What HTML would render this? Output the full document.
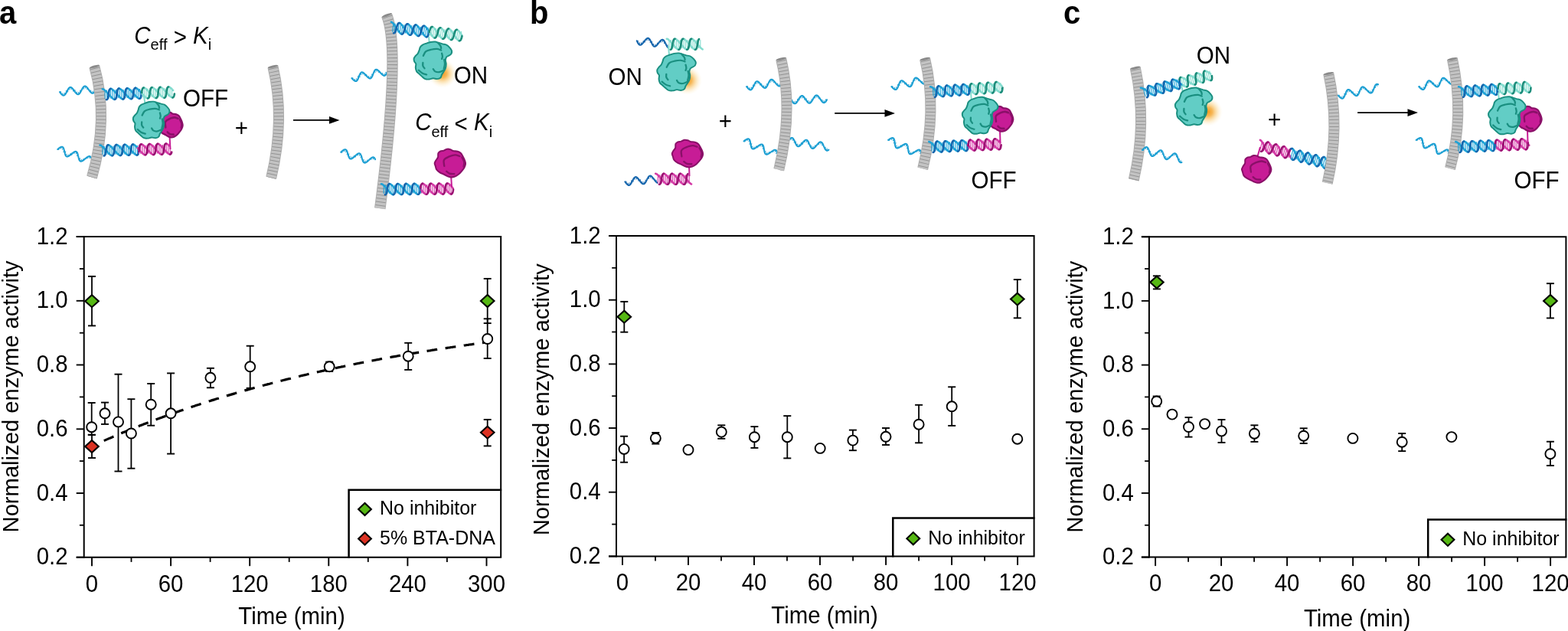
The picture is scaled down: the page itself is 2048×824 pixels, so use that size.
<!DOCTYPE html><html><head><meta charset="utf-8"><title>Figure</title><style>html,body{margin:0;padding:0;background:#fff;width:2048px;height:824px;overflow:hidden}svg{display:block}</style></head><body>
<svg width="2048" height="824" viewBox="0 0 2048 824" font-family="'Liberation Sans', sans-serif">
<defs><radialGradient id="glow"><stop offset="0" stop-color="#f29a20" stop-opacity="1"/><stop offset="0.3" stop-color="#f5ac3c" stop-opacity="0.85"/><stop offset="0.65" stop-color="#fad48a" stop-opacity="0.45"/><stop offset="1" stop-color="#fff4d8" stop-opacity="0"/></radialGradient></defs>
<rect width="2048" height="824" fill="#fff"/>
<text transform="translate(-1 30.6) scale(1 1.04)" font-size="40" text-anchor="start" font-weight="bold">a</text>
<text transform="translate(692 30.6) scale(1 1.04)" font-size="40" text-anchor="start" font-weight="bold">b</text>
<text transform="translate(1389 30.6) scale(1 1.04)" font-size="40" text-anchor="start" font-weight="bold">c</text>
<text transform="translate(175.3 56.6) scale(1 1.04)" font-size="29.5" fill="#000"><tspan font-style="italic">C</tspan><tspan font-size="20" dy="8">eff</tspan><tspan dy="-8"> </tspan><tspan dy="2">&gt;</tspan><tspan dy="-2"> </tspan><tspan font-style="italic">K</tspan><tspan font-size="20" dy="8">i</tspan></text>
<text transform="translate(542.2 170.4) scale(1 1.04)" font-size="29.5" fill="#000"><tspan font-style="italic">C</tspan><tspan font-size="20" dy="8">eff</tspan><tspan dy="-8"> </tspan><tspan dy="2">&lt;</tspan><tspan dy="-2"> </tspan><tspan font-style="italic">K</tspan><tspan font-size="20" dy="8">i</tspan></text>
<text transform="translate(238.9 139.2) scale(1 1.04)" font-size="29.6" text-anchor="start">OFF</text>
<text transform="translate(592.8 108.6) scale(1 1.04)" font-size="29.6" text-anchor="start">ON</text>
<text transform="translate(315.4 178) scale(1 1.04)" font-size="29.5" text-anchor="middle">+</text>
<line x1="383" y1="156.9" x2="435.5" y2="156.9" stroke="#000" stroke-width="1.8"/>
<path d="M443.5 156.9L430 152L430 161.8Z" fill="#000"/>
<path d="M78 120L78.3 120.4L78.6 120.8L78.8 121.2L79.1 121.5L79.4 121.9L79.7 122.2L79.9 122.6L80.2 122.9L80.5 123.2L80.7 123.5L81 123.7L81.3 123.9L81.5 124.1L81.8 124.3L82.1 124.4L82.3 124.5L82.6 124.6L82.8 124.6L83.1 124.6L83.3 124.6L83.6 124.5L83.8 124.4L84 124.3L84.3 124.1L84.5 124L84.7 123.7L85 123.5L85.2 123.2L85.4 122.9L85.7 122.6L85.9 122.2L86.1 121.9L86.3 121.5L86.5 121.1L86.8 120.7L87 120.3L87.2 119.8L87.4 119.4L87.6 119L87.8 118.6L88.1 118.1L88.3 117.7L88.5 117.3L88.7 116.9L88.9 116.6L89.2 116.2L89.4 115.9L89.6 115.5L89.8 115.3L90.1 115L90.3 114.7L90.5 114.5L90.8 114.4L91 114.2L91.2 114.1L91.5 114L91.7 114L92 113.9L92.2 114L92.5 114L92.7 114.1L93 114.2L93.2 114.3L93.5 114.5L93.8 114.7L94 115L94.3 115.2L94.6 115.5L94.8 115.8L95.1 116.1L95.4 116.5L95.7 116.8L95.9 117.2L96.2 117.6L96.5 118L96.8 118.3L97.1 118.7L97.3 119.1L97.6 119.5L97.9 119.9L98.2 120.3L98.4 120.6L98.7 121L99 121.3L99.3 121.6L99.5 121.9L99.8 122.1L100.1 122.4L100.3 122.6L100.6 122.8L100.9 122.9L101.1 123L101.4 123.1L101.6 123.2L101.9 123.2L102.1 123.2L102.4 123.2L102.6 123.1L102.8 123L103.1 122.8L103.3 122.7L103.6 122.4L103.8 122.2L104 122L104.2 121.7L104.5 121.4L104.7 121L104.9 120.7L105.1 120.3L105.4 119.9L105.6 119.5L105.8 119.1L106 118.7L106.2 118.2L106.4 117.8L106.7 117.4L106.9 117L107.1 116.5L107.3 116.1L107.5 115.7L107.7 115.4L108 115L108.2 114.6L108.4 114.3L108.6 114L108.9 113.7L109.1 113.5L109.3 113.2L109.6 113L109.8 112.9L110 112.7L110.3 112.6L110.5 112.6L110.8 112.5L111 112.5L111.3 112.5L111.5 112.6L111.8 112.7L112 112.8L112.3 113L112.6 113.2L112.8 113.4L113.1 113.6L113.4 113.9L113.6 114.2L113.9 114.5L114.2 114.8L114.5 115.2L114.7 115.5L115 115.9L115.3 116.3L115.6 116.7L115.8 117.1L116.1 117.5L116.4 117.8L116.7 118.2L116.9 118.6L117.2 119L117.5 119.3L117.8 119.7L118 120L118.3 120.3L118.6 120.6L118.9 120.8L119.1 121L119.4 121.2L119.6 121.4L119.9 121.5L120.2 121.7L120.4 121.7L120.7 121.8L120.9 121.8L121.2 121.8L121.4 121.7L121.7 121.6L121.9 121.5L122.1 121.3L122.4 121.1L122.6 120.9L122.8 120.7L123.1 120.4L123.3 120.1L123.5 119.8L123.7 119.5L123.9 119.1L124.2 118.7L124.4 118.3L124.6 117.9" fill="none" stroke="#1c9fd3" stroke-width="2.1" stroke-linecap="round" stroke-linejoin="round"/>
<path d="M79.7 122.3l-0.2 -3M82.1 124.5l-0.2 -3M84.4 124l-0.2 -3M86.5 121.1l-0.2 -3M88.5 117.3l0.2 3M90.6 114.5l0.2 3M92.9 114.2l0.2 3M95.4 116.5l0.2 3M98 120l-0.2 -3M100.5 122.7l-0.2 -3M102.8 123l-0.2 -3M104.9 120.6l-0.2 -3M109 113.6l0.2 3M111.2 112.5l0.2 3M113.7 114.2l0.2 3M118.8 120.7l-0.2 -3M121.2 121.8l-0.2 -3M123.3 120l-0.2 -3" fill="none" stroke="#1c9fd3" stroke-width="1.0"/>
<path d="M75.3 195L75.7 194.7L76 194.4L76.4 194.1L76.8 193.8L77.1 193.5L77.5 193.2L77.8 193L78.2 192.8L78.5 192.5L78.8 192.3L79.2 192.2L79.5 192L79.8 191.9L80.1 191.8L80.4 191.8L80.6 191.7L80.9 191.7L81.1 191.7L81.4 191.8L81.6 191.9L81.8 192L82 192.2L82.2 192.4L82.4 192.6L82.6 192.8L82.8 193.1L82.9 193.4L83.1 193.7L83.2 194.1L83.4 194.5L83.5 194.8L83.6 195.3L83.7 195.7L83.8 196.1L83.9 196.6L84 197L84.2 197.5L84.3 198L84.4 198.4L84.5 198.9L84.6 199.4L84.7 199.8L84.8 200.3L84.9 200.7L85 201.1L85.1 201.5L85.3 201.9L85.4 202.3L85.5 202.6L85.7 202.9L85.9 203.2L86 203.5L86.2 203.7L86.4 203.9L86.6 204.1L86.8 204.2L87 204.3L87.3 204.4L87.5 204.5L87.8 204.5L88.1 204.5L88.3 204.4L88.6 204.3L88.9 204.2L89.2 204.1L89.5 203.9L89.9 203.8L90.2 203.6L90.5 203.3L90.9 203.1L91.2 202.8L91.6 202.5L92 202.3L92.3 202L92.7 201.7L93.1 201.4L93.4 201.1L93.8 200.7L94.2 200.4L94.5 200.1L94.9 199.9L95.2 199.6L95.6 199.3L95.9 199.1L96.3 198.9L96.6 198.6L96.9 198.5L97.3 198.3L97.6 198.2L97.9 198.1L98.2 198L98.4 197.9L98.7 197.9L99 197.9L99.2 198L99.5 198L99.7 198.1L99.9 198.3L100.1 198.4L100.3 198.6L100.5 198.9L100.6 199.1L100.8 199.4L101 199.7L101.1 200.1L101.3 200.4L101.4 200.8L101.5 201.2L101.6 201.6L101.7 202L101.8 202.5L102 202.9L102.1 203.4L102.2 203.9L102.3 204.3L102.4 204.8L102.5 205.3L102.6 205.7L102.7 206.2L102.8 206.6L102.9 207.1L103 207.5L103.1 207.9L103.3 208.2L103.4 208.6L103.6 208.9L103.7 209.2L103.9 209.5L104.1 209.8L104.3 210L104.5 210.2L104.7 210.3L104.9 210.5L105.1 210.6L105.4 210.6L105.6 210.6L105.9 210.7L106.1 210.6L106.4 210.6L106.7 210.5L107 210.4L107.3 210.2L107.6 210L108 209.9L108.3 209.6L108.7 209.4L109 209.2L109.4 208.9L109.7 208.6L110.1 208.3L110.4 208L110.8 207.7L111.2 207.4L111.5 207.1L111.9 206.8L112.3 206.5L112.6 206.2L113 205.9L113.4 205.7L113.7 205.4L114.1 205.2L114.4 204.9L114.7 204.7L115 204.6L115.4 204.4L115.7 204.3L116 204.2L116.2 204.1L116.5 204.1L116.8 204.1L117 204.1L117.3 204.2L117.5 204.3L117.7 204.4L117.9 204.5L118.1 204.7L118.3 204.9L118.5 205.2L118.7 205.4L118.8 205.7L119 206L119.1 206.4" fill="none" stroke="#1c9fd3" stroke-width="2.1" stroke-linecap="round" stroke-linejoin="round"/>
<path d="M77.5 193.2l-1 2.8M80.4 191.7l-1 2.8M82.5 192.7l-1 2.8M83.8 196.1l-1 2.8M84.8 200.3l1 -2.8M86.1 203.6l1 -2.8M88.2 204.4l1 -2.8M91.2 202.8l1 -2.8M94.6 200.1l-1 2.8M97.7 198.1l-1 2.8M100 198.4l-1 2.8M101.5 201.2l-1 2.8M103.7 209.1l1 -2.8M105.6 210.6l1 -2.8M108.3 209.6l1 -2.8M114.9 204.6l-1 2.8M117.5 204.2l-1 2.8" fill="none" stroke="#1c9fd3" stroke-width="1.0"/>
<path d="M123.3 87Q142.3 154.8 120 231.5" fill="none" stroke="#acacac" stroke-width="14.1"/>
<path d="M123.3 87Q142.3 154.8 120 231.5" fill="none" stroke="#c3c3c3" stroke-width="12.3"/>
<path d="M123.3 87Q142.3 154.8 120 231.5" fill="none" stroke="#939393" stroke-width="12.5" stroke-dasharray="1.0 3.5" stroke-dashoffset="-2"/>
<path d="M123.3 87Q142.3 154.8 120 231.5" fill="none" stroke="#a9a9a9" stroke-width="13.5" stroke-opacity="0.0"/>
<ellipse cx="123.3" cy="87" rx="1.6" ry="6.8" fill="#8a8a8a" transform="rotate(74.6 123.3 87)"/>
<path d="M137.4 128.8L137 117.6M139.8 128.7L139.4 117.5M142.2 128.6L141.8 117.4M144.6 128.5L144.2 117.3M147 128.5L146.6 117.3M149.4 128.4L149 117.2M151.8 128.3L151.4 117.1M154.2 128.2L153.8 117M156.6 128.2L156.2 117M159 128.1L158.6 116.9M161.4 128L161 116.8M163.8 127.9L163.4 116.7M166.2 127.9L165.8 116.7M168.6 127.8L168.2 116.6M171 127.7L170.6 116.5M173.4 127.6L173 116.4M175.8 127.5L175.4 116.3M178.2 127.5L177.8 116.3M180.6 127.4L180.2 116.2M183 127.3L182.6 116.1" stroke="#1ea2d6" stroke-width="1.1" fill="none"/>
<path d="M144.6 115.9L144.9 116L145.3 116L145.7 116.2L146.1 116.4L146.6 116.7L147 117L147.5 117.4L148 117.9L148.6 118.4L149.1 118.9L149.7 119.5L150.2 120.1L150.8 120.7L151.4 121.4L152 122L152.6 122.7L153.2 123.3L153.8 124L154.4 124.7L154.9 125.3L155.5 125.9L156.1 126.5L156.6 127L157.1 127.5L157.7 127.9L158.1 128.3L158.6 128.7L159.1 128.9L159.5 129.2L159.9 129.3L160.3 129.4L160.6 129.4M166.2 115.2L166.5 115.3L166.9 115.4L167.3 115.5L167.7 115.7L168.2 116L168.6 116.3L169.1 116.7L169.6 117.2L170.2 117.7L170.7 118.2L171.3 118.8L171.8 119.4L172.4 120L173 120.7L173.6 121.3L174.2 122L174.8 122.7L175.4 123.3L176 124L176.5 124.6L177.1 125.2L177.7 125.8L178.2 126.3L178.7 126.8L179.2 127.2L179.7 127.6L180.2 128L180.7 128.3L181.1 128.5L181.5 128.6L181.9 128.7L182.2 128.7M133.8 116.3L134.1 116.3L134.5 116.4L134.9 116.5L135.3 116.8L135.8 117L136.2 117.4L136.7 117.8L137.2 118.2L137.8 118.7L138.3 119.2L138.9 119.8L139.4 120.4L140 121.1L140.6 121.7L141.2 122.4L141.8 123L142.4 123.7L143 124.4L143.6 125L144.2 125.6L144.7 126.2L145.3 126.8L145.8 127.3L146.4 127.8L146.9 128.3L147.4 128.7L147.8 129L148.3 129.3L148.7 129.5L149.1 129.7L149.5 129.8L149.8 129.8M155.4 115.6L155.7 115.6L156.1 115.7L156.5 115.9L156.9 116.1L157.4 116.4L157.8 116.7L158.3 117.1L158.8 117.5L159.4 118L159.9 118.6L160.5 119.1L161 119.7L161.6 120.4L162.2 121L162.8 121.7L163.4 122.3L164 123L164.6 123.7L165.2 124.3L165.7 124.9L166.3 125.5L166.9 126.1L167.4 126.7L167.9 127.1L168.4 127.6L168.9 128L169.4 128.3L169.9 128.6L170.3 128.8L170.7 129L171.1 129.1L171.4 129.1M177 114.9L177.3 114.9L177.7 115L178.1 115.2L178.5 115.4L179 115.7L179.4 116L179.9 116.4L180.4 116.8L181 117.3L181.5 117.9L182.1 118.5L182.6 119.1L183.2 119.7L183.8 120.3L184.4 121L185 121.7L185.6 122.3" fill="none" stroke="#1ea2d6" stroke-width="2.6" stroke-linecap="round" stroke-linejoin="round"/>
<path d="M139 130.1L139.3 130.1L139.6 130L139.9 129.8L140.2 129.5L140.4 129.2L140.6 128.9L140.8 128.5L141 128L141.1 127.5L141.2 126.9L141.3 126.3L141.5 125.7L141.5 125.1L141.6 124.4L141.7 123.7L141.8 123L141.9 122.3L142 121.7L142 121L142.1 120.3L142.2 119.7L142.4 119.1L142.5 118.6L142.6 118L142.8 117.6L143 117.2L143.2 116.8L143.4 116.5L143.7 116.3L143.9 116.1L144.2 116L144.6 115.9M160.6 129.4L160.9 129.4L161.2 129.3L161.5 129.1L161.8 128.9L162 128.6L162.2 128.2L162.4 127.8L162.5 127.3L162.7 126.8L162.8 126.2L162.9 125.7L163 125L163.1 124.4L163.2 123.7L163.3 123L163.4 122.3L163.5 121.6L163.5 121L163.6 120.3L163.7 119.6L163.8 119L164 118.4L164.1 117.9L164.2 117.4L164.4 116.9L164.6 116.5L164.8 116.1L165 115.8L165.3 115.6L165.5 115.4L165.8 115.3L166.2 115.2M182.2 128.7L182.5 128.7L182.8 128.6L183.1 128.4L183.4 128.2L183.6 127.9L183.8 127.5L184 127.1L184.1 126.6L184.3 126.1L184.4 125.5L184.5 124.9L184.6 124.3L184.7 123.7L184.8 123L184.9 122.3L185 121.6L185.1 120.9M149.8 129.8L150.1 129.7L150.4 129.6L150.7 129.4L151 129.2L151.2 128.9L151.4 128.5L151.6 128.1L151.7 127.7L151.9 127.1L152 126.6L152.1 126L152.2 125.4L152.3 124.7L152.4 124.1L152.5 123.4L152.6 122.7L152.7 122L152.8 121.3L152.8 120.6L152.9 120L153 119.4L153.2 118.8L153.3 118.2L153.4 117.7L153.6 117.2L153.8 116.8L154 116.5L154.2 116.2L154.5 115.9L154.7 115.7L155 115.6L155.4 115.6M171.4 129.1L171.7 129L172 128.9L172.3 128.8L172.6 128.5L172.8 128.2L173 127.9L173.2 127.4L173.3 127L173.5 126.5L173.6 125.9L173.7 125.3L173.8 124.7L173.9 124L174 123.4L174.1 122.7L174.2 122L174.3 121.3L174.3 120.6L174.4 119.9L174.5 119.3L174.6 118.7L174.7 118.1L174.9 117.5L175 117L175.2 116.5L175.4 116.1L175.6 115.8L175.8 115.5L176.1 115.2L176.3 115.1L176.6 114.9L177 114.9" fill="none" stroke="#1666ad" stroke-width="2.6" stroke-linecap="round" stroke-linejoin="round"/>
<path d="M186.3 127.2L185.9 116M188.7 127.1L188.3 115.9M191.1 127.1L190.7 115.9M193.5 127L193.1 115.8M195.9 126.9L195.5 115.7M198.3 126.8L197.9 115.6M200.7 126.7L200.3 115.6M203.1 126.7L202.7 115.5M205.5 126.6L205.1 115.4M207.9 126.5L207.5 115.3M210.3 126.4L209.9 115.2M212.7 126.4L212.3 115.2M215.1 126.3L214.7 115.1M217.5 126.2L217.1 115M219.9 126.1L219.5 114.9M222.3 126.1L221.9 114.9M224.7 126L224.3 114.8" stroke="#84dccf" stroke-width="1.1" fill="none"/>
<path d="M187.7 114.6L188.1 114.6L188.5 114.7L188.9 114.8L189.3 115L189.7 115.3L190.2 115.7L190.7 116L191.2 116.5L191.7 117L192.3 117.5L192.8 118.1L193.4 118.7L194 119.3L194.6 120L195.2 120.6L195.8 121.3L196.4 122L197 122.6L197.5 123.3L198.1 123.9L198.7 124.5L199.3 125.1L199.8 125.6L200.3 126.1L200.8 126.6L201.3 126.9L201.8 127.3L202.2 127.6L202.7 127.8L203.1 127.9L203.4 128L203.8 128M209.3 113.9L209.7 113.9L210.1 114L210.5 114.1L210.9 114.3L211.3 114.6L211.8 115L212.3 115.4L212.8 115.8L213.3 116.3L213.9 116.8L214.4 117.4L215 118L215.6 118.6L216.2 119.3L216.8 119.9L217.4 120.6L218 121.3L218.5 121.9L219.1 122.6L219.7 123.2L220.3 123.8L220.8 124.4L221.4 124.9L221.9 125.4L222.4 125.9L222.9 126.3L223.4 126.6L223.8 126.9L224.3 127.1L224.7 127.2L225 127.3L225.4 127.4M185.6 122.3L186.2 123L186.8 123.6L187.3 124.3L187.9 124.9L188.5 125.4L189 126L189.5 126.5L190 126.9L190.5 127.3L191 127.6L191.5 127.9L191.9 128.1L192.3 128.3L192.6 128.4L193 128.4M198.5 114.2L198.9 114.2L199.3 114.3L199.7 114.5L200.1 114.7L200.5 115L201 115.3L201.5 115.7L202 116.1L202.5 116.6L203.1 117.2L203.6 117.7L204.2 118.3L204.8 119L205.4 119.6L206 120.3L206.6 121L207.2 121.6L207.8 122.3L208.3 122.9L208.9 123.6L209.5 124.2L210 124.7L210.6 125.3L211.1 125.8L211.6 126.2L212.1 126.6L212.6 126.9L213 127.2L213.5 127.4L213.9 127.6L214.2 127.7L214.6 127.7M220.1 113.5L220.5 113.5L220.9 113.6L221.3 113.8L221.8 114L222.2 114.4L222.7 114.7L223.3 115.2L223.8 115.6L224.4 116.2L224.9 116.8L225.5 117.4L226.1 118" fill="none" stroke="#84dccf" stroke-width="2.6" stroke-linecap="round" stroke-linejoin="round"/>
<path d="M185.1 120.9L185.1 120.3L185.2 119.6L185.3 118.9L185.4 118.3L185.5 117.7L185.7 117.2L185.8 116.7L186 116.2L186.2 115.8L186.4 115.4L186.6 115.1L186.9 114.9L187.1 114.7L187.4 114.6L187.7 114.6M203.8 128L204.1 128L204.4 127.9L204.7 127.7L204.9 127.5L205.2 127.2L205.4 126.8L205.6 126.4L205.7 125.9L205.9 125.4L206 124.9L206.1 124.3L206.2 123.6L206.3 123L206.4 122.3L206.5 121.6L206.6 121L206.6 120.3L206.7 119.6L206.8 118.9L206.9 118.3L207 117.6L207.1 117L207.3 116.5L207.4 116L207.6 115.5L207.8 115.1L208 114.7L208.2 114.4L208.4 114.2L208.7 114L209 113.9L209.3 113.9M225.4 127.4L225.7 127.3L226 127.2L226.3 127L226.6 126.7L226.8 126.4L227 126L227.2 125.6L227.4 125L227.5 124.5L227.6 123.9L227.8 123.2L227.9 122.6M193 128.4L193.3 128.3L193.6 128.2L193.9 128.1L194.1 127.8L194.4 127.5L194.6 127.2L194.8 126.7L194.9 126.3L195.1 125.8L195.2 125.2L195.3 124.6L195.4 124L195.5 123.3L195.6 122.7L195.7 122L195.8 121.3L195.8 120.6L195.9 119.9L196 119.3L196.1 118.6L196.2 118L196.3 117.4L196.5 116.8L196.6 116.3L196.8 115.9L197 115.4L197.2 115.1L197.4 114.8L197.6 114.5L197.9 114.4L198.2 114.3L198.5 114.2M214.6 127.7L214.9 127.7L215.2 127.5L215.5 127.4L215.7 127.1L216 126.8L216.2 126.5L216.3 126.1L216.5 125.6L216.7 125.1L216.8 124.5L216.9 123.9L217 123.3L217.1 122.6L217.2 122L217.3 121.3L217.4 120.6L217.4 119.9L217.5 119.2L217.6 118.6L217.7 117.9L217.8 117.3L217.9 116.7L218.1 116.1L218.2 115.6L218.4 115.2L218.6 114.7L218.8 114.4L219 114.1L219.2 113.8L219.5 113.7L219.8 113.6L220.1 113.5" fill="none" stroke="#1b8c7a" stroke-width="2.6" stroke-linecap="round" stroke-linejoin="round"/>
<path d="M134 202.1L133.8 190.9M136.4 202L136.2 190.8M138.8 202L138.6 190.8M141.2 201.9L141 190.7M143.6 201.9L143.4 190.7M146 201.8L145.8 190.6M148.4 201.8L148.2 190.6M150.8 201.7L150.6 190.5M153.2 201.7L153 190.5M155.6 201.6L155.4 190.4M158 201.5L157.8 190.3M160.4 201.5L160.2 190.3M162.8 201.4L162.6 190.2M165.2 201.4L165 190.2M167.6 201.3L167.4 190.1M170 201.3L169.8 190.1M172.4 201.2L172.2 190M174.8 201.2L174.6 190M177.2 201.1L177 189.9M179.6 201.1L179.4 189.9" stroke="#1ea2d6" stroke-width="1.1" fill="none"/>
<path d="M141.3 189.3L141.7 189.3L142.1 189.4L142.5 189.6L142.9 189.8L143.3 190.1L143.8 190.4L144.3 190.8L144.8 191.3L145.3 191.8L145.9 192.3L146.4 192.9L147 193.5L147.5 194.1L148.1 194.8L148.7 195.5L149.3 196.1L149.9 196.8L150.5 197.5L151.1 198.1L151.6 198.8L152.2 199.4L152.7 200L153.3 200.5L153.8 201L154.3 201.4L154.8 201.8L155.3 202.2L155.7 202.5L156.1 202.7L156.5 202.8L156.9 202.9L157.3 203M162.9 188.8L163.3 188.9L163.7 189L164.1 189.1L164.5 189.3L164.9 189.6L165.4 190L165.9 190.4L166.4 190.8L166.9 191.3L167.4 191.8L168 192.4L168.6 193L169.1 193.7L169.7 194.3L170.3 195L170.9 195.7L171.5 196.3L172.1 197L172.6 197.6L173.2 198.3L173.8 198.9L174.3 199.5L174.9 200L175.4 200.5L175.9 201L176.4 201.4L176.9 201.7L177.3 202L177.7 202.2L178.1 202.4L178.5 202.5L178.8 202.5M130.5 189.6L130.9 189.6L131.3 189.7L131.7 189.8L132.1 190.1L132.5 190.3L133 190.7L133.5 191.1L134 191.5L134.5 192L135.1 192.6L135.6 193.1L136.2 193.8L136.7 194.4L137.3 195L137.9 195.7L138.5 196.4L139.1 197.1L139.7 197.7L140.3 198.4L140.8 199L141.4 199.6L141.9 200.2L142.5 200.7L143 201.2L143.5 201.7L144 202.1L144.5 202.4L144.9 202.7L145.3 202.9L145.7 203.1L146.1 203.2L146.5 203.2M152.1 189.1L152.5 189.1L152.9 189.2L153.3 189.3L153.7 189.6L154.1 189.9L154.6 190.2L155.1 190.6L155.6 191L156.1 191.5L156.6 192.1L157.2 192.7L157.8 193.3L158.3 193.9L158.9 194.6L159.5 195.2L160.1 195.9L160.7 196.6L161.3 197.2L161.8 197.9L162.4 198.5L163 199.1L163.5 199.7L164.1 200.3L164.6 200.7L165.1 201.2L165.6 201.6L166.1 201.9L166.5 202.2L166.9 202.4L167.3 202.6L167.7 202.7L168 202.7M173.7 188.6L174.1 188.6L174.5 188.7L174.9 188.9L175.4 189.2L175.9 189.5L176.4 189.9L176.9 190.3L177.4 190.8L178 191.4L178.6 192L179.2 192.6L179.8 193.3" fill="none" stroke="#1ea2d6" stroke-width="2.6" stroke-linecap="round" stroke-linejoin="round"/>
<path d="M135.7 203.4L136 203.4L136.3 203.3L136.6 203.1L136.8 202.9L137 202.6L137.2 202.2L137.4 201.8L137.6 201.4L137.8 200.8L137.9 200.3L138 199.7L138.1 199.1L138.2 198.4L138.3 197.7L138.4 197.1L138.5 196.4L138.6 195.7L138.7 195L138.8 194.3L138.9 193.7L139 193.1L139.1 192.5L139.2 191.9L139.4 191.4L139.6 190.9L139.7 190.5L140 190.2L140.2 189.9L140.4 189.6L140.7 189.5L141 189.4L141.3 189.3M157.3 203L157.6 202.9L157.9 202.8L158.2 202.6L158.4 202.4L158.6 202.1L158.8 201.7L159 201.3L159.2 200.9L159.4 200.4L159.5 199.8L159.6 199.2L159.7 198.6L159.8 197.9L159.9 197.3L160 196.6L160.1 195.9L160.2 195.2L160.3 194.5L160.4 193.9L160.5 193.2L160.6 192.6L160.7 192L160.8 191.4L161 190.9L161.2 190.5L161.3 190L161.6 189.7L161.8 189.4L162 189.2L162.3 189L162.6 188.9L162.9 188.8M178.8 202.5L179.2 202.4L179.5 202.3L179.8 202.1L180.1 201.9L180.3 201.5L180.5 201.1L180.7 200.7L180.9 200.1L181 199.6L181.2 199L181.3 198.3L181.4 197.6M146.5 203.2L146.8 203.2L147.1 203.1L147.4 202.9L147.6 202.6L147.8 202.3L148 202L148.2 201.6L148.4 201.1L148.6 200.6L148.7 200L148.8 199.4L148.9 198.8L149 198.2L149.1 197.5L149.2 196.8L149.3 196.1L149.4 195.5L149.5 194.8L149.6 194.1L149.7 193.5L149.8 192.8L149.9 192.2L150 191.7L150.2 191.2L150.4 190.7L150.5 190.3L150.8 189.9L151 189.6L151.2 189.4L151.5 189.2L151.8 189.1L152.1 189.1M168 202.7L168.4 202.7L168.7 202.6L168.9 202.4L169.2 202.2L169.4 201.9L169.6 201.5L169.8 201.1L170 200.6L170.1 200.1L170.3 199.6L170.4 199L170.5 198.3L170.6 197.7L170.7 197L170.8 196.3L170.9 195.7L171 195L171.1 194.3L171.2 193.6L171.3 193L171.4 192.3L171.5 191.8L171.6 191.2L171.8 190.7L172 190.2L172.1 189.8L172.3 189.4L172.6 189.2L172.8 188.9L173.1 188.7L173.4 188.6L173.7 188.6" fill="none" stroke="#1666ad" stroke-width="2.6" stroke-linecap="round" stroke-linejoin="round"/>
<path d="M181.5 201L181.3 189.8M183.9 201L183.7 189.8M186.3 200.9L186.1 189.7M188.7 200.9L188.5 189.7M191.1 200.8L190.9 189.6M193.5 200.8L193.3 189.6M195.9 200.7L195.7 189.5M198.3 200.6L198.1 189.4M200.7 200.6L200.5 189.4M203.1 200.5L202.9 189.3M205.5 200.5L205.3 189.3M207.9 200.4L207.7 189.2M210.3 200.4L210.1 189.2M212.7 200.3L212.5 189.1M215.1 200.3L214.9 189.1M217.5 200.2L217.3 189M219.9 200.2L219.7 189M222.3 200.1L222.1 188.9" stroke="#d43aa6" stroke-width="1.1" fill="none"/>
<path d="M184.5 188.4L184.9 188.4L185.3 188.5L185.7 188.6L186.1 188.8L186.5 189.1L187 189.5L187.5 189.9L188 190.3L188.5 190.8L189 191.4L189.6 191.9L190.2 192.5L190.7 193.2L191.3 193.8L191.9 194.5L192.5 195.2L193.1 195.8L193.7 196.5L194.2 197.2L194.8 197.8L195.4 198.4L195.9 199L196.5 199.5L197 200L197.5 200.5L198 200.9L198.5 201.2L198.9 201.5L199.3 201.7L199.7 201.9L200.1 202L200.4 202M206.1 187.9L206.5 187.9L206.8 188L207.2 188.1L207.7 188.4L208.1 188.7L208.6 189L209.1 189.4L209.6 189.8L210.1 190.3L210.6 190.9L211.2 191.5L211.8 192.1L212.3 192.7L212.9 193.4L213.5 194L214.1 194.7L214.7 195.4L215.3 196L215.8 196.7L216.4 197.3L217 197.9L217.5 198.5L218.1 199L218.6 199.5L219.1 200L219.6 200.4L220 200.7L220.5 201L220.9 201.2L221.3 201.4L221.7 201.5L222 201.5M179.8 193.3L180.4 193.9L181 194.6L181.6 195.3L182.2 196L182.7 196.6L183.3 197.3L183.9 197.9L184.5 198.6L185.1 199.2L185.6 199.7L186.1 200.2L186.7 200.7L187.1 201.1L187.6 201.4L188.1 201.7L188.5 202L188.9 202.1L189.3 202.2L189.6 202.2M195.3 188.1L195.7 188.1L196.1 188.2L196.5 188.4L196.9 188.6L197.3 188.9L197.8 189.2L198.3 189.6L198.8 190.1L199.3 190.6L199.8 191.1L200.4 191.7L201 192.3L201.5 192.9L202.1 193.6L202.7 194.3L203.3 194.9L203.9 195.6L204.5 196.3L205 196.9L205.6 197.6L206.2 198.2L206.7 198.7L207.3 199.3L207.8 199.8L208.3 200.2L208.8 200.6L209.2 201L209.7 201.3L210.1 201.5L210.5 201.6L210.9 201.7L211.2 201.8M216.9 187.6L217.3 187.7L217.7 187.8L218.1 187.9L218.6 188.2L219.1 188.5L219.6 188.9L220.1 189.3L220.6 189.8L221.2 190.4" fill="none" stroke="#d43aa6" stroke-width="2.6" stroke-linecap="round" stroke-linejoin="round"/>
<path d="M181.4 197.6L181.5 197L181.6 196.3L181.7 195.6L181.8 194.9L181.8 194.2L181.9 193.5L182 192.8L182.2 192.2L182.3 191.6L182.4 191L182.6 190.5L182.7 190L182.9 189.6L183.1 189.2L183.4 188.9L183.6 188.7L183.9 188.5L184.2 188.4L184.5 188.4M200.4 202L200.8 202L201.1 201.9L201.3 201.7L201.6 201.4L201.8 201.1L202 200.8L202.2 200.4L202.4 199.9L202.5 199.4L202.7 198.8L202.8 198.2L202.9 197.6L203 197L203.1 196.3L203.2 195.6L203.3 194.9L203.4 194.2L203.5 193.6L203.6 192.9L203.7 192.2L203.8 191.6L203.9 191L204 190.5L204.2 190L204.3 189.5L204.5 189.1L204.7 188.7L205 188.4L205.2 188.2L205.5 188L205.8 187.9L206.1 187.9M222 201.5L222.4 201.5L222.7 201.4L223 201.2L223.2 200.9L223.5 200.6L223.7 200.2L223.9 199.7L224.1 199.2L224.2 198.6M189.6 202.2L190 202.2L190.3 202.1L190.5 201.9L190.8 201.7L191 201.4L191.2 201L191.4 200.6L191.6 200.1L191.7 199.6L191.9 199.1L192 198.5L192.1 197.9L192.2 197.2L192.3 196.5L192.4 195.9L192.5 195.2L192.6 194.5L192.7 193.8L192.8 193.1L192.9 192.5L193 191.9L193.1 191.3L193.2 190.7L193.4 190.2L193.5 189.7L193.7 189.3L193.9 189L194.2 188.7L194.4 188.4L194.7 188.3L195 188.2L195.3 188.1M211.2 201.8L211.6 201.7L211.9 201.6L212.1 201.4L212.4 201.2L212.6 200.9L212.8 200.5L213 200.1L213.2 199.7L213.3 199.2L213.5 198.6L213.6 198L213.7 197.4L213.8 196.7L213.9 196.1L214 195.4L214.1 194.7L214.2 194L214.3 193.3L214.4 192.7L214.5 192L214.6 191.4L214.7 190.8L214.8 190.2L215 189.7L215.1 189.3L215.3 188.8L215.5 188.5L215.8 188.2L216 187.9L216.3 187.8L216.6 187.7L216.9 187.6" fill="none" stroke="#9a1272" stroke-width="2.6" stroke-linecap="round" stroke-linejoin="round"/>
<line x1="188" y1="125" x2="189.5" y2="136" stroke="#84dccf" stroke-width="2"/>
<line x1="221.5" y1="178" x2="222.5" y2="195" stroke="#c71c96" stroke-width="2"/>
<g transform="translate(222.4 162.8) rotate(0) scale(0.05806 0.06831) translate(-384 -398)"><path d="M170 230C177.5 212.5 193.3 202.5 210 195C226.7 187.5 250 190.8 270 185C290 179.2 310 163.3 330 160C350 156.7 371.7 160 390 165C408.3 170 418.3 184.2 440 190C461.7 195.8 496.7 193.3 520 200C543.3 206.7 563.3 215 580 230C596.7 245 608.3 270 620 290C631.7 310 642.5 330 650 350C657.5 370 665.8 390 665 410C664.2 430 655.8 450 645 470C634.2 490 617.5 510 600 530C582.5 550 561.7 573.3 540 590C518.3 606.7 493.3 621.7 470 630C446.7 638.3 423.3 641.7 400 640C376.7 638.3 351.7 628.3 330 620C308.3 611.7 291.7 600 270 590C248.3 580 221.7 573.3 200 560C178.3 546.7 153.3 528.3 140 510C126.7 491.7 125.8 468.3 120 450C114.2 431.7 103.3 416.7 105 400C106.7 383.3 120 366.7 130 350C140 333.3 158.3 320 165 300C171.7 280 162.5 247.5 170 230Z" fill="#c71c96" stroke="#8a1068" stroke-width="34.4" stroke-linejoin="round"/><path d="M280 450C278.3 435 266.7 381.7 270 360C273.3 338.3 285 331.7 300 320C315 308.3 340 298.3 360 290C380 281.7 400 275 420 270C440 265 456.7 258.3 480 260C503.3 261.7 546.7 276.7 560 280M320 540C330 546.7 356.7 572.5 380 580C403.3 587.5 446.7 584.2 460 585M600 300C606.7 313.3 635 353.3 640 380C645 406.7 631.7 446.7 630 460" fill="none" stroke="#8a1068" stroke-width="39.6" stroke-linecap="round"/></g>
<g transform="translate(197.5 156.8) rotate(0) scale(0.08323 0.07996) translate(-353 -467)"><path d="M165 250C173.3 235.8 184.2 225 200 215C215.8 205 240 197.5 260 190C280 182.5 298.3 174.2 320 170C341.7 165.8 370 163.3 390 165C410 166.7 421.7 174.2 440 180C458.3 185.8 480 194.2 500 200C520 205.8 541.7 205 560 215C578.3 225 596.7 244.2 610 260C623.3 275.8 636.7 293.3 640 310C643.3 326.7 638.3 346.7 630 360C621.7 373.3 601.7 381.7 590 390C578.3 398.3 567.5 398.3 560 410C552.5 421.7 545.8 441.7 545 460C544.2 478.3 555 498.3 555 520C555 541.7 550.8 570 545 590C539.2 610 529.2 623.3 520 640C510.8 656.7 498.3 673.3 490 690C481.7 706.7 481.7 728.3 470 740C458.3 751.7 438.3 758.3 420 760C401.7 761.7 380 749.2 360 750C340 750.8 320 763.3 300 765C280 766.7 258.3 767.5 240 760C221.7 752.5 205 733.3 190 720C175 706.7 163.3 693.3 150 680C136.7 666.7 119.2 656.7 110 640C100.8 623.3 96.7 600 95 580C93.3 560 103.3 536.7 100 520C96.7 503.3 80 495 75 480C70 465 66.7 445 70 430C73.3 415 85 403.3 95 390C105 376.7 120.8 365 130 350C139.2 335 144.2 316.7 150 300C155.8 283.3 156.7 264.2 165 250Z" fill="#62cdc5" stroke="#1a8f80" stroke-width="24.0" stroke-linejoin="round"/><path d="M210 390C216.7 378.3 230 336.7 250 320C270 303.3 301.7 296.7 330 290C358.3 283.3 395 278.3 420 280C445 281.7 470 296.7 480 300M205 500C205 508.3 200.8 535 205 550C209.2 565 225.8 583.3 230 590M360 600C365 606.7 375 631.7 390 640C405 648.3 428.3 653.3 450 650C471.7 646.7 508.3 625 520 620M490 350C491.7 358.3 500 385 500 400C500 415 491.7 433.3 490 440M430 180C436.7 188.3 461.7 215 470 230C478.3 245 478.3 263.3 480 270M140 620C150 628.3 180 658.3 200 670C220 681.7 250 686.7 260 690M525 450C526.7 461.7 535.8 495 535 520C534.2 545 522.5 586.7 520 600" fill="none" stroke="#1a8f80" stroke-width="27.6" stroke-linecap="round"/></g>
<path d="M356.4 87Q372.7 155 354.2 232.2" fill="none" stroke="#acacac" stroke-width="14.1"/>
<path d="M356.4 87Q372.7 155 354.2 232.2" fill="none" stroke="#c3c3c3" stroke-width="12.3"/>
<path d="M356.4 87Q372.7 155 354.2 232.2" fill="none" stroke="#939393" stroke-width="12.5" stroke-dasharray="1.0 3.5" stroke-dashoffset="-2"/>
<path d="M356.4 87Q372.7 155 354.2 232.2" fill="none" stroke="#a9a9a9" stroke-width="13.5" stroke-opacity="0.0"/>
<ellipse cx="356.4" cy="87" rx="1.6" ry="6.8" fill="#8a8a8a" transform="rotate(76.8 356.4 87)"/>
<circle cx="578" cy="96" r="19" fill="url(#glow)"/>
<path d="M459.4 102L459.7 102.4L460 102.7L460.4 103.1L460.7 103.4L461 103.7L461.3 104L461.6 104.3L461.9 104.6L462.2 104.9L462.5 105.1L462.8 105.3L463.1 105.5L463.4 105.7L463.7 105.8L463.9 105.9L464.2 106L464.5 106L464.7 106L465 106L465.2 106L465.4 105.9L465.7 105.8L465.9 105.6L466.1 105.4L466.3 105.2L466.5 104.9L466.7 104.7L466.9 104.4L467.1 104.1L467.3 103.7L467.5 103.3L467.7 103L467.8 102.5L468 102.1L468.2 101.7L468.3 101.3L468.5 100.8L468.7 100.4L468.8 99.9L469 99.5L469.2 99L469.3 98.6L469.5 98.2L469.7 97.8L469.9 97.4L470 97L470.2 96.6L470.4 96.3L470.6 96L470.8 95.7L471 95.4L471.2 95.2L471.4 94.9L471.6 94.8L471.8 94.6L472.1 94.5L472.3 94.4L472.6 94.4L472.8 94.4L473.1 94.4L473.3 94.4L473.6 94.5L473.9 94.6L474.1 94.8L474.4 94.9L474.7 95.1L475 95.3L475.3 95.6L475.6 95.9L475.9 96.1L476.2 96.4L476.5 96.8L476.9 97.1L477.2 97.4L477.5 97.8L477.8 98.1L478.1 98.5L478.5 98.8L478.8 99.2L479.1 99.5L479.4 99.9L479.7 100.2L480 100.5L480.3 100.8L480.7 101.1L481 101.3L481.3 101.6L481.5 101.8L481.8 102L482.1 102.1L482.4 102.3L482.7 102.4L482.9 102.4L483.2 102.4L483.4 102.4L483.7 102.4L483.9 102.4L484.2 102.3L484.4 102.1L484.6 102L484.8 101.8L485 101.5L485.2 101.3L485.4 101L485.6 100.7L485.8 100.4L486 100L486.2 99.6L486.4 99.3L486.5 98.9L486.7 98.4L486.9 98L487 97.6L487.2 97.1L487.4 96.7L487.5 96.2L487.7 95.8L487.9 95.3L488 94.9L488.2 94.5L488.4 94.1L488.6 93.7L488.7 93.3L488.9 92.9L489.1 92.6L489.3 92.3L489.5 92L489.7 91.7L489.9 91.5L490.1 91.3L490.3 91.1L490.6 91L490.8 90.9L491 90.8L491.3 90.8L491.5 90.8L491.8 90.8L492 90.9L492.3 90.9L492.6 91.1L492.9 91.2L493.2 91.4L493.4 91.6L493.7 91.8L494 92.1L494.3 92.3L494.7 92.6L495 92.9L495.3 93.3L495.6 93.6L495.9 93.9L496.2 94.3L496.6 94.6L496.9 95L497.2 95.3L497.5 95.7L497.8 96L498.1 96.4L498.5 96.7L498.8 97L499.1 97.3L499.4 97.6L499.7 97.8L500 98L500.3 98.2L500.6 98.4L500.8 98.6L501.1 98.7L501.4 98.8L501.6 98.8L501.9 98.9L502.2 98.9L502.4 98.8L502.6 98.7L502.9 98.6L503.1 98.5L503.3 98.3L503.5 98.1L503.7 97.9L503.9 97.6L504.1 97.3L504.3 97L504.5 96.7L504.7 96.3L504.9 96L505.1 95.6L505.2 95.2L505.4 94.7" fill="none" stroke="#1c9fd3" stroke-width="2.1" stroke-linecap="round" stroke-linejoin="round"/>
<path d="M461.3 104.1l-0.6 -2.9M464 106l-0.6 -2.9M466.2 105.3l-0.6 -2.9M468 102.2l-0.6 -2.9M469.5 98.1l0.6 2.9M471.3 95l0.6 2.9M473.5 94.5l0.6 2.9M476.3 96.5l0.6 2.9M479.2 99.7l-0.6 -2.9M482 102.1l-0.6 -2.9M484.4 102.1l-0.6 -2.9M486.2 99.5l-0.6 -2.9M489.5 92l0.6 2.9M491.6 90.8l0.6 2.9M494.2 92.2l0.6 2.9M500 98l-0.6 -2.9M502.5 98.8l-0.6 -2.9M504.4 96.8l-0.6 -2.9" fill="none" stroke="#1c9fd3" stroke-width="1.0"/>
<path d="M445.3 198.8L445.6 198.5L446 198.1L446.3 197.8L446.7 197.5L447 197.2L447.4 196.9L447.7 196.6L448 196.4L448.4 196.2L448.7 195.9L449 195.7L449.3 195.6L449.6 195.4L449.9 195.3L450.1 195.3L450.4 195.2L450.7 195.2L450.9 195.2L451.2 195.2L451.4 195.3L451.6 195.4L451.9 195.6L452.1 195.7L452.3 196L452.5 196.2L452.6 196.4L452.8 196.7L453 197.1L453.2 197.4L453.3 197.8L453.5 198.1L453.6 198.5L453.8 199L453.9 199.4L454 199.8L454.2 200.3L454.3 200.7L454.4 201.2L454.5 201.7L454.7 202.1L454.8 202.6L454.9 203L455.1 203.5L455.2 203.9L455.4 204.3L455.5 204.7L455.7 205.1L455.8 205.4L456 205.8L456.2 206.1L456.3 206.3L456.5 206.6L456.7 206.8L456.9 207L457.1 207.2L457.4 207.3L457.6 207.4L457.8 207.5L458.1 207.5L458.3 207.5L458.6 207.5L458.9 207.4L459.2 207.3L459.5 207.2L459.8 207L460.1 206.8L460.4 206.6L460.7 206.4L461 206.2L461.4 205.9L461.7 205.6L462 205.3L462.4 205L462.7 204.7L463.1 204.4L463.4 204.1L463.8 203.7L464.1 203.4L464.5 203.1L464.8 202.8L465.1 202.5L465.5 202.2L465.8 201.9L466.2 201.6L466.5 201.4L466.8 201.1L467.1 200.9L467.4 200.7L467.7 200.6L468 200.5L468.3 200.4L468.6 200.3L468.8 200.3L469.1 200.3L469.4 200.3L469.6 200.3L469.8 200.4L470 200.6L470.3 200.7L470.5 200.9L470.7 201.1L470.9 201.4L471 201.6L471.2 202L471.4 202.3L471.5 202.6L471.7 203L471.8 203.4L472 203.8L472.1 204.2L472.3 204.7L472.4 205.1L472.5 205.6L472.7 206L472.8 206.5L472.9 206.9L473 207.4L473.2 207.9L473.3 208.3L473.4 208.7L473.6 209.2L473.7 209.6L473.9 209.9L474 210.3L474.2 210.7L474.4 211L474.5 211.3L474.7 211.5L474.9 211.8L475.1 212L475.3 212.2L475.5 212.3L475.8 212.4L476 212.5L476.3 212.6L476.5 212.6L476.8 212.6L477 212.5L477.3 212.4L477.6 212.3L477.9 212.2L478.2 212L478.5 211.8L478.8 211.6L479.1 211.4L479.5 211.1L479.8 210.9L480.1 210.6L480.5 210.3L480.8 210L481.2 209.7L481.5 209.3L481.9 209L482.2 208.7L482.6 208.3L482.9 208L483.3 207.7L483.6 207.4L483.9 207.1L484.3 206.8L484.6 206.6L484.9 206.3L485.2 206.1L485.6 205.9L485.9 205.8L486.2 205.6L486.4 205.5L486.7 205.4L487 205.4L487.3 205.3L487.5 205.3L487.8 205.4L488 205.5L488.2 205.6L488.5 205.7L488.7 205.9L488.9 206.1L489.1 206.3L489.2 206.6L489.4 206.9L489.6 207.2L489.8 207.5L489.9 207.9L490.1 208.2" fill="none" stroke="#1c9fd3" stroke-width="2.1" stroke-linecap="round" stroke-linejoin="round"/>
<path d="M447.4 196.9l-0.8 2.9M450.2 195.2l-0.8 2.9M452.4 196.1l-0.8 2.9M453.9 199.3l-0.8 2.9M455.1 203.5l0.8 -2.9M456.6 206.7l0.8 -2.9M458.8 207.4l0.8 -2.9M461.7 205.7l0.8 -2.9M464.9 202.7l-0.8 2.9M467.9 200.5l-0.8 2.9M470.2 200.7l-0.8 2.9M471.8 203.4l-0.8 2.9M474.5 211.1l0.8 -2.9M476.5 212.6l0.8 -2.9M479.2 211.4l0.8 -2.9M485.4 206l-0.8 2.9M488 205.5l-0.8 2.9" fill="none" stroke="#1c9fd3" stroke-width="1.0"/>
<path d="M505.1 20Q523.5 65.1 496.3 272.2" fill="none" stroke="#acacac" stroke-width="14.6"/>
<path d="M505.1 20Q523.5 65.1 496.3 272.2" fill="none" stroke="#c3c3c3" stroke-width="12.8"/>
<path d="M505.1 20Q523.5 65.1 496.3 272.2" fill="none" stroke="#939393" stroke-width="13" stroke-dasharray="1.0 3.5" stroke-dashoffset="-2"/>
<path d="M505.1 20Q523.5 65.1 496.3 272.2" fill="none" stroke="#a9a9a9" stroke-width="14" stroke-opacity="0.0"/>
<ellipse cx="505.1" cy="20" rx="1.6" ry="7" fill="#8a8a8a" transform="rotate(69 505.1 20)"/>
<path d="M512.6 41.7L513.9 30.5M515 41.9L516.3 30.8M517.4 42.2L518.7 31.1M519.8 42.5L521.1 31.4M522.2 42.8L523.5 31.6M524.6 43L525.9 31.9M526.9 43.3L528.2 32.2M529.3 43.6L530.6 32.5M531.7 43.9L533 32.8M534.1 44.2L535.4 33M536.5 44.4L537.8 33.3M538.9 44.7L540.2 33.6M541.3 45L542.5 33.9M543.6 45.3L544.9 34.1M546 45.5L547.3 34.4M548.4 45.8L549.7 34.7M550.8 46.1L552.1 35M553.2 46.4L554.5 35.3M555.6 46.7L556.9 35.5M557.9 46.9L559.2 35.8" stroke="#1ea2d6" stroke-width="1.1" fill="none"/>
<path d="M521.7 30L522 30.1L522.4 30.2L522.7 30.4L523.1 30.7L523.5 31.1L523.9 31.5L524.4 31.9L524.8 32.5L525.2 33L525.7 33.6L526.2 34.3L526.6 35L527.1 35.7L527.6 36.4L528.1 37.1L528.6 37.9L529.1 38.6L529.6 39.4L530.1 40.1L530.5 40.8L531 41.5L531.5 42.1L531.9 42.7L532.4 43.3L532.8 43.8L533.3 44.3L533.7 44.7L534.1 45L534.5 45.3L534.8 45.5L535.2 45.7L535.5 45.7M543.1 32.5L543.5 32.6L543.8 32.7L544.2 33L544.6 33.2L545 33.6L545.4 34L545.8 34.4L546.3 35L546.7 35.5L547.2 36.1L547.6 36.8L548.1 37.5L548.6 38.2L549.1 38.9L549.6 39.6L550 40.4L550.5 41.1L551 41.9L551.5 42.6L552 43.3L552.5 44L552.9 44.6L553.4 45.2L553.8 45.8L554.3 46.3L554.7 46.8L555.1 47.2L555.5 47.5L555.9 47.8L556.3 48L556.6 48.2L557 48.2M510.9 28.8L511.3 28.8L511.6 29L512 29.2L512.4 29.5L512.8 29.8L513.2 30.2L513.6 30.7L514.1 31.2L514.5 31.8L515 32.4L515.4 33L515.9 33.7L516.4 34.4L516.9 35.1L517.4 35.9L517.9 36.6L518.4 37.4L518.8 38.1L519.3 38.8L519.8 39.5L520.3 40.2L520.7 40.9L521.2 41.5L521.7 42.1L522.1 42.6L522.5 43L522.9 43.4L523.3 43.8L523.7 44.1L524.1 44.3L524.5 44.4L524.8 44.5M532.4 31.3L532.7 31.3L533.1 31.5L533.5 31.7L533.8 32L534.2 32.3L534.7 32.7L535.1 33.2L535.5 33.7L536 34.3L536.4 34.9L536.9 35.5L537.4 36.2L537.9 36.9L538.3 37.6L538.8 38.4L539.3 39.1L539.8 39.9L540.3 40.6L540.8 41.3L541.3 42.1L541.7 42.7L542.2 43.4L542.7 44L543.1 44.6L543.6 45.1L544 45.5L544.4 45.9L544.8 46.3L545.2 46.6L545.6 46.8L545.9 46.9L546.3 47M553.8 33.8L554.2 33.9L554.6 34L555 34.2L555.4 34.5L555.8 34.9L556.2 35.4L556.7 35.9L557.1 36.4L557.6 37L558.1 37.7L558.6 38.4L559.1 39.1L559.6 39.9L560.1 40.6L560.6 41.4" fill="none" stroke="#1ea2d6" stroke-width="2.6" stroke-linecap="round" stroke-linejoin="round"/>
<path d="M514.1 43.2L514.4 43.2L514.7 43.2L515 43L515.3 42.8L515.6 42.6L515.8 42.2L516.1 41.9L516.3 41.4L516.5 40.9L516.7 40.4L516.9 39.8L517.1 39.2L517.3 38.6L517.5 38L517.7 37.3L517.9 36.6L518 36L518.2 35.3L518.4 34.6L518.6 34L518.8 33.4L519 32.8L519.2 32.3L519.4 31.8L519.7 31.4L519.9 31L520.2 30.7L520.4 30.4L520.7 30.2L521 30.1L521.3 30L521.7 30M535.5 45.7L535.9 45.7L536.2 45.7L536.5 45.5L536.7 45.3L537 45.1L537.3 44.7L537.5 44.4L537.7 43.9L538 43.4L538.2 42.9L538.4 42.3L538.6 41.7L538.8 41.1L539 40.5L539.1 39.8L539.3 39.1L539.5 38.5L539.7 37.8L539.9 37.1L540.1 36.5L540.3 35.9L540.5 35.3L540.7 34.8L540.9 34.3L541.1 33.9L541.4 33.5L541.6 33.2L541.9 32.9L542.2 32.7L542.5 32.6L542.8 32.5L543.1 32.5M557 48.2L557.3 48.2L557.7 48.2L558 48L558.3 47.8L558.5 47.5L558.8 47.1L559.1 46.7L559.3 46.2L559.5 45.7L559.7 45.1L559.9 44.5L560.1 43.9L560.3 43.2L560.5 42.5L560.7 41.8M524.8 44.5L525.1 44.5L525.4 44.4L525.7 44.3L526 44.1L526.3 43.8L526.5 43.5L526.8 43.1L527 42.7L527.2 42.2L527.5 41.7L527.7 41.1L527.9 40.5L528 39.9L528.2 39.2L528.4 38.5L528.6 37.9L528.8 37.2L529 36.5L529.1 35.9L529.3 35.3L529.5 34.7L529.7 34.1L529.9 33.6L530.2 33.1L530.4 32.6L530.6 32.3L530.9 31.9L531.2 31.7L531.4 31.5L531.7 31.3L532.1 31.3L532.4 31.3M546.3 47L546.6 47L546.9 46.9L547.2 46.8L547.5 46.6L547.7 46.3L548 46L548.2 45.6L548.5 45.2L548.7 44.7L548.9 44.2L549.1 43.6L549.3 43L549.5 42.4L549.7 41.7L549.9 41L550 40.4L550.2 39.7L550.4 39L550.6 38.4L550.8 37.8L551 37.2L551.2 36.6L551.4 36.1L551.6 35.6L551.8 35.1L552.1 34.8L552.3 34.4L552.6 34.2L552.9 34L553.2 33.8L553.5 33.8L553.8 33.8" fill="none" stroke="#1666ad" stroke-width="2.6" stroke-linecap="round" stroke-linejoin="round"/>
<path d="M560.8 47.3L562.1 36.1M563.2 47.6L564.5 36.4M565.6 47.8L566.9 36.7M568 48.1L569.3 37M570.4 48.4L571.7 37.3M572.7 48.7L574 37.5M575.1 48.9L576.4 37.8M577.5 49.2L578.8 38.1M579.9 49.5L581.2 38.4M582.3 49.8L583.6 38.7M584.7 50.1L586 38.9M587 50.3L588.3 39.2M589.4 50.6L590.7 39.5M591.8 50.9L593.1 39.8M594.2 51.2L595.5 40M596.6 51.4L597.9 40.3M599 51.7L600.3 40.6M601.3 52L602.6 40.9" stroke="#84dccf" stroke-width="1.1" fill="none"/>
<path d="M564.6 35L564.9 35.1L565.3 35.2L565.6 35.5L566 35.7L566.4 36.1L566.8 36.5L567.3 36.9L567.7 37.5L568.2 38L568.6 38.6L569.1 39.3L569.6 40L570 40.7L570.5 41.4L571 42.1L571.5 42.9L572 43.6L572.5 44.4L573 45.1L573.4 45.8L573.9 46.5L574.4 47.1L574.8 47.7L575.3 48.3L575.7 48.8L576.2 49.3L576.6 49.7L577 50L577.4 50.3L577.7 50.5L578.1 50.7L578.4 50.7M586 37.5L586.4 37.6L586.7 37.7L587.1 38L587.5 38.2L587.9 38.6L588.3 39L588.7 39.4L589.2 40L589.6 40.5L590.1 41.1L590.5 41.8L591 42.5L591.5 43.2L592 43.9L592.5 44.6L593 45.4L593.4 46.1L593.9 46.9L594.4 47.6L594.9 48.3L595.4 49L595.8 49.6L596.3 50.2L596.7 50.8L597.2 51.3L597.6 51.8L598 52.2L598.4 52.5L598.8 52.8L599.2 53L599.5 53.2L599.9 53.2M560.6 41.4L561.1 42.2L561.6 42.9L562.1 43.7L562.6 44.4L563.1 45.1L563.6 45.8L564 46.4L564.5 47L565 47.5L565.4 48L565.8 48.4L566.2 48.8L566.6 49L567 49.3L567.4 49.4L567.7 49.5M575.3 36.3L575.6 36.3L576 36.5L576.4 36.7L576.8 37L577.2 37.3L577.6 37.7L578 38.2L578.4 38.7L578.9 39.3L579.3 39.9L579.8 40.5L580.3 41.2L580.8 41.9L581.3 42.6L581.7 43.4L582.2 44.1L582.7 44.9L583.2 45.6L583.7 46.3L584.2 47.1L584.6 47.7L585.1 48.4L585.6 49L586 49.6L586.5 50.1L586.9 50.5L587.3 50.9L587.7 51.3L588.1 51.6L588.5 51.8L588.8 51.9L589.2 52M596.7 38.8L597.1 38.9L597.5 39L597.8 39.2L598.2 39.5L598.6 39.8L599 40.3L599.5 40.7L599.9 41.3L600.4 41.8L600.8 42.4L601.3 43.1L601.8 43.8L602.3 44.5L602.8 45.3L603.3 46" fill="none" stroke="#84dccf" stroke-width="2.6" stroke-linecap="round" stroke-linejoin="round"/>
<path d="M560.7 41.8L560.9 41.1L561.1 40.5L561.3 39.8L561.5 39.2L561.7 38.5L561.9 37.9L562.1 37.4L562.3 36.9L562.5 36.4L562.8 36L563 35.7L563.3 35.4L563.6 35.2L563.9 35.1L564.2 35L564.6 35M578.4 50.7L578.8 50.7L579.1 50.7L579.4 50.5L579.7 50.3L579.9 50.1L580.2 49.8L580.4 49.4L580.7 48.9L580.9 48.4L581.1 47.9L581.3 47.3L581.5 46.7L581.7 46.1L581.9 45.5L582 44.8L582.2 44.1L582.4 43.5L582.6 42.8L582.8 42.1L583 41.5L583.2 40.9L583.4 40.3L583.6 39.8L583.8 39.3L584 38.9L584.3 38.5L584.5 38.2L584.8 37.9L585.1 37.7L585.4 37.6L585.7 37.5L586 37.5M599.9 53.2L600.2 53.2L600.5 53.2L600.8 53L601.1 52.8L601.4 52.6L601.7 52.2L601.9 51.8L602.1 51.4L602.4 50.9L602.6 50.4L602.8 49.8L603 49.2L603.2 48.5L603.3 47.9L603.5 47.2M567.7 49.5L568 49.5L568.3 49.4L568.6 49.3L568.9 49.1L569.2 48.8L569.5 48.5L569.7 48.1L569.9 47.7L570.2 47.2L570.4 46.7L570.6 46.1L570.8 45.5L571 44.9L571.1 44.2L571.3 43.5L571.5 42.9L571.7 42.2L571.9 41.5L572 40.9L572.2 40.3L572.4 39.7L572.6 39.1L572.8 38.6L573.1 38.1L573.3 37.6L573.5 37.3L573.8 36.9L574.1 36.7L574.4 36.5L574.7 36.3L575 36.3L575.3 36.3M589.2 52L589.5 52L589.8 51.9L590.1 51.8L590.4 51.6L590.7 51.3L590.9 51L591.2 50.6L591.4 50.2L591.6 49.7L591.8 49.2L592 48.6L592.2 48L592.4 47.4L592.6 46.7L592.8 46.1L593 45.4L593.1 44.7L593.3 44L593.5 43.4L593.7 42.8L593.9 42.2L594.1 41.6L594.3 41.1L594.5 40.6L594.8 40.1L595 39.8L595.3 39.4L595.5 39.2L595.8 39L596.1 38.8L596.4 38.8L596.7 38.8" fill="none" stroke="#1b8c7a" stroke-width="2.6" stroke-linecap="round" stroke-linejoin="round"/>
<path d="M501.2 252.8L501.2 241.6M503.6 252.8L503.6 241.6M506 252.8L506 241.6M508.4 252.7L508.4 241.5M510.8 252.7L510.8 241.5M513.2 252.7L513.2 241.5M515.6 252.7L515.6 241.5M518 252.6L518 241.4M520.4 252.6L520.4 241.4M522.8 252.6L522.8 241.4M525.2 252.6L525.2 241.4M527.6 252.6L527.5 241.4M530 252.5L529.9 241.3M532.4 252.5L532.3 241.3M534.8 252.5L534.7 241.3M537.2 252.5L537.1 241.3M539.6 252.5L539.5 241.3M542 252.4L541.9 241.2M544.4 252.4L544.3 241.2M546.8 252.4L546.7 241.2M549.2 252.4L549.1 241.2" stroke="#1ea2d6" stroke-width="1.1" fill="none"/>
<path d="M508.7 240.1L509.1 240.2L509.5 240.3L509.9 240.4L510.3 240.6L510.7 240.9L511.2 241.3L511.7 241.7L512.2 242.1L512.7 242.7L513.2 243.2L513.8 243.8L514.3 244.4L514.9 245L515.4 245.7L516 246.4L516.6 247.1L517.2 247.7L517.8 248.4L518.3 249.1L518.9 249.7L519.4 250.3L520 250.9L520.5 251.5L521 252L521.5 252.4L522 252.8L522.5 253.2L522.9 253.5L523.3 253.7L523.7 253.9L524.1 254L524.5 254M530.3 239.9L530.7 240L531.1 240.1L531.5 240.2L531.9 240.5L532.3 240.7L532.8 241.1L533.3 241.5L533.8 242L534.3 242.5L534.8 243L535.4 243.6L535.9 244.2L536.5 244.9L537 245.5L537.6 246.2L538.2 246.9L538.8 247.6L539.4 248.2L539.9 248.9L540.5 249.5L541 250.1L541.6 250.7L542.1 251.3L542.6 251.8L543.1 252.2L543.6 252.6L544.1 253L544.5 253.3L544.9 253.5L545.3 253.7L545.7 253.8L546.1 253.8M497.9 240.2L498.3 240.3L498.7 240.3L499.1 240.5L499.5 240.7L499.9 241L500.4 241.4L500.9 241.8L501.4 242.2L501.9 242.7L502.4 243.3L503 243.9L503.5 244.5L504.1 245.1L504.6 245.8L505.2 246.5L505.8 247.2L506.4 247.8L507 248.5L507.5 249.2L508.1 249.8L508.6 250.4L509.2 251L509.7 251.6L510.2 252.1L510.7 252.5L511.2 252.9L511.7 253.3L512.1 253.6L512.5 253.8L512.9 254L513.3 254.1L513.7 254.1M519.5 240L519.9 240.1L520.3 240.2L520.7 240.3L521.1 240.6L521.5 240.8L522 241.2L522.5 241.6L523 242.1L523.5 242.6L524 243.1L524.6 243.7L525.1 244.3L525.7 244.9L526.2 245.6L526.8 246.3L527.4 247L528 247.6L528.6 248.3L529.1 249L529.7 249.6L530.2 250.2L530.8 250.8L531.3 251.4L531.8 251.9L532.3 252.3L532.8 252.7L533.3 253.1L533.7 253.4L534.1 253.6L534.5 253.8L534.9 253.9L535.3 253.9M541.1 239.8L541.5 239.9L541.9 240L542.3 240.1L542.7 240.4L543.1 240.7L543.6 241L544.1 241.4L544.6 241.9L545.1 242.4L545.7 243L546.2 243.6L546.8 244.2L547.4 244.9L548 245.5L548.5 246.2L549.1 246.9L549.7 247.6L550.3 248.3" fill="none" stroke="#1ea2d6" stroke-width="2.6" stroke-linecap="round" stroke-linejoin="round"/>
<path d="M502.9 254.2L503.2 254.1L503.5 254L503.8 253.9L504 253.6L504.3 253.3L504.5 253L504.7 252.6L504.8 252.1L505 251.6L505.1 251L505.3 250.5L505.4 249.8L505.5 249.2L505.6 248.5L505.7 247.8L505.8 247.2L505.9 246.5L506 245.8L506.1 245.1L506.2 244.5L506.3 243.8L506.5 243.3L506.6 242.7L506.8 242.2L506.9 241.7L507.1 241.3L507.3 241L507.6 240.7L507.8 240.4L508.1 240.3L508.4 240.2L508.7 240.1M524.5 254L524.8 254L525.1 253.8L525.4 253.7L525.6 253.4L525.9 253.2L526.1 252.8L526.3 252.4L526.4 251.9L526.6 251.4L526.7 250.9L526.9 250.3L527 249.6L527.1 249L527.2 248.3L527.3 247.7L527.4 247L527.5 246.3L527.6 245.6L527.7 244.9L527.8 244.3L527.9 243.7L528.1 243.1L528.2 242.5L528.4 242L528.5 241.5L528.7 241.1L528.9 240.8L529.2 240.5L529.4 240.2L529.7 240.1L530 240L530.3 239.9M546.1 253.8L546.4 253.8L546.7 253.7L547 253.5L547.2 253.2L547.5 252.9L547.7 252.6L547.9 252.2L548.1 251.7L548.2 251.2L548.4 250.6L548.5 250L548.6 249.4L548.7 248.7L548.8 248L548.9 247.3L549 246.6L549.1 245.9L549.2 245.2M513.7 254.1L514 254L514.3 253.9L514.6 253.8L514.8 253.5L515.1 253.2L515.3 252.9L515.5 252.5L515.6 252L515.8 251.5L515.9 251L516.1 250.4L516.2 249.7L516.3 249.1L516.4 248.4L516.5 247.7L516.6 247.1L516.7 246.4L516.8 245.7L516.9 245L517 244.4L517.1 243.8L517.3 243.2L517.4 242.6L517.6 242.1L517.7 241.6L517.9 241.2L518.1 240.9L518.4 240.6L518.6 240.3L518.9 240.2L519.2 240.1L519.5 240M535.3 253.9L535.6 253.9L535.9 253.8L536.2 253.6L536.4 253.4L536.7 253.1L536.9 252.7L537.1 252.3L537.2 251.8L537.4 251.3L537.5 250.8L537.7 250.2L537.8 249.6L537.9 248.9L538 248.2L538.1 247.6L538.2 246.9L538.3 246.2L538.4 245.5L538.5 244.8L538.6 244.2L538.7 243.6L538.9 243L539 242.4L539.2 241.9L539.3 241.4L539.5 241L539.7 240.7L540 240.4L540.2 240.2L540.5 240L540.8 239.9L541.1 239.8" fill="none" stroke="#1666ad" stroke-width="2.6" stroke-linecap="round" stroke-linejoin="round"/>
<path d="M550.6 252.4L550.5 241.2M553 252.3L552.9 241.1M555.4 252.3L555.3 241.1M557.8 252.3L557.7 241.1M560.2 252.3L560.1 241.1M562.6 252.3L562.5 241.1M565 252.2L564.9 241M567.4 252.2L567.3 241M569.8 252.2L569.7 241M572.2 252.2L572.1 241M574.6 252.2L574.5 241M577 252.1L576.9 240.9M579.4 252.1L579.3 240.9M581.8 252.1L581.7 240.9M584.2 252.1L584.1 240.9M586.6 252L586.5 240.8M589 252L588.9 240.8" stroke="#d43aa6" stroke-width="1.1" fill="none"/>
<path d="M551.9 239.7L552.3 239.8L552.7 239.9L553.1 240L553.5 240.3L553.9 240.6L554.4 240.9L554.9 241.3L555.4 241.8L555.9 242.3L556.4 242.8L557 243.4L557.5 244L558.1 244.7L558.6 245.3L559.2 246L559.8 246.7L560.4 247.4L561 248L561.5 248.7L562.1 249.3L562.6 250L563.2 250.5L563.7 251.1L564.2 251.6L564.7 252L565.2 252.5L565.7 252.8L566.1 253.1L566.5 253.3L566.9 253.5L567.3 253.6L567.7 253.6M573.5 239.6L573.9 239.6L574.3 239.7L574.7 239.9L575.1 240.1L575.5 240.4L576 240.7L576.5 241.1L577 241.6L577.5 242.1L578 242.6L578.5 243.2L579.1 243.8L579.7 244.5L580.2 245.1L580.8 245.8L581.4 246.5L582 247.2L582.6 247.8L583.1 248.5L583.7 249.1L584.2 249.8L584.8 250.4L585.3 250.9L585.8 251.4L586.3 251.9L586.8 252.3L587.3 252.6L587.7 252.9L588.1 253.1L588.5 253.3L588.9 253.4L589.3 253.4M550.3 248.3L550.9 249L551.5 249.7L552.1 250.3L552.6 250.9L553.2 251.5L553.7 252L554.3 252.4L554.7 252.8L555.2 253.1L555.7 253.4L556.1 253.6L556.5 253.7L556.9 253.7M562.7 239.7L563.1 239.7L563.5 239.8L563.9 239.9L564.3 240.2L564.7 240.5L565.2 240.8L565.7 241.2L566.2 241.7L566.7 242.2L567.2 242.7L567.7 243.3L568.3 243.9L568.9 244.6L569.4 245.2L570 245.9L570.6 246.6L571.2 247.3L571.8 247.9L572.3 248.6L572.9 249.2L573.4 249.9L574 250.4L574.5 251L575 251.5L575.5 252L576 252.4L576.5 252.7L576.9 253L577.3 253.2L577.7 253.4L578.1 253.5L578.5 253.5M584.3 239.5L584.7 239.5L585 239.6L585.4 239.7L585.9 240L586.3 240.3L586.7 240.6L587.2 241L587.7 241.4L588.2 241.9L588.7 242.5L589.3 243L589.8 243.6L590.4 244.3L590.9 244.9L591.5 245.6" fill="none" stroke="#d43aa6" stroke-width="2.6" stroke-linecap="round" stroke-linejoin="round"/>
<path d="M549.2 245.2L549.3 244.5L549.4 243.9L549.6 243.2L549.7 242.6L549.9 242L550.1 241.5L550.3 241.1L550.5 240.7L550.7 240.4L551 240.1L551.3 239.9L551.6 239.8L551.9 239.7M567.7 253.6L568 253.6L568.3 253.5L568.6 253.3L568.8 253.1L569.1 252.8L569.3 252.4L569.5 252L569.6 251.5L569.8 251L569.9 250.5L570.1 249.9L570.2 249.3L570.3 248.6L570.4 248L570.5 247.3L570.6 246.6L570.7 245.9L570.8 245.2L570.9 244.6L571 243.9L571.1 243.3L571.3 242.7L571.4 242.1L571.6 241.6L571.7 241.2L571.9 240.8L572.1 240.4L572.4 240.1L572.6 239.9L572.9 239.7L573.2 239.6L573.5 239.6M589.3 253.4L589.6 253.4L589.9 253.3L590.2 253.1L590.4 252.9L590.6 252.6L590.9 252.3L591 251.9L591.2 251.4L591.4 250.9L591.5 250.4L591.7 249.8L591.8 249.2L591.9 248.5L592 247.9L592.1 247.2M556.9 253.7L557.2 253.7L557.5 253.6L557.8 253.4L558 253.2L558.3 252.9L558.5 252.5L558.7 252.1L558.8 251.6L559 251.1L559.1 250.6L559.3 250L559.4 249.4L559.5 248.7L559.6 248L559.7 247.4L559.8 246.7L559.9 246L560 245.3L560.1 244.6L560.2 244L560.3 243.4L560.5 242.8L560.6 242.2L560.8 241.7L560.9 241.3L561.1 240.8L561.3 240.5L561.6 240.2L561.8 240L562.1 239.8L562.4 239.7L562.7 239.7M578.5 253.5L578.8 253.5L579.1 253.4L579.4 253.2L579.6 253L579.9 252.7L580.1 252.3L580.3 251.9L580.4 251.4L580.6 250.9L580.7 250.4L580.9 249.8L581 249.2L581.1 248.5L581.2 247.9L581.3 247.2L581.4 246.5L581.5 245.8L581.6 245.1L581.7 244.5L581.8 243.8L581.9 243.2L582.1 242.6L582.2 242L582.4 241.5L582.5 241.1L582.7 240.7L582.9 240.3L583.2 240L583.4 239.8L583.7 239.6L584 239.5L584.3 239.5" fill="none" stroke="#9a1272" stroke-width="2.6" stroke-linecap="round" stroke-linejoin="round"/>
<line x1="560" y1="48" x2="561" y2="58" stroke="#84dccf" stroke-width="2"/>
<line x1="589" y1="228" x2="590" y2="244" stroke="#c71c96" stroke-width="2"/>
<g transform="translate(565.2 79.2) rotate(0) scale(0.08670 0.08163) translate(-353 -467)"><path d="M165 250C173.3 235.8 184.2 225 200 215C215.8 205 240 197.5 260 190C280 182.5 298.3 174.2 320 170C341.7 165.8 370 163.3 390 165C410 166.7 421.7 174.2 440 180C458.3 185.8 480 194.2 500 200C520 205.8 541.7 205 560 215C578.3 225 596.7 244.2 610 260C623.3 275.8 636.7 293.3 640 310C643.3 326.7 638.3 346.7 630 360C621.7 373.3 601.7 381.7 590 390C578.3 398.3 567.5 398.3 560 410C552.5 421.7 545.8 441.7 545 460C544.2 478.3 555 498.3 555 520C555 541.7 550.8 570 545 590C539.2 610 529.2 623.3 520 640C510.8 656.7 498.3 673.3 490 690C481.7 706.7 481.7 728.3 470 740C458.3 751.7 438.3 758.3 420 760C401.7 761.7 380 749.2 360 750C340 750.8 320 763.3 300 765C280 766.7 258.3 767.5 240 760C221.7 752.5 205 733.3 190 720C175 706.7 163.3 693.3 150 680C136.7 666.7 119.2 656.7 110 640C100.8 623.3 96.7 600 95 580C93.3 560 103.3 536.7 100 520C96.7 503.3 80 495 75 480C70 465 66.7 445 70 430C73.3 415 85 403.3 95 390C105 376.7 120.8 365 130 350C139.2 335 144.2 316.7 150 300C155.8 283.3 156.7 264.2 165 250Z" fill="#62cdc5" stroke="#1a8f80" stroke-width="23.1" stroke-linejoin="round"/><path d="M210 390C216.7 378.3 230 336.7 250 320C270 303.3 301.7 296.7 330 290C358.3 283.3 395 278.3 420 280C445 281.7 470 296.7 480 300M205 500C205 508.3 200.8 535 205 550C209.2 565 225.8 583.3 230 590M360 600C365 606.7 375 631.7 390 640C405 648.3 428.3 653.3 450 650C471.7 646.7 508.3 625 520 620M490 350C491.7 358.3 500 385 500 400C500 415 491.7 433.3 490 440M430 180C436.7 188.3 461.7 215 470 230C478.3 245 478.3 263.3 480 270M140 620C150 628.3 180 658.3 200 670C220 681.7 250 686.7 260 690M525 450C526.7 461.7 535.8 495 535 520C534.2 545 522.5 586.7 520 600" fill="none" stroke="#1a8f80" stroke-width="26.5" stroke-linecap="round"/></g>
<g transform="translate(587.8 212.9) rotate(0) scale(0.07213 0.07613) translate(-384 -398)"><path d="M170 230C177.5 212.5 193.3 202.5 210 195C226.7 187.5 250 190.8 270 185C290 179.2 310 163.3 330 160C350 156.7 371.7 160 390 165C408.3 170 418.3 184.2 440 190C461.7 195.8 496.7 193.3 520 200C543.3 206.7 563.3 215 580 230C596.7 245 608.3 270 620 290C631.7 310 642.5 330 650 350C657.5 370 665.8 390 665 410C664.2 430 655.8 450 645 470C634.2 490 617.5 510 600 530C582.5 550 561.7 573.3 540 590C518.3 606.7 493.3 621.7 470 630C446.7 638.3 423.3 641.7 400 640C376.7 638.3 351.7 628.3 330 620C308.3 611.7 291.7 600 270 590C248.3 580 221.7 573.3 200 560C178.3 546.7 153.3 528.3 140 510C126.7 491.7 125.8 468.3 120 450C114.2 431.7 103.3 416.7 105 400C106.7 383.3 120 366.7 130 350C140 333.3 158.3 320 165 300C171.7 280 162.5 247.5 170 230Z" fill="#c71c96" stroke="#8a1068" stroke-width="27.7" stroke-linejoin="round"/><path d="M280 450C278.3 435 266.7 381.7 270 360C273.3 338.3 285 331.7 300 320C315 308.3 340 298.3 360 290C380 281.7 400 275 420 270C440 265 456.7 258.3 480 260C503.3 261.7 546.7 276.7 560 280M320 540C330 546.7 356.7 572.5 380 580C403.3 587.5 446.7 584.2 460 585M600 300C606.7 313.3 635 353.3 640 380C645 406.7 631.7 446.7 630 460" fill="none" stroke="#8a1068" stroke-width="31.9" stroke-linecap="round"/></g>
<text transform="translate(794.6 111.2) scale(1 1.04)" font-size="29.6" text-anchor="start">ON</text>
<text transform="translate(947.4 168.5) scale(1 1.04)" font-size="29.5" text-anchor="middle">+</text>
<text transform="translate(1268.4 246.3) scale(1 1.04)" font-size="29.6" text-anchor="start">OFF</text>
<line x1="1090.2" y1="147.9" x2="1161" y2="147.9" stroke="#000" stroke-width="1.8"/>
<path d="M1169 147.9L1155.5 143L1155.5 152.8Z" fill="#000"/>
<circle cx="898" cy="105" r="19" fill="url(#glow)"/>
<path d="M831.8 53.3L832 53.7L832.2 54.2L832.4 54.6L832.6 55L832.8 55.4L833 55.8L833.2 56.2L833.4 56.5L833.7 56.9L833.9 57.2L834.1 57.5L834.3 57.8L834.5 58L834.8 58.2L835 58.4L835.2 58.5L835.5 58.6L835.7 58.7L836 58.8L836.2 58.8L836.5 58.8L836.7 58.7L837 58.6L837.2 58.5L837.5 58.4L837.8 58.2L838 58L838.3 57.8L838.6 57.5L838.9 57.2L839.1 56.9L839.4 56.6L839.7 56.3L840 55.9L840.3 55.6L840.6 55.2L840.9 54.8L841.1 54.4L841.4 54.1L841.7 53.7L842 53.3L842.3 52.9L842.6 52.6L842.9 52.2L843.2 51.9L843.4 51.6L843.7 51.3L844 51L844.3 50.8L844.6 50.5L844.8 50.4L845.1 50.2L845.4 50.1L845.6 49.9L845.9 49.9L846.1 49.8L846.4 49.8L846.6 49.9L846.9 49.9L847.1 50L847.3 50.1L847.6 50.3L847.8 50.5L848 50.7L848.2 50.9L848.5 51.2L848.7 51.5L848.9 51.8L849.1 52.2L849.3 52.5L849.5 52.9L849.7 53.3L849.9 53.7L850.2 54.2L850.4 54.6L850.6 55L850.8 55.5L851 55.9L851.2 56.3L851.4 56.7L851.6 57.1L851.8 57.6L852 57.9L852.2 58.3L852.4 58.7L852.6 59L852.8 59.3L853.1 59.6L853.3 59.8L853.5 60.1L853.7 60.3L854 60.4L854.2 60.6L854.4 60.7L854.7 60.7L854.9 60.8L855.2 60.8L855.4 60.8L855.7 60.7L855.9 60.6L856.2 60.5L856.5 60.3L856.7 60.1L857 59.9L857.3 59.7L857.6 59.4L857.8 59.1L858.1 58.8L858.4 58.5L858.7 58.2L859 57.8L859.3 57.4L859.6 57.1L859.8 56.7L860.1 56.3L860.4 55.9L860.7 55.6L861 55.2L861.3 54.8L861.6 54.5L861.9 54.1L862.2 53.8L862.4 53.5L862.7 53.2L863 52.9L863.3 52.7L863.5 52.5L863.8 52.3L864.1 52.1L864.3 52L864.6 51.9L864.8 51.9L865.1 51.8L865.3 51.8L865.6 51.9L865.8 51.9L866.1 52L866.3 52.2L866.5 52.4L866.8 52.6L867 52.8L867.2 53L867.4 53.3L867.7 53.6L867.9 54L868.1 54.3L868.3 54.7L868.5 55.1L868.7 55.5L868.9 55.9L869.1 56.3L869.3 56.7L869.5 57.2L869.7 57.6L869.9 58L870.1 58.5L870.3 58.9L870.5 59.3L870.7 59.7L871 60.1L871.2 60.4L871.4 60.8L871.6 61.1L871.8 61.4L872 61.7L872.3 61.9L872.5 62.1L872.7 62.3" fill="none" stroke="#1666ad" stroke-width="2.1" stroke-linecap="round" stroke-linejoin="round"/>
<path d="M833 55.8l0.3 -3M835.1 58.4l0.3 -3M837.4 58.4l0.3 -3M840 56l0.3 -3M842.6 52.5l-0.3 3M845.2 50.1l-0.3 3M847.5 50.2l-0.3 3M849.5 52.9l-0.3 3M851.4 56.9l0.3 -3M853.4 60l0.3 -3M855.7 60.7l0.3 -3M858.2 58.8l0.3 -3M863.5 52.5l-0.3 3M865.8 51.9l-0.3 3M867.9 54.1l-0.3 3M871.8 61.4l0.3 -3" fill="none" stroke="#1666ad" stroke-width="1.0"/>
<path d="M874 63.3L874 52.1M876.4 63.3L876.4 52.1M878.8 63.3L878.8 52.1M881.2 63.3L881.2 52.1M883.6 63.3L883.6 52.1M886 63.3L886 52.1M888.4 63.3L888.4 52.1M890.8 63.3L890.8 52.1M893.2 63.3L893.2 52.1M895.6 63.3L895.6 52.1M898 63.3L898 52.1M900.4 63.3L900.4 52.1M902.8 63.3L902.8 52.1M905.2 63.3L905.2 52.1M907.6 63.3L907.6 52.1M910 63.3L910 52.1M912.4 63.3L912.4 52.1M914.8 63.3L914.8 52.1" stroke="#84dccf" stroke-width="1.1" fill="none"/>
<path d="M881.6 50.7L881.9 50.7L882.3 50.8L882.7 51L883.1 51.2L883.6 51.5L884 51.9L884.5 52.3L885 52.8L885.5 53.3L886 53.8L886.6 54.4L887.1 55L887.7 55.7L888.3 56.3L888.8 57L889.4 57.7L890 58.4L890.5 59.1L891.1 59.7L891.7 60.4L892.2 61L892.8 61.6L893.3 62.1L893.8 62.6L894.3 63.1L894.8 63.5L895.2 63.9L895.7 64.2L896.1 64.4L896.5 64.6L896.9 64.7L897.2 64.7M903.2 50.7L903.5 50.7L903.9 50.8L904.3 51L904.7 51.2L905.2 51.5L905.6 51.9L906.1 52.3L906.6 52.8L907.1 53.3L907.6 53.8L908.2 54.4L908.7 55L909.3 55.7L909.9 56.3L910.4 57L911 57.7L911.6 58.4L912.2 59.1L912.7 59.7L913.3 60.4L913.8 61L914.4 61.6L914.9 62.2L915.4 62.7L915.9 63.1L916.4 63.5L916.8 63.9L917.3 64.2L917.7 64.4M870.8 50.7L871.1 50.7L871.5 50.8L871.9 51L872.3 51.2L872.8 51.5L873.2 51.9L873.7 52.3L874.2 52.8L874.7 53.3L875.2 53.8L875.8 54.4L876.3 55L876.9 55.7L877.5 56.3L878 57L878.6 57.7L879.2 58.4L879.7 59.1L880.3 59.7L880.9 60.4L881.4 61L882 61.6L882.5 62.1L883 62.6L883.5 63.1L884 63.5L884.4 63.9L884.9 64.2L885.3 64.4L885.7 64.6L886.1 64.7L886.4 64.7M892.4 50.7L892.7 50.7L893.1 50.8L893.5 51L893.9 51.2L894.4 51.5L894.8 51.9L895.3 52.3L895.8 52.8L896.3 53.3L896.8 53.8L897.4 54.4L897.9 55L898.5 55.7L899.1 56.3L899.6 57L900.2 57.7L900.8 58.4L901.3 59.1L901.9 59.7L902.5 60.4L903 61L903.6 61.6L904.1 62.1L904.6 62.6L905.1 63.1L905.6 63.5L906 63.9L906.5 64.2L906.9 64.4L907.3 64.6L907.7 64.7L908 64.7" fill="none" stroke="#84dccf" stroke-width="2.6" stroke-linecap="round" stroke-linejoin="round"/>
<path d="M875.6 64.7L875.9 64.7L876.2 64.6L876.5 64.4L876.8 64.2L877 63.9L877.2 63.5L877.4 63.1L877.6 62.6L877.8 62.1L877.9 61.6L878 61L878.2 60.4L878.3 59.7L878.4 59.1L878.5 58.4L878.6 57.7L878.7 57L878.8 56.3L878.9 55.7L879 55L879.2 54.4L879.3 53.8L879.4 53.3L879.6 52.8L879.8 52.3L880 51.9L880.2 51.5L880.4 51.2L880.7 51L881 50.8L881.3 50.7L881.6 50.7M897.2 64.7L897.5 64.7L897.8 64.6L898.1 64.4L898.4 64.2L898.6 63.9L898.8 63.5L899 63.1L899.2 62.6L899.4 62.1L899.5 61.6L899.6 61L899.8 60.4L899.9 59.7L900 59.1L900.1 58.4L900.2 57.7L900.3 57L900.4 56.3L900.5 55.7L900.6 55L900.8 54.4L900.9 53.8L901 53.3L901.2 52.8L901.4 52.3L901.6 51.9L901.8 51.5L902 51.2L902.3 51L902.6 50.8L902.9 50.7L903.2 50.7M886.4 64.7L886.7 64.7L887 64.6L887.3 64.4L887.6 64.2L887.8 63.9L888 63.5L888.2 63.1L888.4 62.6L888.6 62.1L888.7 61.6L888.8 61L889 60.4L889.1 59.7L889.2 59.1L889.3 58.4L889.4 57.7L889.5 57L889.6 56.3L889.7 55.7L889.8 55L890 54.4L890.1 53.8L890.2 53.3L890.4 52.8L890.6 52.3L890.8 51.9L891 51.5L891.2 51.2L891.5 51L891.8 50.8L892.1 50.7L892.4 50.7M908 64.7L908.3 64.7L908.6 64.6L908.9 64.4L909.2 64.2L909.4 63.9L909.6 63.5L909.8 63.1L910 62.6L910.2 62.1L910.3 61.6L910.4 61L910.6 60.4L910.7 59.7L910.8 59.1L910.9 58.4L911 57.7L911.1 57L911.2 56.3L911.3 55.7L911.4 55L911.6 54.4L911.7 53.8L911.8 53.2L912 52.7L912.2 52.3L912.4 51.9L912.6 51.5L912.8 51.2L913.1 51" fill="none" stroke="#1b8c7a" stroke-width="2.6" stroke-linecap="round" stroke-linejoin="round"/>
<line x1="873" y1="60" x2="874" y2="72" stroke="#84dccf" stroke-width="2"/>
<g transform="translate(883.4 94.1) rotate(0) scale(0.08843 0.08163) translate(-353 -467)"><path d="M165 250C173.3 235.8 184.2 225 200 215C215.8 205 240 197.5 260 190C280 182.5 298.3 174.2 320 170C341.7 165.8 370 163.3 390 165C410 166.7 421.7 174.2 440 180C458.3 185.8 480 194.2 500 200C520 205.8 541.7 205 560 215C578.3 225 596.7 244.2 610 260C623.3 275.8 636.7 293.3 640 310C643.3 326.7 638.3 346.7 630 360C621.7 373.3 601.7 381.7 590 390C578.3 398.3 567.5 398.3 560 410C552.5 421.7 545.8 441.7 545 460C544.2 478.3 555 498.3 555 520C555 541.7 550.8 570 545 590C539.2 610 529.2 623.3 520 640C510.8 656.7 498.3 673.3 490 690C481.7 706.7 481.7 728.3 470 740C458.3 751.7 438.3 758.3 420 760C401.7 761.7 380 749.2 360 750C340 750.8 320 763.3 300 765C280 766.7 258.3 767.5 240 760C221.7 752.5 205 733.3 190 720C175 706.7 163.3 693.3 150 680C136.7 666.7 119.2 656.7 110 640C100.8 623.3 96.7 600 95 580C93.3 560 103.3 536.7 100 520C96.7 503.3 80 495 75 480C70 465 66.7 445 70 430C73.3 415 85 403.3 95 390C105 376.7 120.8 365 130 350C139.2 335 144.2 316.7 150 300C155.8 283.3 156.7 264.2 165 250Z" fill="#62cdc5" stroke="#1a8f80" stroke-width="22.6" stroke-linejoin="round"/><path d="M210 390C216.7 378.3 230 336.7 250 320C270 303.3 301.7 296.7 330 290C358.3 283.3 395 278.3 420 280C445 281.7 470 296.7 480 300M205 500C205 508.3 200.8 535 205 550C209.2 565 225.8 583.3 230 590M360 600C365 606.7 375 631.7 390 640C405 648.3 428.3 653.3 450 650C471.7 646.7 508.3 625 520 620M490 350C491.7 358.3 500 385 500 400C500 415 491.7 433.3 490 440M430 180C436.7 188.3 461.7 215 470 230C478.3 245 478.3 263.3 480 270M140 620C150 628.3 180 658.3 200 670C220 681.7 250 686.7 260 690M525 450C526.7 461.7 535.8 495 535 520C534.2 545 522.5 586.7 520 600" fill="none" stroke="#1a8f80" stroke-width="26.0" stroke-linecap="round"/></g>
<path d="M816.4 237.3L816.7 237.7L817 238.1L817.2 238.5L817.5 238.8L817.8 239.2L818.1 239.5L818.4 239.9L818.6 240.2L818.9 240.5L819.2 240.7L819.4 241L819.7 241.2L820 241.4L820.2 241.6L820.5 241.7L820.7 241.8L821 241.9L821.3 241.9L821.5 241.9L821.7 241.9L822 241.8L822.2 241.7L822.5 241.6L822.7 241.4L822.9 241.2L823.2 241L823.4 240.7L823.6 240.5L823.8 240.2L824.1 239.8L824.3 239.5L824.5 239.1L824.7 238.7L824.9 238.3L825.1 237.9L825.4 237.5L825.6 237.1L825.8 236.7L826 236.2L826.2 235.8L826.4 235.4L826.6 235L826.9 234.6L827.1 234.2L827.3 233.8L827.5 233.4L827.7 233.1L828 232.8L828.2 232.5L828.4 232.2L828.6 232L828.9 231.8L829.1 231.6L829.3 231.4L829.6 231.3L829.8 231.2L830.1 231.2L830.3 231.1L830.5 231.1L830.8 231.2L831.1 231.3L831.3 231.4L831.6 231.5L831.8 231.7L832.1 231.9L832.4 232.1L832.6 232.4L832.9 232.6L833.2 232.9L833.5 233.3L833.7 233.6L834 233.9L834.3 234.3L834.6 234.7L834.9 235.1L835.1 235.4L835.4 235.8L835.7 236.2L836 236.6L836.3 237L836.5 237.4L836.8 237.7L837.1 238L837.4 238.4L837.6 238.7L837.9 239L838.2 239.2L838.4 239.5L838.7 239.7L839 239.9L839.2 240L839.5 240.1L839.8 240.2L840 240.3L840.3 240.3L840.5 240.3L840.7 240.3L841 240.2L841.2 240.1L841.5 240L841.7 239.8L841.9 239.6L842.2 239.4L842.4 239.1L842.6 238.8L842.8 238.5L843.1 238.2L843.3 237.8L843.5 237.5L843.7 237.1L843.9 236.7L844.1 236.3L844.4 235.8L844.6 235.4L844.8 235L845 234.6L845.2 234.1L845.4 233.7L845.6 233.3L845.9 232.9L846.1 232.5L846.3 232.1L846.5 231.8L846.7 231.4L846.9 231.1L847.2 230.8L847.4 230.6L847.6 230.3L847.9 230.1L848.1 230L848.3 229.8L848.6 229.7L848.8 229.6L849.1 229.6L849.3 229.6L849.6 229.6L849.8 229.6L850.1 229.7L850.3 229.8L850.6 230L850.8 230.2L851.1 230.4L851.4 230.6L851.6 230.9L851.9 231.2L852.2 231.5L852.5 231.8L852.7 232.1L853 232.5L853.3 232.8L853.6 233.2L853.9 233.6L854.1 234L854.4 234.4L854.7 234.8L855 235.1L855.3 235.5L855.5 235.9L855.8 236.2L856.1 236.6L856.4 236.9L856.6 237.2L856.9 237.5L857.2 237.7L857.5 238L857.7 238.2L858 238.3L858.2 238.5L858.5 238.6L858.8 238.7L859 238.7" fill="none" stroke="#1666ad" stroke-width="2.1" stroke-linecap="round" stroke-linejoin="round"/>
<path d="M818.1 239.5l-0.2 -3M820.6 241.7l-0.2 -3M822.9 241.3l-0.2 -3M824.9 238.4l-0.2 -3M826.9 234.5l0.2 3M829 231.7l0.2 3M831.3 231.3l0.2 3M833.8 233.6l0.2 3M836.4 237.1l-0.2 -3M838.9 239.8l-0.2 -3M841.2 240.1l-0.2 -3M843.3 237.7l-0.2 -3M847.4 230.6l0.2 3M849.6 229.6l0.2 3M852 231.3l0.2 3M857.2 237.7l-0.2 -3" fill="none" stroke="#1666ad" stroke-width="1.0"/>
<path d="M859.4 239.4L859.4 228.2M861.8 239.4L861.8 228.2M864.2 239.4L864.2 228.2M866.6 239.4L866.6 228.2M869 239.4L869 228.2M871.4 239.4L871.4 228.2M873.8 239.4L873.8 228.2M876.2 239.4L876.2 228.2M878.6 239.4L878.6 228.2M881 239.4L881 228.2M883.4 239.4L883.4 228.2M885.8 239.4L885.8 228.2M888.2 239.4L888.2 228.2M890.6 239.4L890.6 228.2M893 239.4L893 228.2M895.4 239.4L895.4 228.2M897.8 239.4L897.8 228.2M900.2 239.4L900.2 228.2" stroke="#d43aa6" stroke-width="1.1" fill="none"/>
<path d="M867 226.8L867.3 226.8L867.7 226.9L868.1 227.1L868.5 227.3L869 227.6L869.4 228L869.9 228.4L870.4 228.9L870.9 229.4L871.4 229.9L872 230.5L872.5 231.1L873.1 231.8L873.7 232.4L874.2 233.1L874.8 233.8L875.4 234.5L875.9 235.2L876.5 235.8L877.1 236.5L877.6 237.1L878.2 237.7L878.7 238.2L879.2 238.7L879.7 239.2L880.2 239.6L880.6 240L881.1 240.3L881.5 240.5L881.9 240.7L882.3 240.8L882.6 240.8M888.6 226.8L888.9 226.8L889.3 226.9L889.7 227.1L890.1 227.3L890.6 227.6L891 228L891.5 228.4L892 228.9L892.5 229.4L893 229.9L893.6 230.5L894.1 231.1L894.7 231.8L895.3 232.4L895.8 233.1L896.4 233.8L897 234.5L897.6 235.2L898.1 235.8L898.7 236.5L899.2 237.1L899.8 237.7L900.3 238.3L900.8 238.8L901.3 239.2L901.8 239.6L902.2 240L902.7 240.3L903.1 240.5M856.2 226.8L856.5 226.8L856.9 226.9L857.3 227.1L857.7 227.3L858.2 227.6L858.6 228L859.1 228.4L859.6 228.9L860.1 229.4L860.6 229.9L861.2 230.5L861.7 231.1L862.3 231.8L862.9 232.4L863.4 233.1L864 233.8L864.6 234.5L865.1 235.2L865.7 235.8L866.3 236.5L866.8 237.1L867.4 237.7L867.9 238.2L868.4 238.7L868.9 239.2L869.4 239.6L869.8 240L870.3 240.3L870.7 240.5L871.1 240.7L871.5 240.8L871.8 240.8M877.8 226.8L878.1 226.8L878.5 226.9L878.9 227.1L879.3 227.3L879.8 227.6L880.2 228L880.7 228.4L881.2 228.9L881.7 229.4L882.2 229.9L882.8 230.5L883.3 231.1L883.9 231.8L884.5 232.4L885 233.1L885.6 233.8L886.2 234.5L886.7 235.2L887.3 235.8L887.9 236.5L888.4 237.1L889 237.7L889.5 238.2L890 238.7L890.5 239.2L891 239.6L891.4 240L891.9 240.3L892.3 240.5L892.7 240.7L893.1 240.8L893.4 240.8" fill="none" stroke="#d43aa6" stroke-width="2.6" stroke-linecap="round" stroke-linejoin="round"/>
<path d="M861 240.8L861.3 240.8L861.6 240.7L861.9 240.5L862.2 240.3L862.4 240L862.6 239.6L862.8 239.2L863 238.7L863.2 238.2L863.3 237.7L863.4 237.1L863.6 236.5L863.7 235.8L863.8 235.2L863.9 234.5L864 233.8L864.1 233.1L864.2 232.4L864.3 231.8L864.4 231.1L864.6 230.5L864.7 229.9L864.8 229.4L865 228.9L865.2 228.4L865.4 228L865.6 227.6L865.8 227.3L866.1 227.1L866.4 226.9L866.7 226.8L867 226.8M882.6 240.8L882.9 240.8L883.2 240.7L883.5 240.5L883.8 240.3L884 240L884.2 239.6L884.4 239.2L884.6 238.7L884.8 238.2L884.9 237.7L885 237.1L885.2 236.5L885.3 235.8L885.4 235.2L885.5 234.5L885.6 233.8L885.7 233.1L885.8 232.4L885.9 231.8L886 231.1L886.2 230.5L886.3 229.9L886.4 229.4L886.6 228.9L886.8 228.4L887 228L887.2 227.6L887.4 227.3L887.7 227.1L888 226.9L888.3 226.8L888.6 226.8M871.8 240.8L872.1 240.8L872.4 240.7L872.7 240.5L873 240.3L873.2 240L873.4 239.6L873.6 239.2L873.8 238.7L874 238.2L874.1 237.7L874.2 237.1L874.4 236.5L874.5 235.8L874.6 235.2L874.7 234.5L874.8 233.8L874.9 233.1L875 232.4L875.1 231.8L875.2 231.1L875.4 230.5L875.5 229.9L875.6 229.4L875.8 228.9L876 228.4L876.2 228L876.4 227.6L876.6 227.3L876.9 227.1L877.2 226.9L877.5 226.8L877.8 226.8M893.4 240.8L893.7 240.8L894 240.7L894.3 240.5L894.6 240.3L894.8 240L895 239.6L895.2 239.2L895.4 238.7L895.6 238.2L895.7 237.7L895.8 237.1L896 236.5L896.1 235.8L896.2 235.2L896.3 234.5L896.4 233.8L896.5 233.1L896.6 232.4L896.7 231.8L896.8 231.1L897 230.5L897.1 229.9L897.2 229.3L897.4 228.8L897.6 228.4L897.8 228L898 227.6L898.2 227.3L898.5 227.1" fill="none" stroke="#9a1272" stroke-width="2.6" stroke-linecap="round" stroke-linejoin="round"/>
<line x1="900" y1="215" x2="900.5" y2="230" stroke="#c71c96" stroke-width="2"/>
<g transform="translate(897.9 200.4) rotate(0) scale(0.07213 0.07407) translate(-384 -398)"><path d="M170 230C177.5 212.5 193.3 202.5 210 195C226.7 187.5 250 190.8 270 185C290 179.2 310 163.3 330 160C350 156.7 371.7 160 390 165C408.3 170 418.3 184.2 440 190C461.7 195.8 496.7 193.3 520 200C543.3 206.7 563.3 215 580 230C596.7 245 608.3 270 620 290C631.7 310 642.5 330 650 350C657.5 370 665.8 390 665 410C664.2 430 655.8 450 645 470C634.2 490 617.5 510 600 530C582.5 550 561.7 573.3 540 590C518.3 606.7 493.3 621.7 470 630C446.7 638.3 423.3 641.7 400 640C376.7 638.3 351.7 628.3 330 620C308.3 611.7 291.7 600 270 590C248.3 580 221.7 573.3 200 560C178.3 546.7 153.3 528.3 140 510C126.7 491.7 125.8 468.3 120 450C114.2 431.7 103.3 416.7 105 400C106.7 383.3 120 366.7 130 350C140 333.3 158.3 320 165 300C171.7 280 162.5 247.5 170 230Z" fill="#c71c96" stroke="#8a1068" stroke-width="27.7" stroke-linejoin="round"/><path d="M280 450C278.3 435 266.7 381.7 270 360C273.3 338.3 285 331.7 300 320C315 308.3 340 298.3 360 290C380 281.7 400 275 420 270C440 265 456.7 258.3 480 260C503.3 261.7 546.7 276.7 560 280M320 540C330 546.7 356.7 572.5 380 580C403.3 587.5 446.7 584.2 460 585M600 300C606.7 313.3 635 353.3 640 380C645 406.7 631.7 446.7 630 460" fill="none" stroke="#8a1068" stroke-width="31.9" stroke-linecap="round"/></g>
<path d="M975.1 113L975.4 113.4L975.7 113.7L976 114.1L976.3 114.5L976.6 114.8L976.9 115.2L977.2 115.5L977.5 115.8L977.7 116.1L978 116.3L978.3 116.5L978.6 116.8L978.9 116.9L979.1 117.1L979.4 117.2L979.7 117.3L979.9 117.3L980.2 117.4L980.4 117.4L980.7 117.3L980.9 117.2L981.1 117.1L981.4 117L981.6 116.8L981.8 116.6L982 116.4L982.3 116.1L982.5 115.8L982.7 115.5L982.9 115.2L983.1 114.8L983.3 114.4L983.5 114L983.7 113.6L983.9 113.2L984.1 112.8L984.3 112.3L984.5 111.9L984.7 111.5L984.9 111L985.1 110.6L985.3 110.2L985.5 109.7L985.7 109.3L985.9 109L986.1 108.6L986.3 108.2L986.5 107.9L986.7 107.6L986.9 107.3L987.1 107.1L987.3 106.9L987.6 106.7L987.8 106.5L988 106.4L988.3 106.3L988.5 106.2L988.8 106.2L989 106.2L989.3 106.3L989.5 106.3L989.8 106.4L990.1 106.6L990.3 106.7L990.6 106.9L990.9 107.2L991.2 107.4L991.4 107.7L991.7 108L992 108.3L992.3 108.6L992.6 108.9L992.9 109.3L993.2 109.7L993.5 110L993.8 110.4L994.1 110.8L994.4 111.2L994.7 111.5L995 111.9L995.3 112.2L995.6 112.6L995.9 112.9L996.2 113.2L996.5 113.5L996.7 113.8L997 114L997.3 114.2L997.6 114.4L997.9 114.6L998.1 114.7L998.4 114.8L998.6 114.9L998.9 114.9L999.1 114.9L999.4 114.9L999.6 114.9L999.9 114.8L1000.1 114.6L1000.3 114.5L1000.6 114.3L1000.8 114.1L1001 113.8L1001.2 113.5L1001.4 113.2L1001.6 112.9L1001.8 112.5L1002 112.2L1002.3 111.8L1002.4 111.4L1002.6 111L1002.8 110.5L1003 110.1L1003.2 109.7L1003.4 109.2L1003.6 108.8L1003.8 108.4L1004 107.9L1004.2 107.5L1004.4 107.1L1004.6 106.7L1004.8 106.3L1005 106L1005.2 105.6L1005.4 105.3L1005.6 105L1005.9 104.8L1006.1 104.5L1006.3 104.3L1006.5 104.2L1006.8 104L1007 103.9L1007.2 103.8L1007.5 103.8L1007.7 103.8L1008 103.8L1008.2 103.9L1008.5 104L1008.8 104.1L1009 104.2L1009.3 104.4L1009.6 104.6L1009.9 104.9L1010.2 105.1L1010.4 105.4L1010.7 105.7L1011 106L1011.3 106.4L1011.6 106.7L1011.9 107.1L1012.2 107.4L1012.5 107.8L1012.8 108.2L1013.1 108.6L1013.4 108.9L1013.7 109.3L1014 109.7L1014.3 110L1014.6 110.3L1014.9 110.7L1015.2 110.9L1015.5 111.2L1015.7 111.5L1016 111.7L1016.3 111.9L1016.6 112.1L1016.8 112.2L1017.1 112.4L1017.4 112.4L1017.6 112.5L1017.9 112.5L1018.1 112.5L1018.4 112.5L1018.6 112.4L1018.8 112.3L1019.1 112.1L1019.3 111.9L1019.5 111.7L1019.8 111.5L1020 111.2L1020.2 110.9L1020.4 110.6L1020.6 110.3" fill="none" stroke="#1c9fd3" stroke-width="2.1" stroke-linecap="round" stroke-linejoin="round"/>
<path d="M976.9 115.2l-0.4 -3M979.5 117.2l-0.4 -3M981.7 116.7l-0.4 -3M983.7 113.7l-0.4 -3M985.5 109.7l0.4 3M987.4 106.8l0.4 3M989.7 106.4l0.4 3M992.3 108.5l0.4 3M995 111.9l-0.4 -3M997.7 114.5l-0.4 -3M1000 114.7l-0.4 -3M1002 112.2l-0.4 -3M1005.7 104.9l0.4 3M1007.9 103.8l0.4 3M1010.4 105.4l0.4 3M1015.9 111.6l-0.4 -3M1018.3 112.5l-0.4 -3" fill="none" stroke="#1c9fd3" stroke-width="1.0"/>
<path d="M1033.3 130.5L1033.6 130.9L1033.8 131.3L1034.1 131.7L1034.3 132.1L1034.6 132.5L1034.9 132.8L1035.1 133.2L1035.4 133.5L1035.6 133.8L1035.9 134.1L1036.2 134.3L1036.4 134.6L1036.7 134.8L1036.9 135L1037.2 135.1L1037.4 135.2L1037.7 135.3L1037.9 135.3L1038.2 135.3L1038.4 135.3L1038.7 135.3L1038.9 135.2L1039.2 135.1L1039.4 134.9L1039.7 134.7L1039.9 134.5L1040.1 134.3L1040.4 134L1040.6 133.7L1040.9 133.4L1041.1 133L1041.3 132.7L1041.6 132.3L1041.8 131.9L1042 131.5L1042.3 131.1L1042.5 130.7L1042.7 130.3L1043 129.9L1043.2 129.5L1043.4 129L1043.7 128.6L1043.9 128.2L1044.2 127.9L1044.4 127.5L1044.6 127.2L1044.9 126.8L1045.1 126.5L1045.3 126.2L1045.6 126L1045.8 125.8L1046.1 125.6L1046.3 125.4L1046.6 125.3L1046.8 125.2L1047.1 125.1L1047.3 125L1047.5 125L1047.8 125.1L1048 125.1L1048.3 125.2L1048.6 125.4L1048.8 125.5L1049.1 125.7L1049.3 125.9L1049.6 126.2L1049.8 126.5L1050.1 126.8L1050.3 127.1L1050.6 127.4L1050.9 127.8L1051.1 128.1L1051.4 128.5L1051.6 128.9L1051.9 129.3L1052.2 129.7L1052.4 130.1L1052.7 130.5L1053 130.9L1053.2 131.3L1053.5 131.7L1053.7 132L1054 132.4L1054.3 132.7L1054.5 133.1L1054.8 133.3L1055 133.6L1055.3 133.9L1055.5 134.1L1055.8 134.3L1056.1 134.4L1056.3 134.6L1056.6 134.6L1056.8 134.7L1057.1 134.7L1057.3 134.7L1057.6 134.7L1057.8 134.6L1058 134.5L1058.3 134.4L1058.5 134.2L1058.8 134L1059 133.8L1059.3 133.5L1059.5 133.2L1059.7 132.9L1060 132.6L1060.2 132.2L1060.4 131.9L1060.7 131.5L1060.9 131.1L1061.2 130.7L1061.4 130.3L1061.6 129.9L1061.9 129.4L1062.1 129L1062.3 128.6L1062.6 128.2L1062.8 127.8L1063 127.4L1063.3 127.1L1063.5 126.7L1063.8 126.4L1064 126L1064.2 125.8L1064.5 125.5L1064.7 125.2L1065 125L1065.2 124.9L1065.4 124.7L1065.7 124.6L1065.9 124.5L1066.2 124.5L1066.4 124.4L1066.7 124.5L1066.9 124.5L1067.2 124.6L1067.4 124.7L1067.7 124.8L1067.9 125L1068.2 125.2L1068.4 125.5L1068.7 125.7L1069 126L1069.2 126.3L1069.5 126.7L1069.7 127L1070 127.4L1070.3 127.7L1070.5 128.1L1070.8 128.5L1071 128.9L1071.3 129.3L1071.6 129.7L1071.8 130.1L1072.1 130.5L1072.4 130.9L1072.6 131.3L1072.9 131.6L1073.1 132L1073.4 132.3L1073.7 132.6L1073.9 132.9L1074.2 133.1L1074.4 133.4L1074.7 133.6L1074.9 133.7L1075.2 133.9L1075.4 134L1075.7 134.1L1075.9 134.1L1076.2 134.1L1076.4 134.1L1076.7 134L1076.9 134L1077.2 133.8L1077.4 133.7L1077.7 133.5L1077.9 133.3L1078.1 133L1078.4 132.8L1078.6 132.5L1078.9 132.1L1079.1 131.8L1079.3 131.4L1079.6 131.1L1079.8 130.7L1080 130.3" fill="none" stroke="#1c9fd3" stroke-width="2.1" stroke-linecap="round" stroke-linejoin="round"/>
<path d="M1034.9 132.8l-0.1 -3M1037.3 135.1l-0.1 -3M1039.5 134.8l-0.1 -3M1041.8 132l-0.1 -3M1043.9 128.2l0.1 3M1046.1 125.5l0.1 3M1048.4 125.3l0.1 3M1050.8 127.7l0.1 3M1053.2 131.3l-0.1 -3M1055.6 134.1l-0.1 -3M1057.9 134.6l-0.1 -3M1060.2 132.3l-0.1 -3M1064.6 125.4l0.1 3M1066.8 124.5l0.1 3M1069.2 126.3l0.1 3M1074 133l-0.1 -3M1076.3 134.1l-0.1 -3M1078.6 132.5l-0.1 -3" fill="none" stroke="#1c9fd3" stroke-width="1.0"/>
<path d="M971.6 184.3L972 184L972.4 183.7L972.8 183.5L973.1 183.2L973.5 182.9L973.9 182.7L974.2 182.4L974.6 182.2L974.9 182L975.3 181.9L975.6 181.7L975.9 181.6L976.3 181.5L976.5 181.4L976.8 181.3L977.1 181.3L977.4 181.3L977.6 181.4L977.9 181.5L978.1 181.6L978.3 181.7L978.5 181.9L978.7 182.1L978.9 182.3L979 182.6L979.2 182.8L979.3 183.2L979.5 183.5L979.6 183.8L979.7 184.2L979.8 184.6L979.9 185L980 185.5L980.1 185.9L980.1 186.4L980.2 186.8L980.3 187.3L980.4 187.8L980.5 188.3L980.5 188.7L980.6 189.2L980.7 189.7L980.8 190.1L980.9 190.6L981 191L981.1 191.4L981.2 191.8L981.3 192.2L981.4 192.5L981.5 192.8L981.7 193.1L981.9 193.4L982 193.6L982.2 193.8L982.4 194L982.6 194.2L982.8 194.3L983.1 194.4L983.3 194.4L983.6 194.5L983.8 194.5L984.1 194.4L984.4 194.4L984.7 194.3L985 194.2L985.4 194L985.7 193.8L986 193.7L986.4 193.4L986.8 193.2L987.1 193L987.5 192.7L987.9 192.5L988.3 192.2L988.6 191.9L989 191.6L989.4 191.3L989.8 191L990.2 190.8L990.6 190.5L990.9 190.2L991.3 190L991.7 189.7L992 189.5L992.4 189.3L992.7 189.1L993.1 189L993.4 188.8L993.7 188.7L994 188.6L994.3 188.6L994.6 188.5L994.9 188.5L995.1 188.6L995.4 188.6L995.6 188.7L995.8 188.8L996 189L996.2 189.2L996.4 189.4L996.5 189.6L996.7 189.9L996.8 190.2L997 190.5L997.1 190.9L997.2 191.3L997.3 191.6L997.4 192.1L997.5 192.5L997.6 192.9L997.7 193.4L997.8 193.8L997.9 194.3L997.9 194.8L998 195.3L998.1 195.7L998.2 196.2L998.2 196.7L998.3 197.1L998.4 197.6L998.5 198L998.6 198.4L998.7 198.8L998.8 199.2L998.9 199.5L999.1 199.9L999.2 200.2L999.4 200.5L999.5 200.7L999.7 200.9L999.9 201.1L1000.1 201.3L1000.3 201.4L1000.5 201.5L1000.8 201.6L1001 201.6L1001.3 201.7L1001.6 201.6L1001.9 201.6L1002.2 201.5L1002.5 201.4L1002.8 201.3L1003.1 201.1L1003.5 200.9L1003.8 200.7L1004.2 200.5L1004.5 200.3L1004.9 200L1005.3 199.8L1005.7 199.5L1006.1 199.2L1006.4 198.9L1006.8 198.6L1007.2 198.4L1007.6 198.1L1008 197.8L1008.4 197.5L1008.7 197.3L1009.1 197L1009.5 196.8L1009.8 196.6L1010.2 196.4L1010.5 196.2L1010.8 196.1L1011.2 195.9L1011.5 195.8L1011.8 195.8L1012.1 195.7L1012.3 195.7L1012.6 195.7L1012.8 195.8L1013.1 195.9L1013.3 196L1013.5 196.1L1013.7 196.3L1013.9 196.5L1014.1 196.7L1014.2 197L1014.4 197.3L1014.5 197.6L1014.6 197.9L1014.8 198.3L1014.9 198.7L1015 199.1L1015.1 199.5L1015.2 199.9" fill="none" stroke="#1c9fd3" stroke-width="2.1" stroke-linecap="round" stroke-linejoin="round"/>
<path d="M973.9 182.7l-1.1 2.8M976.9 181.3l-1.1 2.8M979 182.4l-1.1 2.8M980 185.8l-1.1 2.8M980.8 190.1l1.1 -2.8M981.9 193.5l1.1 -2.8M984 194.4l1.1 -2.8M987 193l1.1 -2.8M990.6 190.5l-1.1 2.8M993.8 188.7l-1.1 2.8M996.1 189.1l-1.1 2.8M997.4 192l-1.1 2.8M999.1 200l1.1 -2.8M1000.9 201.6l1.1 -2.8M1003.8 200.8l1.1 -2.8M1010.6 196.2l-1.1 2.8M1013.2 195.9l-1.1 2.8M1014.7 198.2l-1.1 2.8" fill="none" stroke="#1c9fd3" stroke-width="1.0"/>
<path d="M1029 184.3L1029.3 183.9L1029.6 183.6L1029.9 183.2L1030.2 182.8L1030.5 182.5L1030.8 182.2L1031.1 181.9L1031.4 181.6L1031.7 181.3L1032 181L1032.3 180.8L1032.5 180.6L1032.8 180.4L1033.1 180.3L1033.4 180.2L1033.6 180.1L1033.9 180L1034.1 180L1034.4 180L1034.6 180.1L1034.9 180.1L1035.1 180.3L1035.3 180.4L1035.6 180.6L1035.8 180.8L1036 181L1036.2 181.3L1036.4 181.6L1036.6 181.9L1036.8 182.3L1037 182.6L1037.2 183L1037.4 183.4L1037.6 183.8L1037.8 184.2L1038 184.7L1038.2 185.1L1038.4 185.6L1038.6 186L1038.7 186.4L1038.9 186.9L1039.1 187.3L1039.3 187.7L1039.5 188.1L1039.7 188.5L1039.9 188.9L1040.1 189.2L1040.3 189.6L1040.5 189.9L1040.7 190.1L1040.9 190.4L1041.2 190.6L1041.4 190.8L1041.6 191L1041.8 191.1L1042.1 191.2L1042.3 191.3L1042.6 191.3L1042.8 191.3L1043.1 191.2L1043.3 191.2L1043.6 191.1L1043.9 190.9L1044.1 190.8L1044.4 190.6L1044.7 190.4L1045 190.1L1045.3 189.9L1045.6 189.6L1045.9 189.3L1046.2 188.9L1046.5 188.6L1046.8 188.2L1047.1 187.9L1047.4 187.5L1047.7 187.1L1048 186.8L1048.3 186.4L1048.6 186L1048.9 185.7L1049.2 185.3L1049.5 185L1049.8 184.7L1050.1 184.4L1050.4 184.1L1050.7 183.8L1051 183.6L1051.2 183.4L1051.5 183.2L1051.8 183L1052.1 182.9L1052.3 182.8L1052.6 182.7L1052.8 182.7L1053.1 182.7L1053.3 182.7L1053.6 182.8L1053.8 182.9L1054 183L1054.3 183.2L1054.5 183.4L1054.7 183.6L1054.9 183.9L1055.1 184.2L1055.3 184.5L1055.5 184.8L1055.7 185.2L1055.9 185.5L1056.1 185.9L1056.3 186.3L1056.5 186.7L1056.7 187.2L1056.9 187.6L1057.1 188.1L1057.3 188.5L1057.5 188.9L1057.7 189.4L1057.8 189.8L1058 190.2L1058.2 190.6L1058.4 191L1058.6 191.4L1058.8 191.8L1059 192.1L1059.2 192.4L1059.4 192.7L1059.7 193L1059.9 193.2L1060.1 193.4L1060.3 193.6L1060.6 193.7L1060.8 193.8L1061 193.9L1061.3 194L1061.5 194L1061.8 193.9L1062 193.9L1062.3 193.8L1062.6 193.7L1062.8 193.5L1063.1 193.4L1063.4 193.1L1063.7 192.9L1064 192.7L1064.3 192.4L1064.6 192.1L1064.9 191.8L1065.2 191.4L1065.5 191.1L1065.8 190.7L1066.1 190.4L1066.4 190L1066.7 189.6L1067 189.2L1067.3 188.9L1067.6 188.5L1067.9 188.2L1068.2 187.8L1068.5 187.5L1068.8 187.2L1069.1 186.9L1069.4 186.6L1069.6 186.4L1069.9 186.1L1070.2 185.9L1070.5 185.8L1070.8 185.6L1071 185.5L1071.3 185.4L1071.5 185.4L1071.8 185.4L1072 185.4L1072.3 185.5L1072.5 185.5L1072.8 185.7L1073 185.8L1073.2 186L1073.4 186.2L1073.6 186.5L1073.9 186.7L1074.1 187L1074.3 187.3L1074.5 187.7L1074.7 188.1L1074.9 188.4L1075.1 188.8L1075.3 189.3L1075.4 189.7L1075.6 190.1L1075.8 190.6L1076 191L1076.2 191.4L1076.4 191.9L1076.6 192.3L1076.8 192.7L1077 193.1L1077.2 193.6L1077.3 193.9L1077.5 194.3L1077.7 194.7L1078 195L1078.2 195.3L1078.4 195.6L1078.6 195.8L1078.8 196L1079 196.2L1079.3 196.4L1079.5 196.5L1079.7 196.6L1080 196.6L1080.2 196.7L1080.5 196.6L1080.7 196.6L1081 196.5L1081.3 196.4L1081.5 196.3L1081.8 196.1L1082.1 195.9L1082.4 195.7" fill="none" stroke="#1c9fd3" stroke-width="2.1" stroke-linecap="round" stroke-linejoin="round"/>
<path d="M1030.8 182.2l-0.4 3M1033.4 180.1l-0.4 3M1035.7 180.7l-0.4 3M1037.6 183.7l-0.4 3M1039.3 187.7l0.4 -3M1041.2 190.7l0.4 -3M1043.5 191.1l0.4 -3M1046.1 189l0.4 -3M1048.9 185.7l-0.4 3M1051.6 183.1l-0.4 3M1053.9 183l-0.4 3M1055.9 185.5l-0.4 3M1059.5 192.8l0.4 -3M1061.7 194l0.4 -3M1064.2 192.4l0.4 -3M1069.7 186.3l-0.4 3M1072.2 185.4l-0.4 3M1074.2 187.3l-0.4 3M1077.8 194.8l0.4 -3M1079.9 196.6l0.4 -3" fill="none" stroke="#1c9fd3" stroke-width="1.0"/>
<path d="M1020.2 77Q1036.2 143.7 1017.3 221.7" fill="none" stroke="#acacac" stroke-width="14.1"/>
<path d="M1020.2 77Q1036.2 143.7 1017.3 221.7" fill="none" stroke="#c3c3c3" stroke-width="12.3"/>
<path d="M1020.2 77Q1036.2 143.7 1017.3 221.7" fill="none" stroke="#939393" stroke-width="12.5" stroke-dasharray="1.0 3.5" stroke-dashoffset="-2"/>
<path d="M1020.2 77Q1036.2 143.7 1017.3 221.7" fill="none" stroke="#a9a9a9" stroke-width="13.5" stroke-opacity="0.0"/>
<ellipse cx="1020.2" cy="77" rx="1.6" ry="6.8" fill="#8a8a8a" transform="rotate(76.8 1020.2 77)"/>
<path d="M1164.4 113L1164.7 113.4L1165 113.7L1165.4 114L1165.7 114.4L1166 114.7L1166.3 115L1166.6 115.3L1166.9 115.6L1167.2 115.9L1167.5 116.1L1167.8 116.3L1168.1 116.5L1168.4 116.7L1168.7 116.8L1169 116.9L1169.2 117L1169.5 117L1169.7 117L1170 117L1170.2 116.9L1170.5 116.8L1170.7 116.7L1170.9 116.6L1171.1 116.4L1171.3 116.2L1171.5 115.9L1171.7 115.6L1171.9 115.3L1172.1 115L1172.3 114.7L1172.5 114.3L1172.7 113.9L1172.8 113.5L1173 113.1L1173.2 112.6L1173.3 112.2L1173.5 111.8L1173.7 111.3L1173.8 110.9L1174 110.4L1174.1 110L1174.3 109.5L1174.5 109.1L1174.6 108.7L1174.8 108.3L1175 107.9L1175.2 107.5L1175.4 107.2L1175.6 106.9L1175.7 106.6L1175.9 106.3L1176.1 106.1L1176.4 105.9L1176.6 105.7L1176.8 105.5L1177 105.4L1177.3 105.3L1177.5 105.3L1177.8 105.3L1178 105.3L1178.3 105.3L1178.5 105.4L1178.8 105.5L1179.1 105.7L1179.4 105.8L1179.7 106L1180 106.2L1180.3 106.5L1180.6 106.8L1180.9 107L1181.2 107.3L1181.5 107.7L1181.8 108L1182.1 108.3L1182.5 108.7L1182.8 109L1183.1 109.4L1183.4 109.7L1183.8 110.1L1184.1 110.4L1184.4 110.8L1184.7 111.1L1185 111.4L1185.3 111.7L1185.6 112L1185.9 112.2L1186.2 112.4L1186.5 112.6L1186.8 112.8L1187.1 113L1187.4 113.1L1187.7 113.2L1187.9 113.3L1188.2 113.3L1188.4 113.3L1188.7 113.3L1188.9 113.2L1189.2 113.1L1189.4 113L1189.6 112.8L1189.8 112.6L1190 112.4L1190.2 112.1L1190.4 111.8L1190.6 111.5L1190.8 111.2L1191 110.9L1191.2 110.5L1191.3 110.1L1191.5 109.7L1191.7 109.3L1191.8 108.8L1192 108.4L1192.2 107.9L1192.3 107.5L1192.5 107L1192.7 106.6L1192.8 106.2L1193 105.7L1193.2 105.3L1193.3 104.9L1193.5 104.5L1193.7 104.1L1193.9 103.8L1194 103.4L1194.2 103.1L1194.4 102.8L1194.6 102.6L1194.8 102.3L1195 102.1L1195.3 101.9L1195.5 101.8L1195.7 101.7L1196 101.6L1196.2 101.6L1196.5 101.6L1196.7 101.6L1197 101.6L1197.2 101.7L1197.5 101.9L1197.8 102L1198.1 102.2L1198.4 102.4L1198.7 102.6L1199 102.8L1199.3 103.1L1199.6 103.4L1199.9 103.7L1200.2 104L1200.5 104.4L1200.9 104.7L1201.2 105L1201.5 105.4L1201.8 105.8L1202.1 106.1L1202.5 106.5L1202.8 106.8L1203.1 107.1L1203.4 107.4L1203.7 107.8L1204 108L1204.4 108.3L1204.7 108.6L1205 108.8L1205.2 109L1205.5 109.2L1205.8 109.3L1206.1 109.4L1206.4 109.5L1206.6 109.6L1206.9 109.6L1207.1 109.6L1207.4 109.5L1207.6 109.5L1207.8 109.4L1208.1 109.2L1208.3 109L1208.5 108.8L1208.7 108.6L1208.9 108.4" fill="none" stroke="#1c9fd3" stroke-width="2.1" stroke-linecap="round" stroke-linejoin="round"/>
<path d="M1166.3 115l-0.6 -2.9M1169.1 116.9l-0.6 -2.9M1171.3 116.2l-0.6 -2.9M1173 113.1l-0.6 -2.9M1174.5 109l0.6 2.9M1176.3 106l0.6 2.9M1178.5 105.4l0.6 2.9M1181.2 107.4l0.6 2.9M1184.2 110.6l-0.6 -2.9M1187 112.9l-0.6 -2.9M1189.4 113l-0.6 -2.9M1191.2 110.4l-0.6 -2.9M1194.4 102.9l0.6 2.9M1196.5 101.6l0.6 2.9M1199.1 103l0.6 2.9M1205 108.8l-0.6 -2.9M1207.4 109.5l-0.6 -2.9" fill="none" stroke="#1c9fd3" stroke-width="1.0"/>
<path d="M1160.1 182.9L1160.5 182.6L1160.9 182.4L1161.3 182.1L1161.7 181.8L1162.1 181.6L1162.4 181.3L1162.8 181.1L1163.2 180.9L1163.5 180.7L1163.9 180.6L1164.2 180.4L1164.5 180.3L1164.8 180.2L1165.1 180.2L1165.4 180.1L1165.7 180.1L1166 180.1L1166.2 180.2L1166.5 180.3L1166.7 180.4L1166.9 180.5L1167.1 180.7L1167.3 180.9L1167.4 181.1L1167.6 181.4L1167.7 181.7L1167.9 182L1168 182.3L1168.1 182.7L1168.2 183.1L1168.3 183.5L1168.4 183.9L1168.4 184.4L1168.5 184.8L1168.6 185.3L1168.6 185.7L1168.7 186.2L1168.8 186.7L1168.8 187.2L1168.9 187.6L1168.9 188.1L1169 188.6L1169.1 189L1169.1 189.5L1169.2 189.9L1169.3 190.3L1169.4 190.7L1169.5 191.1L1169.6 191.4L1169.8 191.7L1169.9 192L1170 192.3L1170.2 192.6L1170.4 192.8L1170.6 193L1170.8 193.1L1171 193.3L1171.2 193.3L1171.5 193.4L1171.7 193.4L1172 193.5L1172.3 193.4L1172.6 193.4L1172.9 193.3L1173.2 193.2L1173.5 193.1L1173.9 192.9L1174.2 192.7L1174.6 192.5L1175 192.3L1175.3 192.1L1175.7 191.8L1176.1 191.6L1176.5 191.3L1176.9 191.1L1177.3 190.8L1177.7 190.5L1178.1 190.2L1178.5 190L1178.8 189.7L1179.2 189.5L1179.6 189.2L1180 189L1180.3 188.8L1180.7 188.6L1181.1 188.4L1181.4 188.3L1181.7 188.1L1182 188L1182.4 187.9L1182.6 187.9L1182.9 187.9L1183.2 187.9L1183.5 187.9L1183.7 188L1183.9 188.1L1184.1 188.2L1184.3 188.4L1184.5 188.6L1184.7 188.8L1184.9 189.1L1185 189.3L1185.1 189.6L1185.3 190L1185.4 190.3L1185.5 190.7L1185.6 191.1L1185.7 191.5L1185.7 191.9L1185.8 192.4L1185.9 192.8L1186 193.3L1186 193.8L1186.1 194.2L1186.1 194.7L1186.2 195.2L1186.3 195.7L1186.3 196.1L1186.4 196.6L1186.5 197L1186.5 197.5L1186.6 197.9L1186.7 198.3L1186.8 198.7L1186.9 199L1187 199.4L1187.2 199.7L1187.3 200L1187.5 200.2L1187.6 200.5L1187.8 200.7L1188 200.8L1188.2 201L1188.5 201.1L1188.7 201.2L1188.9 201.2L1189.2 201.2L1189.5 201.2L1189.8 201.2L1190.1 201.1L1190.4 201L1190.7 200.9L1191.1 200.7L1191.4 200.6L1191.8 200.4L1192.1 200.2L1192.5 200L1192.9 199.7L1193.3 199.5L1193.7 199.2L1194 198.9L1194.4 198.7L1194.8 198.4L1195.2 198.1L1195.6 197.9L1196 197.6L1196.4 197.3L1196.8 197.1L1197.2 196.8L1197.5 196.6L1197.9 196.4L1198.3 196.2L1198.6 196.1L1198.9 195.9L1199.3 195.8L1199.6 195.7L1199.9 195.7L1200.2 195.6L1200.4 195.6L1200.7 195.7L1200.9 195.7L1201.2 195.8L1201.4 195.9L1201.6 196.1L1201.8 196.3L1202 196.5L1202.1 196.7L1202.3 197L1202.4 197.3L1202.6 197.6L1202.7 197.9L1202.8 198.3L1202.9 198.7L1203 199.1L1203.1 199.5L1203.1 200" fill="none" stroke="#1c9fd3" stroke-width="2.1" stroke-linecap="round" stroke-linejoin="round"/>
<path d="M1162.4 181.3l-1.2 2.7M1165.5 180.1l-1.2 2.7M1167.5 181.3l-1.2 2.7M1168.5 184.7l-1.2 2.7M1169.1 189l1.2 -2.7M1170.1 192.4l1.2 -2.7M1172.1 193.4l1.2 -2.7M1175.2 192.1l1.2 -2.7M1178.9 189.7l-1.2 2.7M1182.1 188l-1.2 2.7M1184.4 188.5l-1.2 2.7M1185.6 191.4l-1.2 2.7M1187.1 199.5l1.2 -2.7M1188.8 201.2l1.2 -2.7M1191.7 200.4l1.2 -2.7M1198.7 196l-1.2 2.7M1201.3 195.9l-1.2 2.7M1202.8 198.2l-1.2 2.7" fill="none" stroke="#1c9fd3" stroke-width="1.0"/>
<path d="M1208.1 77Q1224.2 144.4 1205.2 220.2" fill="none" stroke="#acacac" stroke-width="14.1"/>
<path d="M1208.1 77Q1224.2 144.4 1205.2 220.2" fill="none" stroke="#c3c3c3" stroke-width="12.3"/>
<path d="M1208.1 77Q1224.2 144.4 1205.2 220.2" fill="none" stroke="#939393" stroke-width="12.5" stroke-dasharray="1.0 3.5" stroke-dashoffset="-2"/>
<path d="M1208.1 77Q1224.2 144.4 1205.2 220.2" fill="none" stroke="#a9a9a9" stroke-width="13.5" stroke-opacity="0.0"/>
<ellipse cx="1208.1" cy="77" rx="1.6" ry="6.8" fill="#8a8a8a" transform="rotate(76.9 1208.1 77)"/>
<path d="M1219.2 125.5L1218.4 114.4M1221.6 125.4L1220.8 114.2M1224 125.2L1223.2 114M1226.4 125L1225.6 113.8M1228.8 124.8L1228 113.7M1231.2 124.7L1230.4 113.5M1233.6 124.5L1232.8 113.3M1236 124.3L1235.2 113.2M1238.3 124.2L1237.6 113M1240.7 124L1239.9 112.8M1243.1 123.8L1242.3 112.6M1245.5 123.6L1244.7 112.5M1247.9 123.5L1247.1 112.3M1250.3 123.3L1249.5 112.1M1252.7 123.1L1251.9 112M1255.1 123L1254.3 111.8M1257.5 122.8L1256.7 111.6M1259.9 122.6L1259.1 111.5M1262.3 122.5L1261.5 111.3M1264.7 122.3L1263.9 111.1M1267.1 122.1L1266.3 110.9" stroke="#1ea2d6" stroke-width="1.1" fill="none"/>
<path d="M1225.9 112.4L1226.2 112.4L1226.6 112.5L1227 112.6L1227.4 112.8L1227.9 113.1L1228.4 113.4L1228.9 113.8L1229.4 114.2L1230 114.7L1230.5 115.2L1231.1 115.8L1231.7 116.3L1232.3 116.9L1232.9 117.6L1233.5 118.2L1234.2 118.8L1234.8 119.5L1235.4 120.1L1236 120.8L1236.6 121.4L1237.2 121.9L1237.8 122.5L1238.4 123L1238.9 123.5L1239.4 123.9L1239.9 124.3L1240.4 124.6L1240.9 124.8L1241.3 125.1L1241.7 125.2L1242.1 125.3L1242.4 125.3M1247.4 110.9L1247.8 110.9L1248.2 111L1248.6 111.1L1249 111.3L1249.4 111.6L1249.9 111.9L1250.4 112.3L1251 112.7L1251.5 113.2L1252.1 113.7L1252.7 114.2L1253.3 114.8L1253.9 115.4L1254.5 116L1255.1 116.7L1255.7 117.3L1256.3 118L1256.9 118.6L1257.6 119.2L1258.2 119.8L1258.8 120.4L1259.3 120.9L1259.9 121.5L1260.4 121.9L1261 122.4L1261.5 122.7L1262 123L1262.4 123.3L1262.8 123.5L1263.3 123.7L1263.6 123.7L1264 123.7M1215.1 113.2L1215.5 113.2L1215.8 113.3L1216.2 113.4L1216.7 113.6L1217.1 113.9L1217.6 114.2L1218.1 114.6L1218.6 115L1219.2 115.5L1219.8 116L1220.3 116.5L1220.9 117.1L1221.5 117.7L1222.1 118.3L1222.8 119L1223.4 119.6L1224 120.3L1224.6 120.9L1225.2 121.5L1225.8 122.1L1226.4 122.7L1227 123.3L1227.6 123.8L1228.1 124.2L1228.7 124.7L1229.2 125L1229.6 125.4L1230.1 125.6L1230.5 125.8L1230.9 126L1231.3 126L1231.7 126M1236.7 111.6L1237 111.7L1237.4 111.7L1237.8 111.9L1238.2 112.1L1238.7 112.3L1239.2 112.7L1239.7 113L1240.2 113.5L1240.7 113.9L1241.3 114.4L1241.9 115L1242.5 115.6L1243.1 116.2L1243.7 116.8L1244.3 117.4L1244.9 118.1L1245.6 118.7L1246.2 119.4L1246.8 120L1247.4 120.6L1248 121.2L1248.6 121.7L1249.1 122.2L1249.7 122.7L1250.2 123.1L1250.7 123.5L1251.2 123.8L1251.6 124.1L1252.1 124.3L1252.5 124.4L1252.9 124.5L1253.2 124.5M1258.2 110.1L1258.6 110.1L1259 110.2L1259.4 110.3L1259.8 110.6L1260.3 110.8L1260.8 111.2L1261.3 111.6L1261.9 112L1262.5 112.5L1263 113.1L1263.6 113.7L1264.3 114.3L1264.9 114.9L1265.5 115.6L1266.2 116.2L1266.8 116.9L1267.5 117.5L1268.1 118.2L1268.7 118.8L1269.3 119.4" fill="none" stroke="#1ea2d6" stroke-width="2.6" stroke-linecap="round" stroke-linejoin="round"/>
<path d="M1220.9 126.8L1221.2 126.8L1221.5 126.6L1221.8 126.4L1222 126.2L1222.2 125.9L1222.4 125.5L1222.6 125.1L1222.7 124.6L1222.9 124.1L1223 123.5L1223.1 122.9L1223.1 122.3L1223.2 121.7L1223.3 121L1223.3 120.3L1223.4 119.6L1223.4 118.9L1223.5 118.2L1223.6 117.6L1223.6 116.9L1223.7 116.3L1223.8 115.7L1223.9 115.1L1224 114.6L1224.2 114.1L1224.3 113.7L1224.5 113.3L1224.8 113L1225 112.8L1225.3 112.6L1225.6 112.5L1225.9 112.4M1242.4 125.3L1242.8 125.2L1243.1 125.1L1243.3 124.9L1243.6 124.7L1243.8 124.3L1244 124L1244.1 123.6L1244.3 123.1L1244.4 122.6L1244.5 122L1244.6 121.4L1244.7 120.8L1244.8 120.1L1244.8 119.5L1244.9 118.8L1244.9 118.1L1245 117.4L1245 116.7L1245.1 116L1245.2 115.4L1245.3 114.7L1245.3 114.1L1245.5 113.6L1245.6 113.1L1245.7 112.6L1245.9 112.2L1246.1 111.8L1246.3 111.5L1246.5 111.2L1246.8 111.1L1247.1 110.9L1247.4 110.9M1264 123.7L1264.3 123.7L1264.6 123.5L1264.9 123.3L1265.1 123.1L1265.4 122.8L1265.6 122.4L1265.7 121.9L1265.9 121.4L1266 120.9L1266.1 120.3L1266.2 119.6L1266.3 119L1266.3 118.3L1266.4 117.6L1266.5 116.9L1266.5 116.2L1266.6 115.5L1266.6 114.8L1266.7 114.1L1266.8 113.4M1231.7 126L1232 126L1232.3 125.9L1232.6 125.7L1232.8 125.4L1233 125.1L1233.2 124.7L1233.4 124.3L1233.5 123.9L1233.6 123.3L1233.7 122.8L1233.8 122.2L1233.9 121.5L1234 120.9L1234 120.2L1234.1 119.5L1234.2 118.8L1234.2 118.2L1234.3 117.5L1234.3 116.8L1234.4 116.1L1234.5 115.5L1234.6 114.9L1234.7 114.4L1234.8 113.8L1235 113.4L1235.1 112.9L1235.3 112.6L1235.5 112.3L1235.8 112L1236 111.8L1236.3 111.7L1236.7 111.6M1253.2 124.5L1253.5 124.4L1253.8 124.3L1254.1 124.1L1254.3 123.9L1254.6 123.6L1254.7 123.2L1254.9 122.8L1255.1 122.3L1255.2 121.8L1255.3 121.2L1255.4 120.6L1255.5 120L1255.5 119.4L1255.6 118.7L1255.7 118L1255.7 117.3L1255.8 116.6L1255.8 115.9L1255.9 115.3L1255.9 114.6L1256 114L1256.1 113.4L1256.2 112.8L1256.4 112.3L1256.5 111.8L1256.7 111.4L1256.9 111L1257.1 110.7L1257.3 110.5L1257.6 110.3L1257.9 110.2L1258.2 110.1" fill="none" stroke="#1666ad" stroke-width="2.6" stroke-linecap="round" stroke-linejoin="round"/>
<path d="M1269.2 122L1268.4 110.8M1271.6 121.8L1270.8 110.6M1274 121.6L1273.2 110.4M1276.4 121.4L1275.6 110.3M1278.8 121.3L1278 110.1M1281.2 121.1L1280.4 109.9M1283.6 120.9L1282.8 109.8M1286 120.8L1285.2 109.6M1288.4 120.6L1287.6 109.4M1290.8 120.4L1290 109.2M1293.2 120.2L1292.4 109.1M1295.6 120.1L1294.8 108.9M1298 119.9L1297.2 108.7M1300.4 119.7L1299.6 108.6M1302.8 119.6L1302 108.4M1305.2 119.4L1304.4 108.2M1307.5 119.2L1306.8 108" stroke="#84dccf" stroke-width="1.1" fill="none"/>
<path d="M1269 109.3L1269.3 109.4L1269.7 109.4L1270.1 109.6L1270.5 109.8L1271 110L1271.5 110.3L1272 110.7L1272.5 111.1L1273.1 111.6L1273.6 112.1L1274.2 112.7L1274.8 113.3L1275.4 113.9L1276 114.5L1276.6 115.1L1277.2 115.8L1277.9 116.4L1278.5 117L1279.1 117.7L1279.7 118.3L1280.3 118.9L1280.9 119.4L1281.4 119.9L1282 120.4L1282.5 120.8L1283 121.2L1283.5 121.5L1284 121.8L1284.4 122L1284.8 122.1L1285.2 122.2L1285.5 122.2M1290.5 107.8L1290.9 107.8L1291.2 107.9L1291.6 108L1292.1 108.2L1292.5 108.5L1293 108.8L1293.5 109.2L1294.1 109.6L1294.6 110.1L1295.2 110.6L1295.7 111.1L1296.3 111.7L1296.9 112.3L1297.6 112.9L1298.2 113.6L1298.8 114.2L1299.4 114.9L1300 115.5L1300.6 116.1L1301.2 116.7L1301.8 117.3L1302.4 117.9L1303 118.4L1303.5 118.9L1304.1 119.3L1304.6 119.7L1305 120L1305.5 120.2L1305.9 120.4L1306.3 120.6L1306.7 120.6L1307.1 120.7M1269.3 119.4L1269.9 120L1270.5 120.6L1271.1 121.1L1271.6 121.5L1272.2 121.9L1272.7 122.2L1273.1 122.5L1273.6 122.7L1274 122.9L1274.4 123L1274.8 123M1279.7 108.6L1280.1 108.6L1280.5 108.7L1280.9 108.8L1281.3 109L1281.8 109.3L1282.3 109.6L1282.8 109.9L1283.3 110.4L1283.8 110.8L1284.4 111.4L1285 111.9L1285.6 112.5L1286.2 113.1L1286.8 113.7L1287.4 114.4L1288 115L1288.6 115.6L1289.3 116.3L1289.9 116.9L1290.5 117.5L1291.1 118.1L1291.6 118.6L1292.2 119.2L1292.8 119.6L1293.3 120L1293.8 120.4L1294.3 120.7L1294.7 121L1295.2 121.2L1295.6 121.3L1295.9 121.4L1296.3 121.4M1301.3 107L1301.6 107L1302 107.1L1302.5 107.3L1302.9 107.5L1303.4 107.8L1303.9 108.1L1304.4 108.5L1304.9 108.9L1305.5 109.4L1306.1 109.9L1306.7 110.5L1307.3 111.1L1307.9 111.7L1308.5 112.4" fill="none" stroke="#84dccf" stroke-width="2.6" stroke-linecap="round" stroke-linejoin="round"/>
<path d="M1266.8 113.4L1266.9 112.8L1267 112.2L1267.1 111.6L1267.2 111.1L1267.4 110.7L1267.6 110.3L1267.8 110L1268.1 109.7L1268.3 109.5L1268.6 109.4L1269 109.3M1285.5 122.2L1285.9 122.1L1286.1 122L1286.4 121.8L1286.7 121.6L1286.9 121.3L1287.1 120.9L1287.2 120.5L1287.4 120L1287.5 119.5L1287.6 118.9L1287.7 118.3L1287.8 117.7L1287.9 117L1287.9 116.4L1288 115.7L1288 115L1288.1 114.3L1288.1 113.6L1288.2 112.9L1288.3 112.3L1288.3 111.7L1288.4 111.1L1288.5 110.5L1288.7 110L1288.8 109.5L1289 109.1L1289.2 108.7L1289.4 108.4L1289.6 108.2L1289.9 108L1290.2 107.9L1290.5 107.8M1307.1 120.7L1307.4 120.6L1307.7 120.5L1308 120.3L1308.2 120L1308.4 119.7L1308.6 119.3L1308.8 118.9L1308.9 118.4L1309.1 117.8L1309.2 117.3L1309.3 116.6L1309.3 116L1309.4 115.3L1309.5 114.6M1274.8 123L1275.1 122.9L1275.4 122.8L1275.6 122.6L1275.9 122.3L1276.1 122L1276.3 121.7L1276.5 121.2L1276.6 120.8L1276.7 120.3L1276.8 119.7L1276.9 119.1L1277 118.5L1277.1 117.8L1277.1 117.1L1277.2 116.5L1277.2 115.8L1277.3 115.1L1277.4 114.4L1277.4 113.7L1277.5 113.1L1277.6 112.4L1277.7 111.8L1277.8 111.3L1277.9 110.8L1278 110.3L1278.2 109.9L1278.4 109.5L1278.6 109.2L1278.9 108.9L1279.1 108.8L1279.4 108.6L1279.7 108.6M1296.3 121.4L1296.6 121.4L1296.9 121.2L1297.2 121.1L1297.4 120.8L1297.6 120.5L1297.8 120.1L1298 119.7L1298.1 119.2L1298.3 118.7L1298.4 118.2L1298.5 117.6L1298.6 116.9L1298.6 116.3L1298.7 115.6L1298.7 114.9L1298.8 114.2L1298.8 113.5L1298.9 112.9L1299 112.2L1299 111.5L1299.1 110.9L1299.2 110.3L1299.3 109.7L1299.4 109.2L1299.6 108.7L1299.8 108.3L1299.9 108L1300.2 107.6L1300.4 107.4L1300.7 107.2L1301 107.1L1301.3 107" fill="none" stroke="#1b8c7a" stroke-width="2.6" stroke-linecap="round" stroke-linejoin="round"/>
<path d="M1217 197.6L1216.6 186.4M1219.4 197.5L1219 186.3M1221.8 197.3L1221.3 186.2M1224.2 197.2L1223.7 186.1M1226.6 197.1L1226.1 185.9M1229 197L1228.5 185.8M1231.4 196.9L1230.9 185.7M1233.8 196.8L1233.3 185.6M1236.2 196.7L1235.7 185.5M1238.6 196.6L1238.1 185.4M1241 196.5L1240.5 185.3M1243.4 196.4L1242.9 185.2M1245.8 196.3L1245.3 185.1M1248.2 196.2L1247.7 185M1250.6 196.1L1250.1 184.9M1253 196L1252.5 184.8M1255.4 195.9L1254.9 184.7M1257.8 195.8L1257.3 184.6M1260.2 195.7L1259.7 184.5M1262.6 195.6L1262.1 184.4" stroke="#1ea2d6" stroke-width="1.1" fill="none"/>
<path d="M1224.1 184.6L1224.4 184.7L1224.8 184.7L1225.2 184.9L1225.6 185.1L1226.1 185.4L1226.6 185.7L1227.1 186.1L1227.6 186.5L1228.1 187L1228.7 187.6L1229.2 188.1L1229.8 188.7L1230.4 189.3L1231 190L1231.6 190.6L1232.2 191.3L1232.8 191.9L1233.4 192.6L1234 193.2L1234.6 193.9L1235.1 194.5L1235.7 195L1236.3 195.6L1236.8 196L1237.3 196.5L1237.8 196.9L1238.3 197.2L1238.7 197.5L1239.2 197.7L1239.6 197.8L1239.9 197.9L1240.3 197.9M1245.7 183.7L1246 183.7L1246.4 183.8L1246.8 183.9L1247.2 184.2L1247.7 184.4L1248.1 184.8L1248.6 185.1L1249.2 185.6L1249.7 186.1L1250.2 186.6L1250.8 187.2L1251.4 187.8L1252 188.4L1252.6 189L1253.2 189.7L1253.8 190.3L1254.4 191L1255 191.7L1255.6 192.3L1256.1 192.9L1256.7 193.5L1257.3 194.1L1257.8 194.6L1258.4 195.1L1258.9 195.5L1259.4 195.9L1259.9 196.3L1260.3 196.5L1260.7 196.7L1261.1 196.9L1261.5 197L1261.9 197M1213.3 185.1L1213.6 185.1L1214 185.2L1214.4 185.4L1214.8 185.6L1215.3 185.9L1215.8 186.2L1216.3 186.6L1216.8 187L1217.3 187.5L1217.9 188L1218.4 188.6L1219 189.2L1219.6 189.8L1220.2 190.4L1220.8 191.1L1221.4 191.8L1222 192.4L1222.6 193.1L1223.2 193.7L1223.8 194.3L1224.4 194.9L1224.9 195.5L1225.5 196L1226 196.5L1226.5 197L1227 197.3L1227.5 197.7L1227.9 197.9L1228.4 198.2L1228.8 198.3L1229.1 198.4L1229.5 198.4M1234.9 184.2L1235.2 184.2L1235.6 184.3L1236 184.4L1236.4 184.6L1236.9 184.9L1237.4 185.2L1237.8 185.6L1238.4 186.1L1238.9 186.5L1239.4 187.1L1240 187.6L1240.6 188.2L1241.2 188.9L1241.8 189.5L1242.4 190.2L1243 190.8L1243.6 191.5L1244.2 192.1L1244.8 192.8L1245.4 193.4L1245.9 194L1246.5 194.6L1247.1 195.1L1247.6 195.6L1248.1 196L1248.6 196.4L1249.1 196.7L1249.5 197L1249.9 197.2L1250.3 197.4L1250.7 197.4L1251.1 197.5M1256.5 183.2L1256.8 183.2L1257.2 183.3L1257.6 183.5L1258 183.7L1258.5 184L1258.9 184.3L1259.4 184.7L1260 185.1L1260.5 185.6L1261 186.1L1261.6 186.7L1262.2 187.3L1262.8 187.9L1263.4 188.6L1264 189.2" fill="none" stroke="#1ea2d6" stroke-width="2.6" stroke-linecap="round" stroke-linejoin="round"/>
<path d="M1218.7 198.9L1219 198.8L1219.3 198.7L1219.6 198.5L1219.8 198.3L1220.1 198L1220.3 197.6L1220.5 197.2L1220.6 196.8L1220.8 196.2L1220.9 195.7L1221 195.1L1221.1 194.5L1221.2 193.8L1221.2 193.1L1221.3 192.5L1221.4 191.8L1221.5 191.1L1221.5 190.4L1221.6 189.7L1221.7 189.1L1221.8 188.4L1221.9 187.8L1222 187.3L1222.2 186.8L1222.3 186.3L1222.5 185.9L1222.7 185.5L1222.9 185.2L1223.2 185L1223.5 184.8L1223.8 184.7L1224.1 184.6M1240.3 197.9L1240.6 197.9L1240.9 197.8L1241.2 197.6L1241.4 197.4L1241.7 197.1L1241.9 196.7L1242 196.3L1242.2 195.8L1242.3 195.3L1242.5 194.7L1242.6 194.1L1242.7 193.5L1242.7 192.9L1242.8 192.2L1242.9 191.5L1243 190.8L1243 190.1L1243.1 189.4L1243.2 188.8L1243.3 188.1L1243.4 187.5L1243.5 186.9L1243.6 186.3L1243.8 185.8L1243.9 185.4L1244.1 184.9L1244.3 184.6L1244.5 184.3L1244.8 184L1245 183.9L1245.3 183.7L1245.7 183.7M1261.9 197L1262.2 196.9L1262.5 196.8L1262.8 196.6L1263 196.4L1263.2 196.1L1263.4 195.7L1263.6 195.3L1263.8 194.8L1263.9 194.3L1264 193.8L1264.1 193.2L1264.2 192.5L1264.3 191.9L1264.4 191.2L1264.5 190.5M1229.5 198.4L1229.8 198.4L1230.1 198.3L1230.4 198.1L1230.6 197.8L1230.9 197.5L1231.1 197.2L1231.2 196.7L1231.4 196.3L1231.5 195.8L1231.7 195.2L1231.8 194.6L1231.9 194L1232 193.3L1232 192.7L1232.1 192L1232.2 191.3L1232.3 190.6L1232.3 189.9L1232.4 189.2L1232.5 188.6L1232.6 188L1232.7 187.4L1232.8 186.8L1233 186.3L1233.1 185.8L1233.3 185.4L1233.5 185.1L1233.7 184.7L1234 184.5L1234.3 184.3L1234.5 184.2L1234.9 184.2M1251.1 197.5L1251.4 197.4L1251.7 197.3L1252 197.1L1252.2 196.9L1252.4 196.6L1252.6 196.2L1252.8 195.8L1253 195.3L1253.1 194.8L1253.2 194.3L1253.4 193.7L1253.5 193L1253.5 192.4L1253.6 191.7L1253.7 191L1253.8 190.3L1253.8 189.7L1253.9 189L1254 188.3L1254.1 187.6L1254.2 187L1254.3 186.4L1254.4 185.9L1254.5 185.4L1254.7 184.9L1254.9 184.5L1255.1 184.1L1255.3 183.8L1255.6 183.6L1255.8 183.4L1256.1 183.3L1256.5 183.2" fill="none" stroke="#1666ad" stroke-width="2.6" stroke-linecap="round" stroke-linejoin="round"/>
<path d="M1265.3 195.4L1264.8 184.3M1267.7 195.3L1267.2 184.1M1270.1 195.2L1269.6 184M1272.5 195.1L1272 183.9M1274.9 195L1274.4 183.8M1277.3 194.9L1276.8 183.7M1279.7 194.8L1279.2 183.6M1282.1 194.7L1281.6 183.5M1284.5 194.6L1284 183.4M1286.9 194.5L1286.4 183.3M1289.3 194.4L1288.8 183.2M1291.6 194.3L1291.2 183.1M1294 194.2L1293.6 183M1296.4 194.1L1296 182.9M1298.8 194L1298.4 182.8M1301.2 193.9L1300.7 182.7M1303.6 193.8L1303.1 182.6M1306 193.6L1305.5 182.5" stroke="#d43aa6" stroke-width="1.1" fill="none"/>
<path d="M1267.2 182.7L1267.6 182.8L1268 182.8L1268.4 183L1268.8 183.2L1269.2 183.5L1269.7 183.8L1270.2 184.2L1270.7 184.6L1271.3 185.1L1271.8 185.7L1272.4 186.2L1273 186.8L1273.5 187.4L1274.1 188.1L1274.7 188.7L1275.3 189.4L1275.9 190.1L1276.5 190.7L1277.1 191.3L1277.7 192L1278.3 192.6L1278.9 193.1L1279.4 193.7L1280 194.1L1280.5 194.6L1281 195L1281.4 195.3L1281.9 195.6L1282.3 195.8L1282.7 195.9L1283.1 196L1283.4 196M1288.8 181.8L1289.2 181.8L1289.5 181.9L1289.9 182L1290.4 182.3L1290.8 182.5L1291.3 182.9L1291.8 183.3L1292.3 183.7L1292.8 184.2L1293.4 184.7L1294 185.3L1294.5 185.9L1295.1 186.5L1295.7 187.1L1296.3 187.8L1296.9 188.4L1297.5 189.1L1298.1 189.8L1298.7 190.4L1299.3 191L1299.9 191.6L1300.4 192.2L1301 192.7L1301.5 193.2L1302 193.6L1302.5 194L1303 194.4L1303.5 194.6L1303.9 194.8L1304.3 195L1304.7 195.1L1305 195.1M1264 189.2L1264.6 189.9L1265.2 190.6L1265.8 191.2L1266.4 191.8L1267 192.5L1267.5 193.1L1268.1 193.6L1268.6 194.1L1269.2 194.6L1269.7 195.1L1270.2 195.4L1270.7 195.8L1271.1 196.1L1271.5 196.3L1271.9 196.4L1272.3 196.5L1272.7 196.5M1278 182.3L1278.4 182.3L1278.8 182.4L1279.2 182.5L1279.6 182.7L1280 183L1280.5 183.3L1281 183.7L1281.5 184.2L1282.1 184.7L1282.6 185.2L1283.2 185.7L1283.7 186.3L1284.3 187L1284.9 187.6L1285.5 188.3L1286.1 188.9L1286.7 189.6L1287.3 190.2L1287.9 190.9L1288.5 191.5L1289.1 192.1L1289.7 192.7L1290.2 193.2L1290.7 193.7L1291.3 194.1L1291.8 194.5L1292.2 194.8L1292.7 195.1L1293.1 195.3L1293.5 195.5L1293.9 195.5L1294.2 195.6M1299.6 181.3L1300 181.3L1300.3 181.4L1300.7 181.6L1301.2 181.8L1301.6 182L1302.1 182.4L1302.6 182.8L1303.1 183.2L1303.6 183.7L1304.1 184.2L1304.7 184.7L1305.3 185.3L1305.9 185.9L1306.4 186.6" fill="none" stroke="#d43aa6" stroke-width="2.6" stroke-linecap="round" stroke-linejoin="round"/>
<path d="M1264.5 190.5L1264.6 189.8L1264.6 189.2L1264.7 188.5L1264.8 187.8L1264.9 187.2L1265 186.5L1265.1 185.9L1265.2 185.4L1265.3 184.9L1265.5 184.4L1265.7 184L1265.9 183.6L1266.1 183.3L1266.3 183.1L1266.6 182.9L1266.9 182.8L1267.2 182.7M1283.4 196L1283.8 196L1284.1 195.9L1284.3 195.7L1284.6 195.5L1284.8 195.2L1285 194.8L1285.2 194.4L1285.3 193.9L1285.5 193.4L1285.6 192.8L1285.7 192.2L1285.8 191.6L1285.9 191L1286 190.3L1286.1 189.6L1286.1 188.9L1286.2 188.2L1286.3 187.5L1286.4 186.9L1286.4 186.2L1286.5 185.6L1286.7 185L1286.8 184.4L1286.9 183.9L1287.1 183.5L1287.3 183L1287.5 182.7L1287.7 182.4L1287.9 182.1L1288.2 182L1288.5 181.8L1288.8 181.8M1305 195.1L1305.3 195L1305.6 194.9L1305.9 194.8L1306.2 194.5L1306.4 194.2L1306.6 193.9L1306.8 193.5L1306.9 193L1307.1 192.5L1307.2 191.9L1307.3 191.3L1307.4 190.7L1307.5 190.1L1307.6 189.4M1272.7 196.5L1273 196.5L1273.3 196.4L1273.5 196.2L1273.8 195.9L1274 195.6L1274.2 195.3L1274.4 194.8L1274.6 194.4L1274.7 193.9L1274.8 193.3L1274.9 192.7L1275 192.1L1275.1 191.4L1275.2 190.8L1275.3 190.1L1275.3 189.4L1275.4 188.7L1275.5 188L1275.6 187.3L1275.7 186.7L1275.8 186.1L1275.9 185.5L1276 184.9L1276.1 184.4L1276.3 183.9L1276.5 183.5L1276.7 183.2L1276.9 182.9L1277.1 182.6L1277.4 182.4L1277.7 182.3L1278 182.3M1294.2 195.6L1294.6 195.5L1294.9 195.4L1295.1 195.2L1295.4 195L1295.6 194.7L1295.8 194.3L1296 193.9L1296.1 193.4L1296.3 192.9L1296.4 192.4L1296.5 191.8L1296.6 191.1L1296.7 190.5L1296.8 189.8L1296.8 189.1L1296.9 188.4L1297 187.8L1297.1 187.1L1297.1 186.4L1297.2 185.7L1297.3 185.1L1297.4 184.5L1297.6 184L1297.7 183.5L1297.9 183L1298 182.6L1298.2 182.2L1298.5 181.9L1298.7 181.7L1299 181.5L1299.3 181.4L1299.6 181.3" fill="none" stroke="#9a1272" stroke-width="2.6" stroke-linecap="round" stroke-linejoin="round"/>
<line x1="1268" y1="121" x2="1269" y2="132" stroke="#84dccf" stroke-width="2"/>
<line x1="1306" y1="170" x2="1306.5" y2="186" stroke="#c71c96" stroke-width="2"/>
<g transform="translate(1307.1 155.2) rotate(0) scale(0.05806 0.06790) translate(-384 -398)"><path d="M170 230C177.5 212.5 193.3 202.5 210 195C226.7 187.5 250 190.8 270 185C290 179.2 310 163.3 330 160C350 156.7 371.7 160 390 165C408.3 170 418.3 184.2 440 190C461.7 195.8 496.7 193.3 520 200C543.3 206.7 563.3 215 580 230C596.7 245 608.3 270 620 290C631.7 310 642.5 330 650 350C657.5 370 665.8 390 665 410C664.2 430 655.8 450 645 470C634.2 490 617.5 510 600 530C582.5 550 561.7 573.3 540 590C518.3 606.7 493.3 621.7 470 630C446.7 638.3 423.3 641.7 400 640C376.7 638.3 351.7 628.3 330 620C308.3 611.7 291.7 600 270 590C248.3 580 221.7 573.3 200 560C178.3 546.7 153.3 528.3 140 510C126.7 491.7 125.8 468.3 120 450C114.2 431.7 103.3 416.7 105 400C106.7 383.3 120 366.7 130 350C140 333.3 158.3 320 165 300C171.7 280 162.5 247.5 170 230Z" fill="#c71c96" stroke="#8a1068" stroke-width="34.4" stroke-linejoin="round"/><path d="M280 450C278.3 435 266.7 381.7 270 360C273.3 338.3 285 331.7 300 320C315 308.3 340 298.3 360 290C380 281.7 400 275 420 270C440 265 456.7 258.3 480 260C503.3 261.7 546.7 276.7 560 280M320 540C330 546.7 356.7 572.5 380 580C403.3 587.5 446.7 584.2 460 585M600 300C606.7 313.3 635 353.3 640 380C645 406.7 631.7 446.7 630 460" fill="none" stroke="#8a1068" stroke-width="39.6" stroke-linecap="round"/></g>
<g transform="translate(1280 150.9) rotate(0) scale(0.08149 0.07996) translate(-353 -467)"><path d="M165 250C173.3 235.8 184.2 225 200 215C215.8 205 240 197.5 260 190C280 182.5 298.3 174.2 320 170C341.7 165.8 370 163.3 390 165C410 166.7 421.7 174.2 440 180C458.3 185.8 480 194.2 500 200C520 205.8 541.7 205 560 215C578.3 225 596.7 244.2 610 260C623.3 275.8 636.7 293.3 640 310C643.3 326.7 638.3 346.7 630 360C621.7 373.3 601.7 381.7 590 390C578.3 398.3 567.5 398.3 560 410C552.5 421.7 545.8 441.7 545 460C544.2 478.3 555 498.3 555 520C555 541.7 550.8 570 545 590C539.2 610 529.2 623.3 520 640C510.8 656.7 498.3 673.3 490 690C481.7 706.7 481.7 728.3 470 740C458.3 751.7 438.3 758.3 420 760C401.7 761.7 380 749.2 360 750C340 750.8 320 763.3 300 765C280 766.7 258.3 767.5 240 760C221.7 752.5 205 733.3 190 720C175 706.7 163.3 693.3 150 680C136.7 666.7 119.2 656.7 110 640C100.8 623.3 96.7 600 95 580C93.3 560 103.3 536.7 100 520C96.7 503.3 80 495 75 480C70 465 66.7 445 70 430C73.3 415 85 403.3 95 390C105 376.7 120.8 365 130 350C139.2 335 144.2 316.7 150 300C155.8 283.3 156.7 264.2 165 250Z" fill="#62cdc5" stroke="#1a8f80" stroke-width="24.5" stroke-linejoin="round"/><path d="M210 390C216.7 378.3 230 336.7 250 320C270 303.3 301.7 296.7 330 290C358.3 283.3 395 278.3 420 280C445 281.7 470 296.7 480 300M205 500C205 508.3 200.8 535 205 550C209.2 565 225.8 583.3 230 590M360 600C365 606.7 375 631.7 390 640C405 648.3 428.3 653.3 450 650C471.7 646.7 508.3 625 520 620M490 350C491.7 358.3 500 385 500 400C500 415 491.7 433.3 490 440M430 180C436.7 188.3 461.7 215 470 230C478.3 245 478.3 263.3 480 270M140 620C150 628.3 180 658.3 200 670C220 681.7 250 686.7 260 690M525 450C526.7 461.7 535.8 495 535 520C534.2 545 522.5 586.7 520 600" fill="none" stroke="#1a8f80" stroke-width="28.2" stroke-linecap="round"/></g>
<text transform="translate(1562.8 83.2) scale(1 1.04)" font-size="29.6" text-anchor="start">ON</text>
<text transform="translate(1664.7 167) scale(1 1.04)" font-size="29.5" text-anchor="middle">+</text>
<text transform="translate(1977.5 245.7) scale(1 1.04)" font-size="29.6" text-anchor="start">OFF</text>
<line x1="1773.1" y1="147.1" x2="1844" y2="147.1" stroke="#000" stroke-width="1.8"/>
<path d="M1852 147.1L1838.5 142.2L1838.5 152Z" fill="#000"/>
<circle cx="1578" cy="146" r="19" fill="url(#glow)"/>
<path d="M1482.8 88.7Q1498.4 160.2 1480.8 234.8" fill="none" stroke="#acacac" stroke-width="14.1"/>
<path d="M1482.8 88.7Q1498.4 160.2 1480.8 234.8" fill="none" stroke="#c3c3c3" stroke-width="12.3"/>
<path d="M1482.8 88.7Q1498.4 160.2 1480.8 234.8" fill="none" stroke="#939393" stroke-width="12.5" stroke-dasharray="1.0 3.5" stroke-dashoffset="-2"/>
<path d="M1482.8 88.7Q1498.4 160.2 1480.8 234.8" fill="none" stroke="#a9a9a9" stroke-width="13.5" stroke-opacity="0.0"/>
<ellipse cx="1482.8" cy="88.7" rx="1.6" ry="6.8" fill="#8a8a8a" transform="rotate(78 1482.8 88.7)"/>
<path d="M1496.2 126.2L1493.3 115.4M1498.5 125.6L1495.7 114.8M1500.8 125L1498 114.2M1503.2 124.4L1500.3 113.5M1505.5 123.8L1502.6 112.9M1507.8 123.1L1504.9 112.3M1510.1 122.5L1507.3 111.7M1512.4 121.9L1509.6 111.1M1514.8 121.3L1511.9 110.5M1517.1 120.7L1514.2 109.9M1519.4 120.1L1516.5 109.2M1521.7 119.5L1518.9 108.6M1524 118.8L1521.2 108M1526.4 118.2L1523.5 107.4M1528.7 117.6L1525.8 106.8M1531 117L1528.1 106.2M1533.3 116.4L1530.5 105.6M1535.6 115.8L1532.8 104.9M1538 115.2L1535.1 104.3M1540.3 114.5L1537.4 103.7M1542.6 113.9L1539.7 103.1" stroke="#1ea2d6" stroke-width="1.1" fill="none"/>
<path d="M1500.3 112.1L1500.7 112L1501.1 112L1501.5 112.1L1501.9 112.2L1502.4 112.4L1503 112.6L1503.5 112.9L1504.1 113.2L1504.8 113.6L1505.4 114L1506.1 114.4L1506.8 114.8L1507.5 115.3L1508.2 115.8L1508.9 116.3L1509.7 116.9L1510.4 117.4L1511.1 117.9L1511.8 118.4L1512.5 118.9L1513.2 119.3L1513.9 119.8L1514.6 120.2L1515.2 120.5L1515.8 120.8L1516.3 121.1L1516.9 121.3L1517.4 121.5L1517.8 121.6L1518.3 121.7L1518.6 121.7L1519 121.6M1521.2 106.6L1521.6 106.5L1521.9 106.5L1522.4 106.6L1522.8 106.7L1523.3 106.8L1523.9 107.1L1524.4 107.3L1525 107.7L1525.6 108L1526.3 108.4L1527 108.9L1527.7 109.3L1528.4 109.8L1529.1 110.3L1529.8 110.8L1530.5 111.3L1531.3 111.8L1532 112.4L1532.7 112.9L1533.4 113.3L1534.1 113.8L1534.8 114.2L1535.4 114.6L1536.1 115L1536.7 115.3L1537.2 115.6L1537.8 115.8L1538.3 116L1538.7 116.1L1539.1 116.1L1539.5 116.2L1539.9 116.1M1489.9 114.8L1490.2 114.8L1490.6 114.8L1491 114.9L1491.5 115L1492 115.1L1492.5 115.4L1493.1 115.6L1493.7 116L1494.3 116.3L1495 116.7L1495.7 117.1L1496.3 117.6L1497 118.1L1497.8 118.6L1498.5 119.1L1499.2 119.6L1499.9 120.1L1500.7 120.6L1501.4 121.1L1502.1 121.6L1502.8 122.1L1503.5 122.5L1504.1 122.9L1504.7 123.3L1505.3 123.6L1505.9 123.9L1506.4 124.1L1506.9 124.3L1507.4 124.4L1507.8 124.4L1508.2 124.4L1508.6 124.4M1510.8 109.3L1511.1 109.3L1511.5 109.3L1511.9 109.3L1512.4 109.4L1512.9 109.6L1513.4 109.8L1514 110.1L1514.6 110.4L1515.2 110.8L1515.9 111.2L1516.5 111.6L1517.2 112.1L1517.9 112.6L1518.6 113.1L1519.4 113.6L1520.1 114.1L1520.8 114.6L1521.6 115.1L1522.3 115.6L1523 116.1L1523.7 116.6L1524.3 117L1525 117.4L1525.6 117.7L1526.2 118.1L1526.8 118.3L1527.3 118.6L1527.8 118.7L1528.3 118.9L1528.7 118.9L1529.1 118.9L1529.4 118.9M1531.6 103.8L1532 103.7L1532.4 103.7L1532.8 103.8L1533.3 103.9L1533.8 104.1L1534.3 104.3L1534.9 104.6L1535.5 104.9L1536.1 105.3L1536.8 105.7L1537.4 106.1L1538.1 106.6L1538.8 107L1539.5 107.5L1540.3 108.1L1541 108.6L1541.7 109.1L1542.5 109.6L1543.2 110.1L1543.9 110.6L1544.6 111L1545.3 111.5L1545.9 111.9" fill="none" stroke="#1ea2d6" stroke-width="2.6" stroke-linecap="round" stroke-linejoin="round"/>
<path d="M1498.1 127.2L1498.4 127L1498.7 126.9L1498.9 126.6L1499.1 126.3L1499.3 126L1499.4 125.6L1499.5 125.2L1499.5 124.7L1499.5 124.1L1499.5 123.6L1499.5 123L1499.5 122.3L1499.4 121.7L1499.4 121L1499.3 120.3L1499.2 119.6L1499.1 118.9L1499.1 118.2L1499 117.6L1499 116.9L1498.9 116.3L1498.9 115.7L1498.9 115.1L1498.9 114.6L1499 114.1L1499.1 113.6L1499.2 113.2L1499.3 112.9L1499.5 112.6L1499.8 112.4L1500 112.2L1500.3 112.1M1519 121.6L1519.3 121.5L1519.6 121.3L1519.8 121.1L1520 120.8L1520.1 120.5L1520.3 120.1L1520.3 119.6L1520.4 119.1L1520.4 118.6L1520.4 118L1520.4 117.4L1520.4 116.8L1520.3 116.1L1520.3 115.5L1520.2 114.8L1520.1 114.1L1520 113.4L1520 112.7L1519.9 112L1519.8 111.4L1519.8 110.8L1519.8 110.2L1519.8 109.6L1519.8 109L1519.9 108.6L1519.9 108.1L1520.1 107.7L1520.2 107.4L1520.4 107.1L1520.6 106.8L1520.9 106.7L1521.2 106.6M1539.9 116.1L1540.2 116L1540.4 115.8L1540.7 115.6L1540.9 115.3L1541 114.9L1541.1 114.5L1541.2 114.1L1541.3 113.6L1541.3 113.1L1541.3 112.5L1541.3 111.9L1541.2 111.2L1541.2 110.6L1541.1 109.9L1541.1 109.2L1541 108.5L1540.9 107.8L1540.8 107.2L1540.8 106.5L1540.7 105.8L1540.7 105.2L1540.7 104.6L1540.7 104M1508.6 124.4L1508.9 124.3L1509.1 124.1L1509.4 123.9L1509.5 123.6L1509.7 123.2L1509.8 122.8L1509.9 122.4L1510 121.9L1510 121.4L1510 120.8L1510 120.2L1509.9 119.6L1509.9 118.9L1509.8 118.2L1509.7 117.5L1509.7 116.9L1509.6 116.2L1509.5 115.5L1509.4 114.8L1509.4 114.2L1509.4 113.5L1509.3 112.9L1509.3 112.3L1509.4 111.8L1509.4 111.3L1509.5 110.9L1509.6 110.5L1509.8 110.1L1510 109.8L1510.2 109.6L1510.5 109.4L1510.8 109.3M1529.4 118.9L1529.7 118.7L1530 118.6L1530.2 118.3L1530.4 118L1530.6 117.7L1530.7 117.3L1530.8 116.9L1530.8 116.4L1530.9 115.8L1530.9 115.3L1530.8 114.7L1530.8 114L1530.8 113.4L1530.7 112.7L1530.6 112L1530.5 111.3L1530.5 110.6L1530.4 110L1530.3 109.3L1530.3 108.6L1530.2 108L1530.2 107.4L1530.2 106.8L1530.2 106.3L1530.3 105.8L1530.4 105.3L1530.5 104.9L1530.7 104.6L1530.8 104.3L1531.1 104.1L1531.3 103.9L1531.6 103.8" fill="none" stroke="#1666ad" stroke-width="2.6" stroke-linecap="round" stroke-linejoin="round"/>
<path d="M1545.5 113.2L1542.6 102.3M1547.8 112.5L1544.9 101.7M1550.1 111.9L1547.3 101.1M1552.4 111.3L1549.6 100.5M1554.8 110.7L1551.9 99.9M1557.1 110.1L1554.2 99.3M1559.4 109.5L1556.5 98.6M1561.7 108.9L1558.9 98M1564 108.2L1561.2 97.4M1566.4 107.6L1563.5 96.8M1568.7 107L1565.8 96.2M1571 106.4L1568.1 95.6M1573.3 105.8L1570.5 95M1575.6 105.2L1572.8 94.3M1578 104.6L1575.1 93.7M1580.3 103.9L1577.4 93.1M1582.6 103.3L1579.7 92.5" stroke="#84dccf" stroke-width="1.1" fill="none"/>
<path d="M1542.1 101L1542.4 101L1542.8 101L1543.2 101L1543.7 101.1L1544.2 101.3L1544.7 101.5L1545.3 101.8L1545.9 102.1L1546.5 102.5L1547.2 102.9L1547.9 103.3L1548.5 103.8L1549.2 104.3L1550 104.8L1550.7 105.3L1551.4 105.8L1552.2 106.3L1552.9 106.8L1553.6 107.3L1554.3 107.8L1555 108.3L1555.7 108.7L1556.3 109.1L1556.9 109.5L1557.5 109.8L1558.1 110L1558.6 110.3L1559.1 110.4L1559.6 110.6L1560 110.6L1560.4 110.6L1560.8 110.6M1563 95.5L1563.3 95.4L1563.7 95.4L1564.1 95.5L1564.6 95.6L1565.1 95.8L1565.6 96L1566.2 96.3L1566.8 96.6L1567.4 97L1568.1 97.4L1568.7 97.8L1569.4 98.3L1570.1 98.7L1570.8 99.2L1571.6 99.8L1572.3 100.3L1573 100.8L1573.8 101.3L1574.5 101.8L1575.2 102.3L1575.9 102.7L1576.5 103.2L1577.2 103.6L1577.8 103.9L1578.4 104.2L1579 104.5L1579.5 104.7L1580 104.9L1580.5 105L1580.9 105.1L1581.3 105.1L1581.6 105M1545.9 111.9L1546.5 112.2L1547.1 112.5L1547.7 112.8L1548.2 113L1548.7 113.2L1549.2 113.3L1549.6 113.4L1550 113.4L1550.3 113.3M1552.5 98.3L1552.9 98.2L1553.3 98.2L1553.7 98.3L1554.1 98.4L1554.6 98.6L1555.2 98.8L1555.7 99.1L1556.3 99.4L1557 99.7L1557.6 100.1L1558.3 100.6L1559 101L1559.7 101.5L1560.4 102L1561.1 102.5L1561.9 103L1562.6 103.5L1563.3 104.1L1564 104.6L1564.7 105L1565.4 105.5L1566.1 105.9L1566.8 106.3L1567.4 106.7L1568 107L1568.5 107.3L1569.1 107.5L1569.6 107.7L1570 107.8L1570.5 107.9L1570.8 107.9L1571.2 107.8M1573.4 92.7L1573.8 92.7L1574.2 92.7L1574.6 92.8L1575.1 92.9L1575.7 93.1L1576.2 93.3L1576.9 93.6L1577.5 94L1578.2 94.4L1578.9 94.8L1579.6 95.3L1580.3 95.8L1581.1 96.3" fill="none" stroke="#84dccf" stroke-width="2.6" stroke-linecap="round" stroke-linejoin="round"/>
<path d="M1540.7 104L1540.7 103.5L1540.7 103L1540.8 102.6L1540.9 102.2L1541.1 101.8L1541.3 101.5L1541.5 101.3L1541.8 101.1L1542.1 101M1560.8 110.6L1561.1 110.5L1561.3 110.3L1561.6 110L1561.7 109.8L1561.9 109.4L1562 109L1562.1 108.6L1562.2 108.1L1562.2 107.5L1562.2 107L1562.2 106.4L1562.1 105.7L1562.1 105.1L1562 104.4L1561.9 103.7L1561.9 103L1561.8 102.3L1561.7 101.7L1561.6 101L1561.6 100.3L1561.6 99.7L1561.5 99.1L1561.5 98.5L1561.6 98L1561.6 97.5L1561.7 97.1L1561.8 96.7L1562 96.3L1562.2 96L1562.4 95.8L1562.7 95.6L1563 95.5M1581.6 105L1582 104.9L1582.2 104.7L1582.5 104.5L1582.7 104.2L1582.8 103.8L1582.9 103.3L1583 102.9L1583.1 102.3L1583.1 101.7L1583.1 101.1L1583 100.5L1583 99.8L1582.9 99.1M1550.3 113.3L1550.6 113.2L1550.9 113L1551.1 112.8L1551.3 112.5L1551.5 112.2L1551.6 111.8L1551.7 111.3L1551.7 110.8L1551.7 110.3L1551.7 109.7L1551.7 109.1L1551.7 108.5L1551.6 107.8L1551.6 107.2L1551.5 106.5L1551.4 105.8L1551.3 105.1L1551.3 104.4L1551.2 103.8L1551.2 103.1L1551.1 102.5L1551.1 101.9L1551.1 101.3L1551.1 100.8L1551.2 100.3L1551.3 99.8L1551.4 99.4L1551.5 99.1L1551.7 98.8L1552 98.6L1552.2 98.4L1552.5 98.3M1571.2 107.8L1571.5 107.7L1571.8 107.5L1572 107.3L1572.2 107L1572.3 106.6L1572.5 106.2L1572.5 105.8L1572.6 105.3L1572.6 104.8L1572.6 104.2L1572.6 103.6L1572.6 103L1572.5 102.3L1572.5 101.6L1572.4 101L1572.3 100.3L1572.2 99.6L1572.2 98.9L1572.1 98.2L1572 97.6L1572 96.9L1572 96.3L1572 95.8L1572 95.2L1572.1 94.7L1572.1 94.3L1572.3 93.9L1572.4 93.5L1572.6 93.3L1572.8 93L1573.1 92.8L1573.4 92.7" fill="none" stroke="#1b8c7a" stroke-width="2.6" stroke-linecap="round" stroke-linejoin="round"/>
<line x1="1543" y1="112" x2="1546" y2="124" stroke="#84dccf" stroke-width="2"/>
<g transform="translate(1559 139.2) rotate(0) scale(0.08496 0.08163) translate(-353 -467)"><path d="M165 250C173.3 235.8 184.2 225 200 215C215.8 205 240 197.5 260 190C280 182.5 298.3 174.2 320 170C341.7 165.8 370 163.3 390 165C410 166.7 421.7 174.2 440 180C458.3 185.8 480 194.2 500 200C520 205.8 541.7 205 560 215C578.3 225 596.7 244.2 610 260C623.3 275.8 636.7 293.3 640 310C643.3 326.7 638.3 346.7 630 360C621.7 373.3 601.7 381.7 590 390C578.3 398.3 567.5 398.3 560 410C552.5 421.7 545.8 441.7 545 460C544.2 478.3 555 498.3 555 520C555 541.7 550.8 570 545 590C539.2 610 529.2 623.3 520 640C510.8 656.7 498.3 673.3 490 690C481.7 706.7 481.7 728.3 470 740C458.3 751.7 438.3 758.3 420 760C401.7 761.7 380 749.2 360 750C340 750.8 320 763.3 300 765C280 766.7 258.3 767.5 240 760C221.7 752.5 205 733.3 190 720C175 706.7 163.3 693.3 150 680C136.7 666.7 119.2 656.7 110 640C100.8 623.3 96.7 600 95 580C93.3 560 103.3 536.7 100 520C96.7 503.3 80 495 75 480C70 465 66.7 445 70 430C73.3 415 85 403.3 95 390C105 376.7 120.8 365 130 350C139.2 335 144.2 316.7 150 300C155.8 283.3 156.7 264.2 165 250Z" fill="#62cdc5" stroke="#1a8f80" stroke-width="23.5" stroke-linejoin="round"/><path d="M210 390C216.7 378.3 230 336.7 250 320C270 303.3 301.7 296.7 330 290C358.3 283.3 395 278.3 420 280C445 281.7 470 296.7 480 300M205 500C205 508.3 200.8 535 205 550C209.2 565 225.8 583.3 230 590M360 600C365 606.7 375 631.7 390 640C405 648.3 428.3 653.3 450 650C471.7 646.7 508.3 625 520 620M490 350C491.7 358.3 500 385 500 400C500 415 491.7 433.3 490 440M430 180C436.7 188.3 461.7 215 470 230C478.3 245 478.3 263.3 480 270M140 620C150 628.3 180 658.3 200 670C220 681.7 250 686.7 260 690M525 450C526.7 461.7 535.8 495 535 520C534.2 545 522.5 586.7 520 600" fill="none" stroke="#1a8f80" stroke-width="27.1" stroke-linecap="round"/></g>
<path d="M1492 196L1492.3 195.7L1492.7 195.3L1493 195L1493.3 194.6L1493.6 194.3L1494 194L1494.3 193.7L1494.6 193.4L1494.9 193.2L1495.2 193L1495.5 192.8L1495.8 192.6L1496.1 192.4L1496.4 192.3L1496.7 192.2L1496.9 192.1L1497.2 192.1L1497.4 192.1L1497.7 192.1L1497.9 192.2L1498.2 192.3L1498.4 192.4L1498.6 192.6L1498.8 192.8L1499 193L1499.2 193.3L1499.4 193.6L1499.6 193.9L1499.8 194.2L1500 194.6L1500.1 194.9L1500.3 195.3L1500.5 195.7L1500.6 196.2L1500.8 196.6L1500.9 197L1501.1 197.5L1501.2 197.9L1501.4 198.4L1501.5 198.9L1501.7 199.3L1501.9 199.7L1502 200.2L1502.2 200.6L1502.3 201L1502.5 201.4L1502.7 201.7L1502.9 202.1L1503.1 202.4L1503.2 202.7L1503.4 203L1503.6 203.2L1503.8 203.4L1504.1 203.6L1504.3 203.7L1504.5 203.9L1504.7 203.9L1505 204L1505.2 204L1505.5 204L1505.8 203.9L1506 203.9L1506.3 203.7L1506.6 203.6L1506.9 203.4L1507.2 203.2L1507.5 203L1507.8 202.8L1508.1 202.5L1508.4 202.2L1508.8 201.9L1509.1 201.6L1509.4 201.3L1509.7 201L1510.1 200.6L1510.4 200.3L1510.7 199.9L1511.1 199.6L1511.4 199.2L1511.7 198.9L1512 198.6L1512.4 198.3L1512.7 198L1513 197.7L1513.3 197.4L1513.6 197.2L1513.9 197L1514.2 196.8L1514.5 196.6L1514.8 196.5L1515.1 196.3L1515.4 196.3L1515.6 196.2L1515.9 196.2L1516.1 196.2L1516.4 196.3L1516.6 196.4L1516.8 196.5L1517.1 196.6L1517.3 196.8L1517.5 197L1517.7 197.3L1517.9 197.5L1518.1 197.8L1518.2 198.1L1518.4 198.5L1518.6 198.9L1518.8 199.2L1518.9 199.6L1519.1 200.1L1519.3 200.5L1519.4 200.9L1519.6 201.4L1519.7 201.8L1519.9 202.3L1520 202.7L1520.2 203.2L1520.3 203.6L1520.5 204.1L1520.7 204.5L1520.8 204.9L1521 205.3L1521.2 205.7L1521.3 206L1521.5 206.4L1521.7 206.7L1521.9 207L1522.1 207.2L1522.3 207.4L1522.5 207.6L1522.7 207.8L1523 207.9L1523.2 208L1523.4 208.1L1523.7 208.1L1523.9 208.1L1524.2 208.1L1524.5 208L1524.7 207.9L1525 207.8L1525.3 207.6L1525.6 207.4L1525.9 207.2L1526.2 207L1526.5 206.8L1526.8 206.5L1527.2 206.2L1527.5 205.9L1527.8 205.6L1528.1 205.2L1528.5 204.9L1528.8 204.5L1529.1 204.2L1529.5 203.8L1529.8 203.5L1530.1 203.2L1530.4 202.8L1530.8 202.5L1531.1 202.2L1531.4 201.9L1531.7 201.6L1532 201.4L1532.3 201.2L1532.6 201L1532.9 200.8L1533.2 200.6L1533.5 200.5L1533.8 200.4L1534 200.3L1534.3 200.3L1534.6 200.3L1534.8 200.4L1535 200.4L1535.3 200.5L1535.5 200.7L1535.7 200.8L1535.9 201L1536.1 201.2L1536.3 201.5L1536.5 201.8L1536.7 202.1L1536.9 202.4L1537.1 202.8L1537.2 203.2L1537.4 203.6L1537.6 204L1537.7 204.4L1537.9 204.8L1538 205.3L1538.2 205.7L1538.4 206.2L1538.5 206.6L1538.7 207.1L1538.8 207.5L1539 208L1539.1 208.4L1539.3 208.8L1539.5 209.2L1539.6 209.6L1539.8 210L1540 210.3L1540.2 210.6L1540.4 210.9L1540.5 211.2L1540.8 211.4L1541 211.6L1541.2 211.8L1541.4 212L1541.6 212.1L1541.9 212.2L1542.1 212.2L1542.4 212.2L1542.6 212.2L1542.9 212.1L1543.2 212.1L1543.4 212" fill="none" stroke="#1c9fd3" stroke-width="2.1" stroke-linecap="round" stroke-linejoin="round"/>
<path d="M1494 194l-0.6 2.9M1496.7 192.2l-0.6 2.9M1498.9 192.9l-0.6 2.9M1500.6 196.1l-0.6 2.9M1502 200.2l0.6 -2.9M1503.7 203.3l0.6 -2.9M1505.9 203.9l0.6 -2.9M1508.7 202l0.6 -2.9M1511.7 198.9l-0.6 2.9M1514.6 196.5l-0.6 2.9M1517 196.6l-0.6 2.9M1518.7 199.2l-0.6 2.9M1521.8 206.8l0.6 -2.9M1523.8 208.1l0.6 -2.9M1526.5 206.8l0.6 -2.9M1532.5 201.1l-0.6 2.9M1535 200.4l-0.6 2.9M1536.9 202.4l-0.6 2.9M1539.9 210.1l0.6 -2.9M1541.8 212.1l0.6 -2.9" fill="none" stroke="#1c9fd3" stroke-width="1.0"/>
<path d="M1645.7 195.9L1648.6 185.1M1648.1 196.5L1650.9 185.7M1650.4 197.2L1653.3 186.3M1652.7 197.8L1655.6 186.9M1655 198.4L1657.9 187.6M1657.3 199L1660.2 188.2M1659.7 199.6L1662.5 188.8M1662 200.2L1664.8 189.4M1664.3 200.8L1667.2 190M1666.6 201.5L1669.5 190.6M1668.9 202.1L1671.8 191.3M1671.2 202.7L1674.1 191.9M1673.6 203.3L1676.4 192.5M1675.9 203.9L1678.8 193.1M1678.2 204.5L1681.1 193.7M1680.5 205.2L1683.4 194.3M1682.8 205.8L1685.7 195" stroke="#d43aa6" stroke-width="1.1" fill="none"/>
<path d="M1656.3 185.7L1656.6 185.8L1657 186L1657.3 186.3L1657.7 186.6L1658 187L1658.4 187.5L1658.7 188L1659.1 188.5L1659.4 189.2L1659.8 189.8L1660.2 190.5L1660.6 191.3L1660.9 192.1L1661.3 192.8L1661.7 193.7L1662.1 194.5L1662.4 195.3L1662.8 196.1L1663.2 196.9L1663.6 197.6L1663.9 198.4L1664.3 199.1L1664.7 199.8L1665 200.4L1665.4 200.9L1665.8 201.5L1666.1 201.9L1666.5 202.3L1666.8 202.7L1667.1 202.9L1667.5 203.1L1667.8 203.2M1677.2 191.2L1677.5 191.4L1677.9 191.6L1678.2 191.8L1678.5 192.2L1678.9 192.6L1679.2 193L1679.6 193.5L1680 194.1L1680.3 194.7L1680.7 195.4L1681.1 196.1L1681.4 196.9L1681.8 197.6L1682.2 198.4L1682.6 199.3L1683 200.1L1683.3 200.9L1683.7 201.7L1684.1 202.5L1684.5 203.2L1684.8 204L1685.2 204.7L1685.6 205.4L1685.9 206L1686.3 206.6L1686.7 207.1L1687 207.5M1645.9 182.9L1646.2 183L1646.5 183.2L1646.9 183.5L1647.2 183.8L1647.6 184.2L1647.9 184.7L1648.3 185.2L1648.6 185.8L1649 186.4L1649.4 187.1L1649.7 187.8L1650.1 188.5L1650.5 189.3L1650.9 190.1L1651.2 190.9L1651.6 191.7L1652 192.5L1652.4 193.3L1652.7 194.1L1653.1 194.9L1653.5 195.6L1653.9 196.3L1654.2 197L1654.6 197.6L1655 198.2L1655.3 198.7L1655.7 199.2L1656 199.5L1656.4 199.9L1656.7 200.1L1657 200.3L1657.4 200.5M1666.8 188.5L1667.1 188.6L1667.4 188.8L1667.8 189L1668.1 189.4L1668.4 189.8L1668.8 190.2L1669.2 190.7L1669.5 191.3L1669.9 191.9L1670.2 192.6L1670.6 193.3L1671 194.1L1671.4 194.8L1671.7 195.6L1672.1 196.4L1672.5 197.2L1672.9 198L1673.2 198.8L1673.6 199.6L1674 200.4L1674.4 201.1L1674.7 201.9L1675.1 202.5L1675.5 203.1L1675.8 203.7L1676.2 204.2L1676.5 204.7L1676.9 205.1L1677.2 205.4L1677.6 205.7L1677.9 205.9L1678.2 206" fill="none" stroke="#d43aa6" stroke-width="2.6" stroke-linecap="round" stroke-linejoin="round"/>
<path d="M1646.9 197.7L1647.2 197.7L1647.6 197.7L1647.9 197.6L1648.2 197.5L1648.5 197.2L1648.8 197L1649.1 196.6L1649.4 196.2L1649.7 195.8L1650 195.3L1650.2 194.7L1650.5 194.2L1650.8 193.6L1651.1 193L1651.3 192.3L1651.6 191.7L1651.9 191.1L1652.2 190.4L1652.4 189.8L1652.7 189.2L1653 188.6L1653.3 188.1L1653.6 187.6L1653.9 187.2L1654.2 186.8L1654.4 186.4L1654.7 186.1L1655.1 185.9L1655.4 185.8L1655.7 185.7L1656 185.6L1656.3 185.7M1667.8 203.2L1668.1 203.3L1668.4 203.3L1668.8 203.2L1669.1 203L1669.4 202.8L1669.7 202.5L1670 202.2L1670.3 201.8L1670.5 201.3L1670.8 200.8L1671.1 200.3L1671.4 199.7L1671.7 199.1L1671.9 198.5L1672.2 197.9L1672.5 197.2L1672.8 196.6L1673 196L1673.3 195.4L1673.6 194.8L1673.9 194.2L1674.2 193.7L1674.4 193.2L1674.7 192.7L1675 192.3L1675.3 192L1675.6 191.7L1675.9 191.5L1676.2 191.3L1676.5 191.2L1676.9 191.2L1677.2 191.2M1657.4 200.5L1657.7 200.5L1658 200.5L1658.3 200.4L1658.6 200.2L1658.9 200L1659.2 199.7L1659.5 199.4L1659.8 199L1660.1 198.5L1660.4 198L1660.7 197.5L1661 196.9L1661.2 196.3L1661.5 195.7L1661.8 195.1L1662.1 194.5L1662.3 193.8L1662.6 193.2L1662.9 192.6L1663.2 192L1663.4 191.4L1663.7 190.9L1664 190.4L1664.3 189.9L1664.6 189.5L1664.9 189.2L1665.2 188.9L1665.5 188.7L1665.8 188.5L1666.1 188.4L1666.4 188.4L1666.8 188.5M1678.2 206L1678.6 206.1L1678.9 206L1679.2 205.9L1679.5 205.8L1679.8 205.6L1680.1 205.3L1680.4 204.9L1680.7 204.5L1681 204.1L1681.3 203.6L1681.6 203L1681.8 202.5L1682.1 201.9L1682.4 201.2L1682.7 200.6L1683 200L1683.2 199.3L1683.5 198.7L1683.8 198.1L1684.1 197.5L1684.3 196.9L1684.6 196.4L1684.9 195.9L1685.2 195.4L1685.5 195L1685.8 194.7L1686.1 194.4" fill="none" stroke="#9a1272" stroke-width="2.6" stroke-linecap="round" stroke-linejoin="round"/>
<path d="M1685.9 206.6L1688.8 195.8M1688.2 207.2L1691.1 196.4M1690.5 207.8L1693.4 197M1692.9 208.4L1695.7 197.6M1695.2 209.1L1698 198.2M1697.5 209.7L1700.4 198.8M1699.8 210.3L1702.7 199.5M1702.1 210.9L1705 200.1M1704.4 211.5L1707.3 200.7M1706.8 212.1L1709.6 201.3M1709.1 212.8L1712 201.9M1711.4 213.4L1714.3 202.5M1713.7 214L1716.6 203.2M1716 214.6L1718.9 203.8M1718.4 215.2L1721.2 204.4M1720.7 215.8L1723.6 205M1723 216.5L1725.9 205.6M1725.3 217.1L1728.2 206.2M1727.6 217.7L1730.5 206.9M1730 218.3L1732.8 207.5" stroke="#1ea2d6" stroke-width="1.1" fill="none"/>
<path d="M1687 207.5L1687.4 208L1687.9 208.4L1688.3 208.6L1688.7 208.8M1698.1 196.8L1698.4 196.9L1698.7 197.1L1699.1 197.4L1699.4 197.7L1699.8 198.1L1700.1 198.6L1700.5 199.1L1700.8 199.6L1701.2 200.3L1701.6 200.9L1701.9 201.6L1702.3 202.4L1702.7 203.2L1703.1 203.9L1703.4 204.7L1703.8 205.6L1704.2 206.4L1704.6 207.2L1704.9 208L1705.3 208.7L1705.7 209.5L1706.1 210.2L1706.4 210.8L1706.8 211.5L1707.1 212L1707.5 212.6L1707.9 213L1708.2 213.4L1708.5 213.7L1708.9 214L1709.2 214.2L1709.5 214.3M1718.9 202.3L1719.3 202.5L1719.6 202.7L1719.9 202.9L1720.3 203.2L1720.6 203.6L1721 204.1L1721.3 204.6L1721.7 205.2L1722.1 205.8L1722.4 206.5L1722.8 207.2L1723.2 207.9L1723.6 208.7L1723.9 209.5L1724.3 210.3L1724.7 211.1L1725.1 211.9L1725.4 212.7L1725.8 213.5L1726.2 214.3L1726.6 215L1726.9 215.7L1727.3 216.4L1727.7 217L1728 217.6L1728.4 218.1L1728.7 218.6L1729.1 219L1729.4 219.3L1729.8 219.6L1730.1 219.7L1730.4 219.9M1687.6 194L1688 194.1L1688.3 194.3L1688.6 194.6L1689 194.9L1689.3 195.3L1689.7 195.8L1690 196.3L1690.4 196.9L1690.8 197.5L1691.1 198.2L1691.5 198.9L1691.9 199.6L1692.2 200.4L1692.6 201.2L1693 202L1693.4 202.8L1693.7 203.6L1694.1 204.4L1694.5 205.2L1694.9 206L1695.2 206.7L1695.6 207.4L1696 208.1L1696.3 208.7L1696.7 209.3L1697.1 209.8L1697.4 210.2L1697.8 210.6L1698.1 211L1698.4 211.2L1698.8 211.4L1699.1 211.6M1708.5 199.6L1708.8 199.7L1709.2 199.9L1709.5 200.1L1709.8 200.5L1710.2 200.9L1710.5 201.3L1710.9 201.8L1711.3 202.4L1711.6 203L1712 203.7L1712.4 204.4L1712.7 205.2L1713.1 205.9L1713.5 206.7L1713.9 207.5L1714.2 208.3L1714.6 209.1L1715 209.9L1715.4 210.7L1715.7 211.5L1716.1 212.2L1716.5 213L1716.9 213.6L1717.2 214.2L1717.6 214.8L1717.9 215.3L1718.3 215.8L1718.6 216.2L1719 216.5L1719.3 216.8L1719.7 217L1720 217.1M1729.4 205.1L1729.7 205.2L1730.1 205.5L1730.4 205.7L1730.8 206.1L1731.2 206.5L1731.6 207L1731.9 207.6L1732.3 208.3L1732.7 208.9L1733.1 209.7L1733.5 210.4" fill="none" stroke="#1ea2d6" stroke-width="2.6" stroke-linecap="round" stroke-linejoin="round"/>
<path d="M1688.7 208.8L1689 208.8L1689.3 208.8L1689.6 208.7L1689.9 208.6L1690.2 208.3L1690.5 208.1L1690.8 207.7L1691.1 207.3L1691.4 206.9L1691.7 206.4L1692 205.8L1692.3 205.3L1692.5 204.7L1692.8 204L1693.1 203.4L1693.4 202.8L1693.6 202.1L1693.9 201.5L1694.2 200.9L1694.5 200.3L1694.8 199.7L1695 199.2L1695.3 198.7L1695.6 198.3L1695.9 197.9L1696.2 197.5L1696.5 197.2L1696.8 197L1697.1 196.8L1697.4 196.8L1697.7 196.7L1698.1 196.8M1709.5 214.3L1709.9 214.4L1710.2 214.4L1710.5 214.3L1710.8 214.1L1711.1 213.9L1711.4 213.6L1711.7 213.3L1712 212.9L1712.3 212.4L1712.6 211.9L1712.9 211.4L1713.1 210.8L1713.4 210.2L1713.7 209.6L1714 209L1714.2 208.3L1714.5 207.7L1714.8 207.1L1715.1 206.4L1715.4 205.9L1715.6 205.3L1715.9 204.7L1716.2 204.3L1716.5 203.8L1716.8 203.4L1717.1 203.1L1717.4 202.8L1717.7 202.6L1718 202.4L1718.3 202.3L1718.6 202.3L1718.9 202.3M1730.4 219.9L1730.8 219.9L1731.1 219.9L1731.4 219.8L1731.8 219.6L1732.1 219.4L1732.4 219L1732.7 218.6L1733 218.2L1733.3 217.7L1733.6 217.1L1733.9 216.6M1686.1 194.4L1686.5 194.2L1686.8 194L1687.2 194L1687.6 194M1699.1 211.6L1699.4 211.6L1699.8 211.6L1700.1 211.5L1700.4 211.3L1700.7 211.1L1701 210.8L1701.3 210.5L1701.6 210.1L1701.9 209.6L1702.1 209.1L1702.4 208.6L1702.7 208L1703 207.4L1703.3 206.8L1703.5 206.2L1703.8 205.6L1704.1 204.9L1704.4 204.3L1704.6 203.7L1704.9 203.1L1705.2 202.5L1705.5 202L1705.8 201.5L1706 201L1706.3 200.6L1706.6 200.3L1706.9 200L1707.2 199.8L1707.5 199.6L1707.9 199.5L1708.2 199.5L1708.5 199.6M1720 217.1L1720.3 217.1L1720.6 217.1L1720.9 217L1721.3 216.9L1721.6 216.7L1721.9 216.4L1722.2 216L1722.4 215.6L1722.7 215.2L1723 214.7L1723.3 214.1L1723.6 213.6L1723.9 213L1724.1 212.4L1724.4 211.7L1724.7 211.1L1725 210.5L1725.2 209.8L1725.5 209.2L1725.8 208.6L1726.1 208.1L1726.4 207.5L1726.6 207L1726.9 206.6L1727.2 206.2L1727.5 205.8L1727.8 205.5L1728.1 205.3L1728.4 205.2L1728.7 205.1L1729.1 205.1L1729.4 205.1" fill="none" stroke="#1666ad" stroke-width="2.6" stroke-linecap="round" stroke-linejoin="round"/>
<line x1="1646" y1="192" x2="1642" y2="206" stroke="#c71c96" stroke-width="2"/>
<g transform="translate(1641.1 220.7) rotate(0) scale(0.06861 0.07407) translate(-384 -398)"><path d="M170 230C177.5 212.5 193.3 202.5 210 195C226.7 187.5 250 190.8 270 185C290 179.2 310 163.3 330 160C350 156.7 371.7 160 390 165C408.3 170 418.3 184.2 440 190C461.7 195.8 496.7 193.3 520 200C543.3 206.7 563.3 215 580 230C596.7 245 608.3 270 620 290C631.7 310 642.5 330 650 350C657.5 370 665.8 390 665 410C664.2 430 655.8 450 645 470C634.2 490 617.5 510 600 530C582.5 550 561.7 573.3 540 590C518.3 606.7 493.3 621.7 470 630C446.7 638.3 423.3 641.7 400 640C376.7 638.3 351.7 628.3 330 620C308.3 611.7 291.7 600 270 590C248.3 580 221.7 573.3 200 560C178.3 546.7 153.3 528.3 140 510C126.7 491.7 125.8 468.3 120 450C114.2 431.7 103.3 416.7 105 400C106.7 383.3 120 366.7 130 350C140 333.3 158.3 320 165 300C171.7 280 162.5 247.5 170 230Z" fill="#c71c96" stroke="#8a1068" stroke-width="29.1" stroke-linejoin="round"/><path d="M280 450C278.3 435 266.7 381.7 270 360C273.3 338.3 285 331.7 300 320C315 308.3 340 298.3 360 290C380 281.7 400 275 420 270C440 265 456.7 258.3 480 260C503.3 261.7 546.7 276.7 560 280M320 540C330 546.7 356.7 572.5 380 580C403.3 587.5 446.7 584.2 460 585M600 300C606.7 313.3 635 353.3 640 380C645 406.7 631.7 446.7 630 460" fill="none" stroke="#8a1068" stroke-width="33.5" stroke-linecap="round"/></g>
<path d="M1747.8 124.6L1748.1 125L1748.4 125.3L1748.8 125.7L1749.1 126L1749.4 126.3L1749.7 126.6L1750 126.9L1750.3 127.2L1750.6 127.5L1750.9 127.7L1751.2 127.9L1751.5 128.1L1751.8 128.3L1752.1 128.4L1752.3 128.5L1752.6 128.6L1752.9 128.6L1753.1 128.7L1753.4 128.6L1753.6 128.6L1753.9 128.5L1754.1 128.3L1754.3 128.2L1754.5 128L1754.7 127.8L1754.9 127.5L1755.1 127.3L1755.3 127L1755.5 126.6L1755.7 126.3L1755.9 125.9L1756.1 125.5L1756.2 125.1L1756.4 124.7L1756.6 124.3L1756.8 123.8L1756.9 123.4L1757.1 122.9L1757.3 122.5L1757.4 122L1757.6 121.6L1757.8 121.1L1757.9 120.7L1758.1 120.3L1758.3 119.9L1758.5 119.5L1758.7 119.2L1758.8 118.8L1759 118.5L1759.2 118.2L1759.4 118L1759.7 117.7L1759.9 117.5L1760.1 117.4L1760.3 117.2L1760.5 117.1L1760.8 117L1761 117L1761.3 117L1761.5 117L1761.8 117.1L1762.1 117.2L1762.4 117.3L1762.6 117.4L1762.9 117.6L1763.2 117.8L1763.5 118L1763.8 118.3L1764.1 118.6L1764.4 118.9L1764.7 119.2L1765.1 119.5L1765.4 119.8L1765.7 120.2L1766 120.5L1766.3 120.9L1766.7 121.3L1767 121.6L1767.3 122L1767.6 122.3L1767.9 122.6L1768.2 123L1768.6 123.3L1768.9 123.6L1769.2 123.8L1769.5 124.1L1769.8 124.3L1770.1 124.5L1770.3 124.7L1770.6 124.8L1770.9 124.9L1771.2 125L1771.4 125.1L1771.7 125.1L1771.9 125.1L1772.2 125L1772.4 125L1772.7 124.8L1772.9 124.7L1773.1 124.5L1773.3 124.3L1773.5 124.1L1773.7 123.8L1773.9 123.5L1774.1 123.2L1774.3 122.9L1774.5 122.5L1774.7 122.1L1774.8 121.7L1775 121.3L1775.2 120.9L1775.4 120.4L1775.5 120L1775.7 119.5L1775.9 119.1L1776 118.6L1776.2 118.2L1776.4 117.8L1776.5 117.3L1776.7 116.9L1776.9 116.5L1777.1 116.1L1777.2 115.8L1777.4 115.4L1777.6 115.1L1777.8 114.8L1778 114.5L1778.2 114.3L1778.4 114.1L1778.7 113.9L1778.9 113.7L1779.1 113.6L1779.3 113.5L1779.6 113.5L1779.8 113.4L1780.1 113.4L1780.4 113.5L1780.6 113.6L1780.9 113.7L1781.2 113.8L1781.5 114L1781.8 114.2L1782 114.4L1782.3 114.6L1782.7 114.9L1783 115.2L1783.3 115.5L1783.6 115.8L1783.9 116.1L1784.2 116.5L1784.5 116.8L1784.9 117.2L1785.2 117.5L1785.5 117.9L1785.8 118.3L1786.1 118.6L1786.5 118.9L1786.8 119.3L1787.1 119.6L1787.4 119.9L1787.7 120.2L1788 120.4L1788.3 120.7L1788.6 120.9L1788.9 121.1L1789.2 121.2L1789.4 121.3L1789.7 121.4L1790 121.5L1790.2 121.5L1790.5 121.5L1790.7 121.5L1791 121.4L1791.2 121.3L1791.4 121.2L1791.7 121L1791.9 120.9L1792.1 120.6L1792.3 120.4L1792.5 120.1L1792.7 119.8L1792.9 119.5L1793.1 119.1L1793.3 118.7L1793.4 118.3L1793.6 117.9L1793.8 117.5L1793.9 117.1L1794.1 116.6L1794.3 116.2L1794.5 115.7L1794.6 115.3L1794.8 114.8L1795 114.4L1795.1 114L1795.3 113.5L1795.5 113.1L1795.7 112.7L1795.8 112.3L1796 112L1796.2 111.7L1796.4 111.3L1796.6 111.1L1796.8 110.8L1797 110.6L1797.2 110.4L1797.5 110.2L1797.7 110.1L1797.9 110L1798.2 109.9L1798.4 109.9L1798.7 109.9L1798.9 109.9L1799.2 110L1799.4 110.1L1799.7 110.2L1800 110.3" fill="none" stroke="#1c9fd3" stroke-width="2.1" stroke-linecap="round" stroke-linejoin="round"/>
<path d="M1749.7 126.7l-0.6 -2.9M1752.4 128.6l-0.6 -2.9M1754.6 127.9l-0.6 -2.9M1756.4 124.8l-0.6 -2.9M1757.9 120.7l0.6 2.9M1759.7 117.7l0.6 2.9M1761.9 117.1l0.6 2.9M1764.7 119.1l0.6 2.9M1767.6 122.3l-0.6 -2.9M1770.4 124.7l-0.6 -2.9M1772.8 124.8l-0.6 -2.9M1774.6 122.2l-0.6 -2.9M1777.9 114.7l0.6 2.9M1780 113.4l0.6 2.9M1782.6 114.8l0.6 2.9M1788.4 120.7l-0.6 -2.9M1790.9 121.5l-0.6 -2.9M1792.8 119.5l-0.6 -2.9M1796.1 111.9l0.6 2.9M1798 109.9l0.6 2.9" fill="none" stroke="#1c9fd3" stroke-width="1.0"/>
<path d="M1735.2 96Q1750.5 166.2 1733.7 239.2" fill="none" stroke="#acacac" stroke-width="14.1"/>
<path d="M1735.2 96Q1750.5 166.2 1733.7 239.2" fill="none" stroke="#c3c3c3" stroke-width="12.3"/>
<path d="M1735.2 96Q1750.5 166.2 1733.7 239.2" fill="none" stroke="#939393" stroke-width="12.5" stroke-dasharray="1.0 3.5" stroke-dashoffset="-2"/>
<path d="M1735.2 96Q1750.5 166.2 1733.7 239.2" fill="none" stroke="#a9a9a9" stroke-width="13.5" stroke-opacity="0.0"/>
<ellipse cx="1735.2" cy="96" rx="1.6" ry="6.8" fill="#8a8a8a" transform="rotate(77.9 1735.2 96)"/>
<path d="M1853.2 113L1853.5 113.4L1853.8 113.7L1854.2 114.1L1854.5 114.4L1854.8 114.7L1855.1 115L1855.4 115.3L1855.7 115.6L1856 115.9L1856.3 116.1L1856.6 116.3L1856.9 116.5L1857.2 116.7L1857.5 116.8L1857.7 116.9L1858 117L1858.3 117L1858.5 117L1858.8 117L1859 117L1859.2 116.9L1859.5 116.8L1859.7 116.6L1859.9 116.4L1860.1 116.2L1860.3 116L1860.5 115.7L1860.7 115.4L1860.9 115.1L1861.1 114.7L1861.3 114.3L1861.4 114L1861.6 113.6L1861.8 113.1L1862 112.7L1862.1 112.3L1862.3 111.8L1862.5 111.4L1862.6 110.9L1862.8 110.5L1863 110L1863.1 109.6L1863.3 109.2L1863.5 108.8L1863.6 108.4L1863.8 108L1864 107.6L1864.2 107.3L1864.4 107L1864.6 106.7L1864.8 106.4L1865 106.2L1865.2 106L1865.4 105.8L1865.6 105.6L1865.9 105.5L1866.1 105.4L1866.4 105.4L1866.6 105.4L1866.9 105.4L1867.1 105.4L1867.4 105.5L1867.7 105.6L1867.9 105.8L1868.2 105.9L1868.5 106.1L1868.8 106.3L1869.1 106.6L1869.4 106.9L1869.7 107.1L1870 107.4L1870.3 107.8L1870.7 108.1L1871 108.4L1871.3 108.8L1871.6 109.1L1871.9 109.5L1872.2 109.8L1872.6 110.2L1872.9 110.5L1873.2 110.9L1873.5 111.2L1873.8 111.5L1874.1 111.8L1874.4 112.1L1874.7 112.3L1875 112.6L1875.3 112.8L1875.6 113L1875.9 113.1L1876.2 113.3L1876.5 113.3L1876.7 113.4L1877 113.4L1877.2 113.5L1877.5 113.4L1877.7 113.4L1877.9 113.3L1878.2 113.1L1878.4 113L1878.6 112.8L1878.8 112.6L1879 112.3L1879.2 112L1879.4 111.7L1879.6 111.4L1879.8 111L1880 110.7L1880.1 110.3L1880.3 109.9L1880.5 109.4L1880.7 109L1880.8 108.6L1881 108.1L1881.2 107.7L1881.3 107.2L1881.5 106.8L1881.7 106.4L1881.8 105.9L1882 105.5L1882.2 105.1L1882.3 104.7L1882.5 104.3L1882.7 104L1882.9 103.6L1883.1 103.3L1883.3 103L1883.5 102.8L1883.7 102.5L1883.9 102.3L1884.1 102.1L1884.3 102L1884.6 101.9L1884.8 101.8L1885.1 101.8L1885.3 101.8L1885.6 101.8L1885.8 101.9L1886.1 101.9L1886.4 102.1L1886.7 102.2L1886.9 102.4L1887.2 102.6L1887.5 102.8L1887.8 103.1L1888.1 103.3L1888.4 103.6L1888.8 103.9L1889.1 104.2L1889.4 104.6L1889.7 104.9L1890 105.3L1890.3 105.6L1890.7 106L1891 106.3L1891.3 106.7L1891.6 107L1891.9 107.4L1892.2 107.7L1892.6 108L1892.9 108.3L1893.2 108.6L1893.5 108.8L1893.8 109L1894.1 109.2L1894.3 109.4L1894.6 109.6L1894.9 109.7L1895.2 109.8L1895.4 109.8L1895.7 109.9L1895.9 109.9L1896.2 109.8L1896.4 109.7L1896.7 109.6L1896.9 109.5L1897.1 109.3L1897.3 109.1L1897.5 108.9L1897.7 108.7L1897.9 108.4L1898.1 108.1L1898.3 107.7L1898.5 107.4L1898.7 107L1898.8 106.6" fill="none" stroke="#1c9fd3" stroke-width="2.1" stroke-linecap="round" stroke-linejoin="round"/>
<path d="M1855.1 115.1l-0.6 -2.9M1857.8 117l-0.6 -2.9M1860 116.3l-0.6 -2.9M1861.8 113.2l-0.6 -2.9M1863.3 109.1l0.6 2.9M1865.1 106l0.6 2.9M1867.3 105.5l0.6 2.9M1870.1 107.5l0.6 2.9M1873 110.7l-0.6 -2.9M1875.8 113.1l-0.6 -2.9M1878.2 113.1l-0.6 -2.9M1880 110.6l-0.6 -2.9M1883.3 103l0.6 2.9M1885.4 101.8l0.6 2.9M1888 103.2l0.6 2.9M1893.8 109l-0.6 -2.9M1896.3 109.8l-0.6 -2.9" fill="none" stroke="#1c9fd3" stroke-width="1.0"/>
<path d="M1849.7 182.9L1850.1 182.6L1850.5 182.4L1850.9 182.1L1851.3 181.8L1851.6 181.6L1852 181.3L1852.4 181.1L1852.7 180.9L1853.1 180.7L1853.4 180.6L1853.8 180.4L1854.1 180.3L1854.4 180.2L1854.7 180.1L1855 180.1L1855.3 180.1L1855.5 180.1L1855.8 180.1L1856 180.2L1856.2 180.3L1856.5 180.5L1856.6 180.6L1856.8 180.8L1857 181.1L1857.2 181.3L1857.3 181.6L1857.4 181.9L1857.6 182.3L1857.7 182.6L1857.8 183L1857.9 183.4L1858 183.8L1858 184.3L1858.1 184.7L1858.2 185.2L1858.2 185.6L1858.3 186.1L1858.4 186.6L1858.4 187L1858.5 187.5L1858.6 188L1858.6 188.4L1858.7 188.9L1858.8 189.3L1858.8 189.8L1858.9 190.2L1859 190.6L1859.1 190.9L1859.3 191.3L1859.4 191.6L1859.5 191.9L1859.7 192.2L1859.8 192.5L1860 192.7L1860.2 192.9L1860.4 193L1860.6 193.2L1860.8 193.3L1861.1 193.3L1861.3 193.4L1861.6 193.4L1861.9 193.4L1862.1 193.3L1862.4 193.3L1862.8 193.2L1863.1 193L1863.4 192.9L1863.8 192.7L1864.1 192.5L1864.5 192.3L1864.9 192.1L1865.2 191.8L1865.6 191.6L1866 191.3L1866.4 191.1L1866.8 190.8L1867.2 190.5L1867.6 190.2L1868 190L1868.3 189.7L1868.7 189.4L1869.1 189.2L1869.5 189L1869.9 188.7L1870.2 188.5L1870.6 188.4L1870.9 188.2L1871.2 188.1L1871.6 187.9L1871.9 187.9L1872.2 187.8L1872.4 187.8L1872.7 187.8L1873 187.8L1873.2 187.8L1873.5 187.9L1873.7 188L1873.9 188.2L1874.1 188.4L1874.3 188.6L1874.4 188.8L1874.6 189.1L1874.7 189.4L1874.8 189.7L1875 190L1875.1 190.4L1875.2 190.8L1875.3 191.2L1875.4 191.6L1875.4 192L1875.5 192.5L1875.6 192.9L1875.6 193.4L1875.7 193.9L1875.8 194.4L1875.8 194.8L1875.9 195.3L1876 195.8L1876 196.2L1876.1 196.7L1876.2 197.1L1876.3 197.5L1876.3 197.9L1876.4 198.3L1876.5 198.7L1876.7 199.1L1876.8 199.4L1876.9 199.7L1877.1 199.9L1877.2 200.2L1877.4 200.4L1877.6 200.6L1877.8 200.7L1878 200.9L1878.3 201L1878.5 201L1878.8 201.1L1879 201.1L1879.3 201L1879.6 201L1879.9 200.9L1880.2 200.8L1880.6 200.7L1880.9 200.5L1881.2 200.3L1881.6 200.1L1882 199.9L1882.3 199.7L1882.7 199.4L1883.1 199.2L1883.5 198.9L1883.9 198.7L1884.3 198.4L1884.7 198.1L1885 197.8L1885.4 197.6L1885.8 197.3L1886.2 197.1L1886.6 196.8L1887 196.6L1887.3 196.4L1887.7 196.2L1888 196L1888.4 195.8L1888.7 195.7L1889 195.6L1889.3 195.5L1889.6 195.5L1889.9 195.4L1890.2 195.4L1890.4 195.5L1890.7 195.5L1890.9 195.6L1891.1 195.8L1891.3 195.9L1891.5 196.1L1891.7 196.3L1891.8 196.6L1892 196.8L1892.1 197.1L1892.3 197.4L1892.4 197.8L1892.5 198.2L1892.6 198.6L1892.7 199L1892.8 199.4L1892.8 199.8L1892.9 200.3L1893 200.7" fill="none" stroke="#1c9fd3" stroke-width="2.1" stroke-linecap="round" stroke-linejoin="round"/>
<path d="M1852 181.3l-1.2 2.7M1855.1 180.1l-1.2 2.7M1857.1 181.2l-1.2 2.7M1858.1 184.7l-1.2 2.7M1858.7 189l1.2 -2.7M1859.7 192.3l1.2 -2.7M1861.8 193.4l1.2 -2.7M1864.9 192.1l1.2 -2.7M1868.5 189.6l-1.2 2.7M1871.8 187.9l-1.2 2.7M1874.1 188.4l-1.2 2.7M1875.3 191.3l-1.2 2.7M1876.8 199.3l1.2 -2.7M1878.5 201l1.2 -2.7M1881.4 200.3l1.2 -2.7M1888.4 195.8l-1.2 2.7M1891 195.7l-1.2 2.7M1892.4 198l-1.2 2.7" fill="none" stroke="#1c9fd3" stroke-width="1.0"/>
<path d="M1896.9 77Q1913 150.2 1894 220.2" fill="none" stroke="#acacac" stroke-width="14.1"/>
<path d="M1896.9 77Q1913 150.2 1894 220.2" fill="none" stroke="#c3c3c3" stroke-width="12.3"/>
<path d="M1896.9 77Q1913 150.2 1894 220.2" fill="none" stroke="#939393" stroke-width="12.5" stroke-dasharray="1.0 3.5" stroke-dashoffset="-2"/>
<path d="M1896.9 77Q1913 150.2 1894 220.2" fill="none" stroke="#a9a9a9" stroke-width="13.5" stroke-opacity="0.0"/>
<ellipse cx="1896.9" cy="77" rx="1.6" ry="6.8" fill="#8a8a8a" transform="rotate(77.9 1896.9 77)"/>
<path d="M1909.2 125.5L1908.4 114.4M1911.6 125.4L1910.8 114.2M1914 125.2L1913.2 114M1916.4 125L1915.6 113.8M1918.8 124.8L1918 113.7M1921.2 124.7L1920.4 113.5M1923.6 124.5L1922.8 113.3M1926 124.3L1925.2 113.2M1928.3 124.2L1927.6 113M1930.7 124L1929.9 112.8M1933.1 123.8L1932.3 112.6M1935.5 123.6L1934.7 112.5M1937.9 123.5L1937.1 112.3M1940.3 123.3L1939.5 112.1M1942.7 123.1L1941.9 112M1945.1 123L1944.3 111.8M1947.5 122.8L1946.7 111.6M1949.9 122.6L1949.1 111.5M1952.3 122.5L1951.5 111.3M1954.7 122.3L1953.9 111.1" stroke="#1ea2d6" stroke-width="1.1" fill="none"/>
<path d="M1915.9 112.4L1916.2 112.4L1916.6 112.5L1917 112.6L1917.4 112.8L1917.9 113.1L1918.4 113.4L1918.9 113.8L1919.4 114.2L1920 114.7L1920.5 115.2L1921.1 115.8L1921.7 116.3L1922.3 116.9L1922.9 117.6L1923.5 118.2L1924.2 118.8L1924.8 119.5L1925.4 120.1L1926 120.8L1926.6 121.4L1927.2 121.9L1927.8 122.5L1928.4 123L1928.9 123.5L1929.4 123.9L1929.9 124.3L1930.4 124.6L1930.9 124.8L1931.3 125.1L1931.7 125.2L1932.1 125.3L1932.4 125.3M1937.4 110.9L1937.8 110.9L1938.2 111L1938.6 111.1L1939 111.3L1939.4 111.6L1939.9 111.9L1940.4 112.3L1941 112.7L1941.5 113.2L1942.1 113.7L1942.7 114.2L1943.3 114.8L1943.9 115.4L1944.5 116L1945.1 116.7L1945.7 117.3L1946.3 118L1946.9 118.6L1947.6 119.2L1948.2 119.8L1948.8 120.4L1949.3 120.9L1949.9 121.5L1950.4 121.9L1951 122.4L1951.5 122.7L1952 123L1952.4 123.3L1952.8 123.5L1953.3 123.7L1953.6 123.7L1954 123.7M1905.1 113.2L1905.5 113.2L1905.8 113.3L1906.2 113.4L1906.7 113.6L1907.1 113.9L1907.6 114.2L1908.1 114.6L1908.6 115L1909.2 115.5L1909.8 116L1910.3 116.5L1910.9 117.1L1911.5 117.7L1912.1 118.3L1912.8 119L1913.4 119.6L1914 120.3L1914.6 120.9L1915.2 121.5L1915.8 122.1L1916.4 122.7L1917 123.3L1917.6 123.8L1918.1 124.2L1918.7 124.7L1919.2 125L1919.6 125.4L1920.1 125.6L1920.5 125.8L1920.9 126L1921.3 126L1921.7 126M1926.7 111.6L1927 111.7L1927.4 111.7L1927.8 111.9L1928.2 112.1L1928.7 112.3L1929.2 112.7L1929.7 113L1930.2 113.5L1930.7 113.9L1931.3 114.4L1931.9 115L1932.5 115.6L1933.1 116.2L1933.7 116.8L1934.3 117.4L1934.9 118.1L1935.6 118.7L1936.2 119.4L1936.8 120L1937.4 120.6L1938 121.2L1938.6 121.7L1939.1 122.2L1939.7 122.7L1940.2 123.1L1940.7 123.5L1941.2 123.8L1941.6 124.1L1942.1 124.3L1942.5 124.4L1942.9 124.5L1943.2 124.5M1948.2 110.1L1948.5 110.1L1948.9 110.2L1949.3 110.3L1949.8 110.5L1950.2 110.8L1950.7 111.1L1951.2 111.5L1951.7 111.9L1952.3 112.4L1952.8 112.9L1953.4 113.4L1954 114L1954.6 114.6L1955.2 115.2L1955.8 115.9L1956.5 116.5L1957.1 117.2L1957.7 117.8" fill="none" stroke="#1ea2d6" stroke-width="2.6" stroke-linecap="round" stroke-linejoin="round"/>
<path d="M1910.9 126.8L1911.2 126.8L1911.5 126.6L1911.8 126.4L1912 126.2L1912.2 125.9L1912.4 125.5L1912.6 125.1L1912.7 124.6L1912.9 124.1L1913 123.5L1913.1 122.9L1913.1 122.3L1913.2 121.7L1913.3 121L1913.3 120.3L1913.4 119.6L1913.4 118.9L1913.5 118.2L1913.6 117.6L1913.6 116.9L1913.7 116.3L1913.8 115.7L1913.9 115.1L1914 114.6L1914.2 114.1L1914.3 113.7L1914.5 113.3L1914.8 113L1915 112.8L1915.3 112.6L1915.6 112.5L1915.9 112.4M1932.4 125.3L1932.8 125.2L1933.1 125.1L1933.3 124.9L1933.6 124.7L1933.8 124.3L1934 124L1934.1 123.6L1934.3 123.1L1934.4 122.6L1934.5 122L1934.6 121.4L1934.7 120.8L1934.8 120.1L1934.8 119.5L1934.9 118.8L1934.9 118.1L1935 117.4L1935 116.7L1935.1 116L1935.2 115.4L1935.3 114.7L1935.3 114.1L1935.5 113.6L1935.6 113.1L1935.7 112.6L1935.9 112.2L1936.1 111.8L1936.3 111.5L1936.5 111.2L1936.8 111.1L1937.1 110.9L1937.4 110.9M1954 123.7L1954.3 123.7L1954.6 123.6L1954.9 123.4L1955.1 123.1L1955.3 122.8L1955.5 122.4L1955.7 122L1955.8 121.6L1956 121L1956.1 120.5L1956.2 119.9L1956.2 119.3L1956.3 118.6L1956.4 117.9L1956.4 117.2L1956.5 116.6L1956.5 115.9L1956.6 115.2M1921.7 126L1922 126L1922.3 125.9L1922.6 125.7L1922.8 125.4L1923 125.1L1923.2 124.7L1923.4 124.3L1923.5 123.9L1923.6 123.3L1923.7 122.8L1923.8 122.2L1923.9 121.5L1924 120.9L1924 120.2L1924.1 119.5L1924.2 118.8L1924.2 118.2L1924.3 117.5L1924.3 116.8L1924.4 116.1L1924.5 115.5L1924.6 114.9L1924.7 114.4L1924.8 113.8L1925 113.4L1925.1 112.9L1925.3 112.6L1925.5 112.3L1925.8 112L1926 111.8L1926.3 111.7L1926.7 111.6M1943.2 124.5L1943.5 124.4L1943.8 124.3L1944.1 124.1L1944.3 123.9L1944.6 123.6L1944.7 123.2L1944.9 122.8L1945.1 122.3L1945.2 121.8L1945.3 121.2L1945.4 120.6L1945.5 120L1945.5 119.4L1945.6 118.7L1945.7 118L1945.7 117.3L1945.8 116.6L1945.8 115.9L1945.9 115.3L1945.9 114.6L1946 114L1946.1 113.4L1946.2 112.8L1946.4 112.3L1946.5 111.8L1946.7 111.4L1946.9 111L1947.1 110.7L1947.3 110.5L1947.6 110.3L1947.9 110.2L1948.2 110.1" fill="none" stroke="#1666ad" stroke-width="2.6" stroke-linecap="round" stroke-linejoin="round"/>
<path d="M1958.3 122L1957.5 110.8M1960.7 121.8L1959.9 110.7M1963.1 121.7L1962.3 110.5M1965.5 121.5L1964.7 110.3M1967.9 121.3L1967.1 110.2M1970.3 121.2L1969.5 110M1972.7 121L1971.9 109.8M1975.1 120.8L1974.3 109.7M1977.5 120.7L1976.7 109.5M1979.9 120.5L1979.1 109.3M1982.3 120.3L1981.5 109.1M1984.7 120.1L1983.9 109M1987.1 120L1986.3 108.8M1989.5 119.8L1988.7 108.6M1991.9 119.6L1991.1 108.5M1994.2 119.5L1993.4 108.3M1996.6 119.3L1995.8 108.1" stroke="#84dccf" stroke-width="1.1" fill="none"/>
<path d="M1959 109.3L1959.3 109.4L1959.7 109.4L1960.1 109.6L1960.5 109.8L1961 110L1961.5 110.3L1962 110.7L1962.5 111.1L1963.1 111.6L1963.6 112.1L1964.2 112.7L1964.8 113.3L1965.4 113.9L1966 114.5L1966.6 115.1L1967.2 115.8L1967.9 116.4L1968.5 117L1969.1 117.7L1969.7 118.3L1970.3 118.9L1970.9 119.4L1971.4 119.9L1972 120.4L1972.5 120.8L1973 121.2L1973.5 121.5L1974 121.8L1974.4 122L1974.8 122.1L1975.2 122.2L1975.5 122.2M1980.5 107.8L1980.9 107.8L1981.2 107.9L1981.6 108L1982.1 108.2L1982.5 108.5L1983 108.8L1983.5 109.2L1984.1 109.6L1984.6 110.1L1985.2 110.6L1985.7 111.1L1986.3 111.7L1986.9 112.3L1987.6 112.9L1988.2 113.6L1988.8 114.2L1989.4 114.9L1990 115.5L1990.6 116.1L1991.2 116.7L1991.8 117.3L1992.4 117.9L1993 118.4L1993.5 118.9L1994.1 119.3L1994.6 119.7L1995 120L1995.5 120.2L1995.9 120.4L1996.3 120.6L1996.7 120.6L1997.1 120.7M1957.7 117.8L1958.3 118.4L1958.9 119L1959.5 119.6L1960.1 120.2L1960.7 120.7L1961.2 121.2L1961.7 121.6L1962.2 122L1962.7 122.3L1963.2 122.5L1963.6 122.7L1964 122.9L1964.4 123L1964.8 123M1969.7 108.6L1970.1 108.6L1970.5 108.7L1970.9 108.8L1971.3 109L1971.8 109.3L1972.3 109.6L1972.8 109.9L1973.3 110.4L1973.8 110.8L1974.4 111.4L1975 111.9L1975.6 112.5L1976.2 113.1L1976.8 113.7L1977.4 114.4L1978 115L1978.6 115.6L1979.3 116.3L1979.9 116.9L1980.5 117.5L1981.1 118.1L1981.6 118.6L1982.2 119.2L1982.8 119.6L1983.3 120L1983.8 120.4L1984.3 120.7L1984.7 121L1985.2 121.2L1985.6 121.3L1985.9 121.4L1986.3 121.4M1991.3 107L1991.6 107L1992 107.1L1992.5 107.3L1992.9 107.5L1993.4 107.8L1993.9 108.1L1994.4 108.5L1994.9 108.9L1995.5 109.4L1996.1 109.9L1996.7 110.5L1997.3 111.1L1997.9 111.7L1998.5 112.4" fill="none" stroke="#84dccf" stroke-width="2.6" stroke-linecap="round" stroke-linejoin="round"/>
<path d="M1956.6 115.2L1956.6 114.5L1956.7 113.9L1956.8 113.2L1956.9 112.6L1957 112.1L1957.1 111.5L1957.3 111.1L1957.4 110.6L1957.6 110.3L1957.8 110L1958.1 109.7L1958.4 109.5L1958.6 109.4L1959 109.3M1975.5 122.2L1975.9 122.1L1976.1 122L1976.4 121.8L1976.7 121.6L1976.9 121.3L1977.1 120.9L1977.2 120.5L1977.4 120L1977.5 119.5L1977.6 118.9L1977.7 118.3L1977.8 117.7L1977.9 117L1977.9 116.4L1978 115.7L1978 115L1978.1 114.3L1978.1 113.6L1978.2 112.9L1978.3 112.3L1978.3 111.7L1978.4 111.1L1978.5 110.5L1978.7 110L1978.8 109.5L1979 109.1L1979.2 108.7L1979.4 108.4L1979.6 108.2L1979.9 108L1980.2 107.9L1980.5 107.8M1997.1 120.7L1997.4 120.6L1997.7 120.5L1998 120.3L1998.2 120L1998.4 119.7L1998.6 119.3L1998.8 118.9L1998.9 118.4L1999.1 117.8L1999.2 117.3L1999.3 116.6L1999.3 116L1999.4 115.3L1999.5 114.6M1964.8 123L1965.1 122.9L1965.4 122.8L1965.6 122.6L1965.9 122.3L1966.1 122L1966.3 121.7L1966.5 121.2L1966.6 120.8L1966.7 120.3L1966.8 119.7L1966.9 119.1L1967 118.5L1967.1 117.8L1967.1 117.1L1967.2 116.5L1967.2 115.8L1967.3 115.1L1967.4 114.4L1967.4 113.7L1967.5 113.1L1967.6 112.4L1967.7 111.8L1967.8 111.3L1967.9 110.8L1968 110.3L1968.2 109.9L1968.4 109.5L1968.6 109.2L1968.9 108.9L1969.1 108.8L1969.4 108.6L1969.7 108.6M1986.3 121.4L1986.6 121.4L1986.9 121.2L1987.2 121.1L1987.4 120.8L1987.6 120.5L1987.8 120.1L1988 119.7L1988.1 119.2L1988.3 118.7L1988.4 118.2L1988.5 117.6L1988.6 116.9L1988.6 116.3L1988.7 115.6L1988.7 114.9L1988.8 114.2L1988.8 113.5L1988.9 112.9L1989 112.2L1989 111.5L1989.1 110.9L1989.2 110.3L1989.3 109.7L1989.4 109.2L1989.6 108.7L1989.8 108.3L1989.9 108L1990.2 107.6L1990.4 107.4L1990.7 107.2L1991 107.1L1991.3 107" fill="none" stroke="#1b8c7a" stroke-width="2.6" stroke-linecap="round" stroke-linejoin="round"/>
<path d="M1905 197.6L1904.6 186.4M1907.4 197.5L1907 186.3M1909.8 197.4L1909.4 186.2M1912.2 197.2L1911.8 186.1M1914.6 197.1L1914.1 186M1917 197L1916.5 185.9M1919.4 196.9L1918.9 185.7M1921.8 196.8L1921.3 185.6M1924.2 196.7L1923.7 185.5M1926.6 196.6L1926.1 185.4M1929 196.5L1928.5 185.3M1931.4 196.4L1930.9 185.2M1933.8 196.3L1933.3 185.1M1936.2 196.2L1935.7 185M1938.6 196.1L1938.1 184.9M1941 196L1940.5 184.8M1943.4 195.9L1942.9 184.7M1945.8 195.8L1945.3 184.6M1948.2 195.7L1947.7 184.5M1950.6 195.6L1950.1 184.4M1953 195.5L1952.5 184.3" stroke="#1ea2d6" stroke-width="1.1" fill="none"/>
<path d="M1912.1 184.6L1912.4 184.7L1912.8 184.7L1913.2 184.9L1913.6 185.1L1914.1 185.4L1914.6 185.7L1915.1 186.1L1915.6 186.5L1916.1 187L1916.7 187.6L1917.2 188.1L1917.8 188.7L1918.4 189.3L1919 190L1919.6 190.6L1920.2 191.3L1920.8 192L1921.4 192.6L1922 193.3L1922.6 193.9L1923.1 194.5L1923.7 195L1924.3 195.6L1924.8 196.1L1925.3 196.5L1925.8 196.9L1926.3 197.2L1926.7 197.5L1927.2 197.7L1927.6 197.9L1927.9 197.9L1928.3 198M1933.7 183.7L1934 183.7L1934.4 183.8L1934.8 184L1935.2 184.2L1935.7 184.5L1936.1 184.8L1936.6 185.2L1937.2 185.6L1937.7 186.1L1938.2 186.6L1938.8 187.2L1939.4 187.8L1940 188.4L1940.6 189.1L1941.2 189.7L1941.8 190.4L1942.4 191L1943 191.7L1943.6 192.3L1944.1 192.9L1944.7 193.5L1945.3 194.1L1945.8 194.6L1946.4 195.1L1946.9 195.6L1947.4 196L1947.9 196.3L1948.3 196.6L1948.7 196.8L1949.1 196.9L1949.5 197L1949.9 197M1901.3 185.1L1901.7 185.1L1902 185.2L1902.4 185.4L1902.9 185.6L1903.3 185.9L1903.8 186.2L1904.3 186.6L1904.8 187L1905.3 187.5L1905.9 188L1906.4 188.6L1907 189.2L1907.6 189.8L1908.2 190.5L1908.8 191.1L1909.4 191.8L1910 192.4L1910.6 193.1L1911.2 193.7L1911.8 194.3L1912.4 194.9L1912.9 195.5L1913.5 196L1914 196.5L1914.5 197L1915 197.4L1915.5 197.7L1915.9 198L1916.4 198.2L1916.8 198.3L1917.1 198.4L1917.5 198.4M1922.9 184.2L1923.2 184.2L1923.6 184.3L1924 184.4L1924.4 184.6L1924.9 184.9L1925.4 185.3L1925.9 185.6L1926.4 186.1L1926.9 186.6L1927.5 187.1L1928 187.7L1928.6 188.3L1929.2 188.9L1929.8 189.5L1930.4 190.2L1931 190.8L1931.6 191.5L1932.2 192.1L1932.8 192.8L1933.4 193.4L1933.9 194L1934.5 194.6L1935 195.1L1935.6 195.6L1936.1 196L1936.6 196.4L1937.1 196.8L1937.5 197L1937.9 197.2L1938.3 197.4L1938.7 197.5L1939.1 197.5M1944.5 183.2L1944.8 183.3L1945.2 183.4L1945.6 183.5L1946 183.7L1946.5 184L1947 184.4L1947.5 184.8L1948 185.2L1948.6 185.7L1949.1 186.2L1949.7 186.8L1950.3 187.4L1950.9 188.1L1951.5 188.7L1952.1 189.4L1952.7 190.1L1953.3 190.7L1953.9 191.4L1954.5 192L1955.1 192.7" fill="none" stroke="#1ea2d6" stroke-width="2.6" stroke-linecap="round" stroke-linejoin="round"/>
<path d="M1906.7 198.9L1907 198.8L1907.3 198.7L1907.6 198.5L1907.8 198.3L1908.1 198L1908.3 197.6L1908.4 197.2L1908.6 196.8L1908.7 196.2L1908.9 195.7L1909 195.1L1909.1 194.5L1909.2 193.8L1909.2 193.1L1909.3 192.5L1909.4 191.8L1909.5 191.1L1909.5 190.4L1909.6 189.7L1909.7 189.1L1909.8 188.4L1909.9 187.9L1910 187.3L1910.2 186.8L1910.3 186.3L1910.5 185.9L1910.7 185.5L1910.9 185.2L1911.2 185L1911.5 184.8L1911.8 184.7L1912.1 184.6M1928.3 198L1928.6 197.9L1928.9 197.8L1929.2 197.6L1929.4 197.4L1929.6 197.1L1929.8 196.7L1930 196.3L1930.2 195.8L1930.3 195.3L1930.5 194.7L1930.6 194.2L1930.7 193.5L1930.7 192.9L1930.8 192.2L1930.9 191.5L1931 190.8L1931 190.1L1931.1 189.5L1931.2 188.8L1931.3 188.1L1931.4 187.5L1931.5 186.9L1931.6 186.4L1931.8 185.8L1931.9 185.4L1932.1 185L1932.3 184.6L1932.5 184.3L1932.8 184.1L1933 183.9L1933.3 183.8L1933.7 183.7M1949.9 197L1950.2 197L1950.5 196.9L1950.8 196.7L1951 196.4L1951.2 196.1L1951.4 195.7L1951.6 195.3L1951.8 194.8L1951.9 194.3L1952 193.7L1952.2 193.1L1952.3 192.5L1952.3 191.8L1952.4 191.1L1952.5 190.4L1952.6 189.7L1952.6 189L1952.7 188.3L1952.8 187.7L1952.9 187M1917.5 198.4L1917.8 198.4L1918.1 198.3L1918.4 198.1L1918.6 197.8L1918.9 197.5L1919.1 197.2L1919.2 196.8L1919.4 196.3L1919.5 195.8L1919.7 195.2L1919.8 194.6L1919.9 194L1920 193.3L1920 192.7L1920.1 192L1920.2 191.3L1920.3 190.6L1920.3 189.9L1920.4 189.3L1920.5 188.6L1920.6 188L1920.7 187.4L1920.8 186.8L1921 186.3L1921.1 185.8L1921.3 185.4L1921.5 185.1L1921.7 184.8L1922 184.5L1922.3 184.3L1922.6 184.2L1922.9 184.2M1939.1 197.5L1939.4 197.4L1939.7 197.3L1940 197.2L1940.2 196.9L1940.4 196.6L1940.6 196.2L1940.8 195.8L1941 195.4L1941.1 194.8L1941.2 194.3L1941.4 193.7L1941.4 193.1L1941.5 192.4L1941.6 191.7L1941.7 191.1L1941.8 190.4L1941.8 189.7L1941.9 189L1942 188.3L1942.1 187.7L1942.2 187L1942.3 186.5L1942.4 185.9L1942.6 185.4L1942.7 184.9L1942.9 184.5L1943.1 184.1L1943.3 183.8L1943.6 183.6L1943.8 183.4L1944.1 183.3L1944.5 183.2" fill="none" stroke="#1666ad" stroke-width="2.6" stroke-linecap="round" stroke-linejoin="round"/>
<path d="M1955 195.4L1954.6 184.2M1957.4 195.3L1957 184.1M1959.8 195.2L1959.4 184M1962.2 195.1L1961.8 183.9M1964.6 195L1964.2 183.8M1967 194.9L1966.6 183.7M1969.4 194.8L1968.9 183.6M1971.8 194.7L1971.3 183.5M1974.2 194.6L1973.7 183.4M1976.6 194.5L1976.1 183.3M1979 194.4L1978.5 183.2M1981.4 194.3L1980.9 183.1M1983.8 194.2L1983.3 183M1986.2 194.1L1985.7 182.9M1988.6 194L1988.1 182.8M1991 193.8L1990.5 182.7M1993.4 193.7L1992.9 182.6M1995.8 193.6L1995.3 182.4" stroke="#d43aa6" stroke-width="1.1" fill="none"/>
<path d="M1955.2 182.8L1955.6 182.8L1956 182.9L1956.4 183L1956.8 183.2L1957.3 183.5L1957.7 183.9L1958.2 184.2L1958.7 184.7L1959.3 185.2L1959.8 185.7L1960.4 186.3L1961 186.9L1961.5 187.5L1962.1 188.1L1962.7 188.8L1963.3 189.4L1963.9 190.1L1964.5 190.8L1965.1 191.4L1965.7 192L1966.3 192.6L1966.9 193.2L1967.4 193.7L1968 194.2L1968.5 194.6L1969 195L1969.4 195.4L1969.9 195.6L1970.3 195.8L1970.7 196L1971.1 196.1L1971.4 196.1M1976.8 181.8L1977.2 181.9L1977.6 182L1978 182.1L1978.4 182.3L1978.8 182.6L1979.3 182.9L1979.8 183.3L1980.3 183.7L1980.9 184.2L1981.4 184.8L1982 185.3L1982.5 185.9L1983.1 186.5L1983.7 187.2L1984.3 187.8L1984.9 188.5L1985.5 189.2L1986.1 189.8L1986.7 190.5L1987.3 191.1L1987.9 191.7L1988.4 192.2L1989 192.8L1989.5 193.3L1990 193.7L1990.5 194.1L1991 194.4L1991.5 194.7L1991.9 194.9L1992.3 195.1L1992.7 195.1L1993 195.2M1955.1 192.7L1955.7 193.3L1956.3 193.9L1956.9 194.4L1957.4 194.9L1958 195.3L1958.5 195.7L1959 196L1959.4 196.3L1959.9 196.4L1960.3 196.5L1960.6 196.6M1966 182.3L1966.4 182.3L1966.8 182.4L1967.2 182.6L1967.6 182.8L1968 183.1L1968.5 183.4L1969 183.8L1969.5 184.2L1970.1 184.7L1970.6 185.2L1971.2 185.8L1971.8 186.4L1972.3 187L1972.9 187.7L1973.5 188.3L1974.1 189L1974.7 189.6L1975.3 190.3L1975.9 190.9L1976.5 191.5L1977.1 192.1L1977.7 192.7L1978.2 193.2L1978.7 193.7L1979.3 194.2L1979.8 194.6L1980.2 194.9L1980.7 195.2L1981.1 195.4L1981.5 195.5L1981.9 195.6L1982.2 195.6M1987.6 181.4L1988 181.4L1988.4 181.5L1988.8 181.7L1989.2 181.9L1989.7 182.2L1990.2 182.5L1990.7 182.9L1991.3 183.4L1991.8 183.9L1992.4 184.5L1993 185.1L1993.6 185.7L1994.2 186.4L1994.8 187L1995.4 187.7L1996 188.4L1996.7 189.1L1997.3 189.8" fill="none" stroke="#d43aa6" stroke-width="2.6" stroke-linecap="round" stroke-linejoin="round"/>
<path d="M1952.9 187L1953 186.4L1953.1 185.7L1953.3 185.2L1953.4 184.6L1953.6 184.2L1953.8 183.8L1954 183.4L1954.3 183.2L1954.6 183L1954.9 182.8L1955.2 182.8M1971.4 196.1L1971.8 196L1972.1 195.9L1972.3 195.8L1972.6 195.5L1972.8 195.2L1973 194.8L1973.2 194.4L1973.3 194L1973.5 193.4L1973.6 192.9L1973.7 192.3L1973.8 191.7L1973.9 191L1974 190.3L1974.1 189.7L1974.1 189L1974.2 188.3L1974.3 187.6L1974.4 186.9L1974.5 186.3L1974.5 185.6L1974.7 185.1L1974.8 184.5L1974.9 184L1975.1 183.5L1975.3 183.1L1975.5 182.7L1975.7 182.4L1975.9 182.2L1976.2 182L1976.5 181.9L1976.8 181.8M1993 195.2L1993.4 195.1L1993.7 195L1993.9 194.8L1994.2 194.5L1994.4 194.2L1994.6 193.8L1994.8 193.4L1995 192.9L1995.1 192.3L1995.2 191.8L1995.3 191.1L1995.4 190.5L1995.5 189.8L1995.6 189.1L1995.7 188.4L1995.8 187.7L1995.8 186.9L1995.9 186.2M1960.6 196.6L1961 196.5L1961.3 196.4L1961.5 196.2L1961.8 196L1962 195.7L1962.2 195.3L1962.4 194.9L1962.6 194.4L1962.7 193.9L1962.8 193.4L1962.9 192.8L1963 192.1L1963.1 191.5L1963.2 190.8L1963.3 190.1L1963.3 189.4L1963.4 188.7L1963.5 188.1L1963.6 187.4L1963.7 186.7L1963.8 186.1L1963.9 185.5L1964 185L1964.1 184.4L1964.3 184L1964.5 183.6L1964.7 183.2L1964.9 182.9L1965.1 182.7L1965.4 182.5L1965.7 182.4L1966 182.3M1982.2 195.6L1982.6 195.6L1982.9 195.5L1983.1 195.3L1983.4 195L1983.6 194.7L1983.8 194.4L1984 194L1984.1 193.5L1984.3 193L1984.4 192.4L1984.5 191.8L1984.6 191.2L1984.7 190.5L1984.8 189.9L1984.9 189.2L1984.9 188.5L1985 187.8L1985.1 187.1L1985.2 186.5L1985.2 185.8L1985.3 185.2L1985.4 184.6L1985.6 184L1985.7 183.5L1985.9 183L1986.1 182.6L1986.3 182.3L1986.5 182L1986.7 181.7L1987 181.5L1987.3 181.4L1987.6 181.4" fill="none" stroke="#9a1272" stroke-width="2.6" stroke-linecap="round" stroke-linejoin="round"/>
<line x1="1957" y1="121" x2="1958" y2="132" stroke="#84dccf" stroke-width="2"/>
<line x1="1995" y1="170" x2="1995.5" y2="186" stroke="#c71c96" stroke-width="2"/>
<g transform="translate(1997.4 155.2) rotate(0) scale(0.05806 0.06790) translate(-384 -398)"><path d="M170 230C177.5 212.5 193.3 202.5 210 195C226.7 187.5 250 190.8 270 185C290 179.2 310 163.3 330 160C350 156.7 371.7 160 390 165C408.3 170 418.3 184.2 440 190C461.7 195.8 496.7 193.3 520 200C543.3 206.7 563.3 215 580 230C596.7 245 608.3 270 620 290C631.7 310 642.5 330 650 350C657.5 370 665.8 390 665 410C664.2 430 655.8 450 645 470C634.2 490 617.5 510 600 530C582.5 550 561.7 573.3 540 590C518.3 606.7 493.3 621.7 470 630C446.7 638.3 423.3 641.7 400 640C376.7 638.3 351.7 628.3 330 620C308.3 611.7 291.7 600 270 590C248.3 580 221.7 573.3 200 560C178.3 546.7 153.3 528.3 140 510C126.7 491.7 125.8 468.3 120 450C114.2 431.7 103.3 416.7 105 400C106.7 383.3 120 366.7 130 350C140 333.3 158.3 320 165 300C171.7 280 162.5 247.5 170 230Z" fill="#c71c96" stroke="#8a1068" stroke-width="34.4" stroke-linejoin="round"/><path d="M280 450C278.3 435 266.7 381.7 270 360C273.3 338.3 285 331.7 300 320C315 308.3 340 298.3 360 290C380 281.7 400 275 420 270C440 265 456.7 258.3 480 260C503.3 261.7 546.7 276.7 560 280M320 540C330 546.7 356.7 572.5 380 580C403.3 587.5 446.7 584.2 460 585M600 300C606.7 313.3 635 353.3 640 380C645 406.7 631.7 446.7 630 460" fill="none" stroke="#8a1068" stroke-width="39.6" stroke-linecap="round"/></g>
<g transform="translate(1968.2 150.9) rotate(0) scale(0.08496 0.08163) translate(-353 -467)"><path d="M165 250C173.3 235.8 184.2 225 200 215C215.8 205 240 197.5 260 190C280 182.5 298.3 174.2 320 170C341.7 165.8 370 163.3 390 165C410 166.7 421.7 174.2 440 180C458.3 185.8 480 194.2 500 200C520 205.8 541.7 205 560 215C578.3 225 596.7 244.2 610 260C623.3 275.8 636.7 293.3 640 310C643.3 326.7 638.3 346.7 630 360C621.7 373.3 601.7 381.7 590 390C578.3 398.3 567.5 398.3 560 410C552.5 421.7 545.8 441.7 545 460C544.2 478.3 555 498.3 555 520C555 541.7 550.8 570 545 590C539.2 610 529.2 623.3 520 640C510.8 656.7 498.3 673.3 490 690C481.7 706.7 481.7 728.3 470 740C458.3 751.7 438.3 758.3 420 760C401.7 761.7 380 749.2 360 750C340 750.8 320 763.3 300 765C280 766.7 258.3 767.5 240 760C221.7 752.5 205 733.3 190 720C175 706.7 163.3 693.3 150 680C136.7 666.7 119.2 656.7 110 640C100.8 623.3 96.7 600 95 580C93.3 560 103.3 536.7 100 520C96.7 503.3 80 495 75 480C70 465 66.7 445 70 430C73.3 415 85 403.3 95 390C105 376.7 120.8 365 130 350C139.2 335 144.2 316.7 150 300C155.8 283.3 156.7 264.2 165 250Z" fill="#62cdc5" stroke="#1a8f80" stroke-width="23.5" stroke-linejoin="round"/><path d="M210 390C216.7 378.3 230 336.7 250 320C270 303.3 301.7 296.7 330 290C358.3 283.3 395 278.3 420 280C445 281.7 470 296.7 480 300M205 500C205 508.3 200.8 535 205 550C209.2 565 225.8 583.3 230 590M360 600C365 606.7 375 631.7 390 640C405 648.3 428.3 653.3 450 650C471.7 646.7 508.3 625 520 620M490 350C491.7 358.3 500 385 500 400C500 415 491.7 433.3 490 440M430 180C436.7 188.3 461.7 215 470 230C478.3 245 478.3 263.3 480 270M140 620C150 628.3 180 658.3 200 670C220 681.7 250 686.7 260 690M525 450C526.7 461.7 535.8 495 535 520C534.2 545 522.5 586.7 520 600" fill="none" stroke="#1a8f80" stroke-width="27.1" stroke-linecap="round"/></g>
<path d="M99.7 309.1H654.2V727.7H99.7" fill="none" stroke="#000" stroke-width="2"/>
<line x1="109.7" y1="308.1" x2="109.7" y2="728.7" stroke="#000" stroke-width="2"/>
<line x1="99.7" y1="727.7" x2="109.7" y2="727.7" stroke="#000" stroke-width="1.9"/>
<text transform="translate(88.6 737.3) scale(1 1.04)" font-size="29.4" text-anchor="end">0.2</text>
<line x1="99.7" y1="644" x2="109.7" y2="644" stroke="#000" stroke-width="1.9"/>
<text transform="translate(88.6 653.6) scale(1 1.04)" font-size="29.4" text-anchor="end">0.4</text>
<line x1="99.7" y1="560.3" x2="109.7" y2="560.3" stroke="#000" stroke-width="1.9"/>
<text transform="translate(88.6 569.9) scale(1 1.04)" font-size="29.4" text-anchor="end">0.6</text>
<line x1="99.7" y1="476.5" x2="109.7" y2="476.5" stroke="#000" stroke-width="1.9"/>
<text transform="translate(88.6 486.1) scale(1 1.04)" font-size="29.4" text-anchor="end">0.8</text>
<line x1="99.7" y1="392.8" x2="109.7" y2="392.8" stroke="#000" stroke-width="1.9"/>
<text transform="translate(88.6 402.4) scale(1 1.04)" font-size="29.4" text-anchor="end">1.0</text>
<line x1="99.7" y1="309.1" x2="109.7" y2="309.1" stroke="#000" stroke-width="1.9"/>
<text transform="translate(88.6 318.7) scale(1 1.04)" font-size="29.4" text-anchor="end">1.2</text>
<line x1="103.9" y1="685.8" x2="109.7" y2="685.8" stroke="#000" stroke-width="1.8"/>
<line x1="103.9" y1="602.1" x2="109.7" y2="602.1" stroke="#000" stroke-width="1.8"/>
<line x1="103.9" y1="518.4" x2="109.7" y2="518.4" stroke="#000" stroke-width="1.8"/>
<line x1="103.9" y1="434.7" x2="109.7" y2="434.7" stroke="#000" stroke-width="1.8"/>
<line x1="103.9" y1="351" x2="109.7" y2="351" stroke="#000" stroke-width="1.8"/>
<line x1="120" y1="727.7" x2="120" y2="739.2" stroke="#000" stroke-width="1.9"/>
<text transform="translate(120 772.6) scale(1 1.04)" font-size="29.4" text-anchor="middle">0</text>
<line x1="223.1" y1="727.7" x2="223.1" y2="739.2" stroke="#000" stroke-width="1.9"/>
<text transform="translate(223.1 772.6) scale(1 1.04)" font-size="29.4" text-anchor="middle">60</text>
<line x1="326.2" y1="727.7" x2="326.2" y2="739.2" stroke="#000" stroke-width="1.9"/>
<text transform="translate(326.2 772.6) scale(1 1.04)" font-size="29.4" text-anchor="middle">120</text>
<line x1="429.3" y1="727.7" x2="429.3" y2="739.2" stroke="#000" stroke-width="1.9"/>
<text transform="translate(429.3 772.6) scale(1 1.04)" font-size="29.4" text-anchor="middle">180</text>
<line x1="532.4" y1="727.7" x2="532.4" y2="739.2" stroke="#000" stroke-width="1.9"/>
<text transform="translate(532.4 772.6) scale(1 1.04)" font-size="29.4" text-anchor="middle">240</text>
<line x1="635.5" y1="727.7" x2="635.5" y2="739.2" stroke="#000" stroke-width="1.9"/>
<text transform="translate(635.5 772.6) scale(1 1.04)" font-size="29.4" text-anchor="middle">300</text>
<line x1="171.5" y1="727.7" x2="171.5" y2="733.9" stroke="#000" stroke-width="1.8"/>
<line x1="274.6" y1="727.7" x2="274.6" y2="733.9" stroke="#000" stroke-width="1.8"/>
<line x1="377.7" y1="727.7" x2="377.7" y2="733.9" stroke="#000" stroke-width="1.8"/>
<line x1="480.8" y1="727.7" x2="480.8" y2="733.9" stroke="#000" stroke-width="1.8"/>
<line x1="583.9" y1="727.7" x2="583.9" y2="733.9" stroke="#000" stroke-width="1.8"/>
<text x="0" y="0" font-size="29.2" text-anchor="middle" transform="translate(24.2 517.9) rotate(-90) scale(1 1.04)">Normalized enzyme activity</text>
<text transform="translate(381 814.8) scale(1 1.04)" font-size="29.4" text-anchor="middle">Time (min)</text>
<path d="M120 582.6L121.7 581.8L123.4 581L125.2 580.2L126.9 579.5L128.6 578.7L130.3 577.9L132 577.2L133.7 576.4L135.5 575.6L137.2 574.9L138.9 574.1L140.6 573.4L142.3 572.6L144.1 571.9L145.8 571.2L147.5 570.4L149.2 569.7L150.9 569L152.6 568.2L154.4 567.5L156.1 566.8L157.8 566.1L159.5 565.3L161.2 564.6L163 563.9L164.7 563.2L166.4 562.5L168.1 561.8L169.8 561.1L171.5 560.4L173.3 559.7L175 559L176.7 558.3L178.4 557.7L180.1 557L181.9 556.3L183.6 555.6L185.3 554.9L187 554.3L188.7 553.6L190.5 552.9L192.2 552.3L193.9 551.6L195.6 551L197.3 550.3L199 549.7L200.8 549L202.5 548.4L204.2 547.7L205.9 547.1L207.6 546.4L209.4 545.8L211.1 545.2L212.8 544.5L214.5 543.9L216.2 543.3L217.9 542.7L219.7 542L221.4 541.4L223.1 540.8L224.8 540.2L226.5 539.6L228.3 539L230 538.4L231.7 537.8L233.4 537.2L235.1 536.6L236.8 536L238.6 535.4L240.3 534.8L242 534.2L243.7 533.6L245.4 533L247.2 532.5L248.9 531.9L250.6 531.3L252.3 530.7L254 530.2L255.7 529.6L257.5 529L259.2 528.5L260.9 527.9L262.6 527.3L264.3 526.8L266.1 526.2L267.8 525.7L269.5 525.1L271.2 524.6L272.9 524L274.6 523.5L276.4 522.9L278.1 522.4L279.8 521.9L281.5 521.3L283.2 520.8L285 520.3L286.7 519.7L288.4 519.2L290.1 518.7L291.8 518.2L293.5 517.6L295.3 517.1L297 516.6L298.7 516.1L300.4 515.6L302.1 515.1L303.9 514.6L305.6 514.1L307.3 513.6L309 513L310.7 512.5L312.4 512.1L314.2 511.6L315.9 511.1L317.6 510.6L319.3 510.1L321 509.6L322.8 509.1L324.5 508.6L326.2 508.1L327.9 507.7L329.6 507.2L331.4 506.7L333.1 506.2L334.8 505.8L336.5 505.3L338.2 504.8L339.9 504.4L341.7 503.9L343.4 503.4L345.1 503L346.8 502.5L348.5 502.1L350.3 501.6L352 501.2L353.7 500.7L355.4 500.3L357.1 499.8L358.8 499.4L360.6 498.9L362.3 498.5L364 498L365.7 497.6L367.4 497.2L369.2 496.7L370.9 496.3L372.6 495.9L374.3 495.4L376 495L377.7 494.6L379.5 494.2L381.2 493.7L382.9 493.3L384.6 492.9L386.3 492.5L388.1 492.1L389.8 491.7L391.5 491.2L393.2 490.8L394.9 490.4L396.6 490L398.4 489.6L400.1 489.2L401.8 488.8L403.5 488.4L405.2 488L407 487.6L408.7 487.2L410.4 486.8L412.1 486.4L413.8 486L415.5 485.6L417.3 485.3L419 484.9L420.7 484.5L422.4 484.1L424.1 483.7L425.9 483.3L427.6 483L429.3 482.6L431 482.2L432.7 481.8L434.4 481.5L436.2 481.1L437.9 480.7L439.6 480.4L441.3 480L443 479.6L444.8 479.3L446.5 478.9L448.2 478.6L449.9 478.2L451.6 477.8L453.4 477.5L455.1 477.1L456.8 476.8L458.5 476.4L460.2 476.1L461.9 475.7L463.7 475.4L465.4 475L467.1 474.7L468.8 474.3L470.5 474L472.3 473.7L474 473.3L475.7 473L477.4 472.7L479.1 472.3L480.8 472L482.6 471.7L484.3 471.3L486 471L487.7 470.7L489.4 470.3L491.2 470L492.9 469.7L494.6 469.4L496.3 469L498 468.7L499.7 468.4L501.5 468.1L503.2 467.8L504.9 467.5L506.6 467.1L508.3 466.8L510.1 466.5L511.8 466.2L513.5 465.9L515.2 465.6L516.9 465.3L518.6 465L520.4 464.7L522.1 464.4L523.8 464.1L525.5 463.8L527.2 463.5L529 463.2L530.7 462.9L532.4 462.6L534.1 462.3L535.8 462L537.5 461.7L539.3 461.4L541 461.1L542.7 460.9L544.4 460.6L546.1 460.3L547.9 460L549.6 459.7L551.3 459.4L553 459.2L554.7 458.9L556.4 458.6L558.2 458.3L559.9 458L561.6 457.8L563.3 457.5L565 457.2L566.8 457L568.5 456.7L570.2 456.4L571.9 456.1L573.6 455.9L575.3 455.6L577.1 455.4L578.8 455.1L580.5 454.8L582.2 454.6L583.9 454.3L585.7 454L587.4 453.8L589.1 453.5L590.8 453.3L592.5 453L594.3 452.8L596 452.5L597.7 452.3L599.4 452L601.1 451.8L602.8 451.5L604.6 451.3L606.3 451L608 450.8L609.7 450.5L611.4 450.3L613.2 450L614.9 449.8L616.6 449.6L618.3 449.3L620 449.1L621.7 448.8L623.5 448.6L625.2 448.4L626.9 448.1L628.6 447.9L630.3 447.7L632.1 447.4L633.8 447.2L635.5 447" fill="none" stroke="#000" stroke-width="3.2" stroke-dasharray="13.8 10.59" stroke-dashoffset="7.09"/>
<line x1="119.7" y1="526" x2="119.7" y2="567.8" stroke="#000" stroke-width="1.8"/>
<line x1="114.7" y1="526" x2="124.7" y2="526" stroke="#000" stroke-width="1.9"/>
<line x1="114.7" y1="567.8" x2="124.7" y2="567.8" stroke="#000" stroke-width="1.9"/>
<line x1="137" y1="525.6" x2="137" y2="553.9" stroke="#000" stroke-width="1.8"/>
<line x1="132" y1="525.6" x2="142" y2="525.6" stroke="#000" stroke-width="1.9"/>
<line x1="132" y1="553.9" x2="142" y2="553.9" stroke="#000" stroke-width="1.9"/>
<line x1="154.5" y1="488.7" x2="154.5" y2="615.5" stroke="#000" stroke-width="1.8"/>
<line x1="149.5" y1="488.7" x2="159.5" y2="488.7" stroke="#000" stroke-width="1.9"/>
<line x1="149.5" y1="615.5" x2="159.5" y2="615.5" stroke="#000" stroke-width="1.9"/>
<line x1="171.4" y1="521.2" x2="171.4" y2="611.7" stroke="#000" stroke-width="1.8"/>
<line x1="166.4" y1="521.2" x2="176.4" y2="521.2" stroke="#000" stroke-width="1.9"/>
<line x1="166.4" y1="611.7" x2="176.4" y2="611.7" stroke="#000" stroke-width="1.9"/>
<line x1="197.2" y1="501" x2="197.2" y2="555.7" stroke="#000" stroke-width="1.8"/>
<line x1="192.2" y1="501" x2="202.2" y2="501" stroke="#000" stroke-width="1.9"/>
<line x1="192.2" y1="555.7" x2="202.2" y2="555.7" stroke="#000" stroke-width="1.9"/>
<line x1="223.1" y1="487.4" x2="223.1" y2="592.6" stroke="#000" stroke-width="1.8"/>
<line x1="218.1" y1="487.4" x2="228.1" y2="487.4" stroke="#000" stroke-width="1.9"/>
<line x1="218.1" y1="592.6" x2="228.1" y2="592.6" stroke="#000" stroke-width="1.9"/>
<line x1="274.9" y1="480.8" x2="274.9" y2="506.3" stroke="#000" stroke-width="1.8"/>
<line x1="269.9" y1="480.8" x2="279.9" y2="480.8" stroke="#000" stroke-width="1.9"/>
<line x1="269.9" y1="506.3" x2="279.9" y2="506.3" stroke="#000" stroke-width="1.9"/>
<line x1="326.7" y1="451.7" x2="326.7" y2="506.8" stroke="#000" stroke-width="1.8"/>
<line x1="321.7" y1="451.7" x2="331.7" y2="451.7" stroke="#000" stroke-width="1.9"/>
<line x1="321.7" y1="506.8" x2="331.7" y2="506.8" stroke="#000" stroke-width="1.9"/>
<line x1="430.2" y1="472.6" x2="430.2" y2="485" stroke="#000" stroke-width="1.8"/>
<line x1="425.2" y1="472.6" x2="435.2" y2="472.6" stroke="#000" stroke-width="1.9"/>
<line x1="425.2" y1="485" x2="435.2" y2="485" stroke="#000" stroke-width="1.9"/>
<line x1="533.2" y1="447.8" x2="533.2" y2="482.9" stroke="#000" stroke-width="1.8"/>
<line x1="528.2" y1="447.8" x2="538.2" y2="447.8" stroke="#000" stroke-width="1.9"/>
<line x1="528.2" y1="482.9" x2="538.2" y2="482.9" stroke="#000" stroke-width="1.9"/>
<line x1="636.7" y1="416.3" x2="636.7" y2="468" stroke="#000" stroke-width="1.8"/>
<line x1="631.7" y1="416.3" x2="641.7" y2="416.3" stroke="#000" stroke-width="1.9"/>
<line x1="631.7" y1="468" x2="641.7" y2="468" stroke="#000" stroke-width="1.9"/>
<circle cx="119.7" cy="557.7" r="6.5" fill="#fff" stroke="#000" stroke-width="1.9"/>
<circle cx="137" cy="539.8" r="6.5" fill="#fff" stroke="#000" stroke-width="1.9"/>
<circle cx="154.5" cy="550.9" r="6.5" fill="#fff" stroke="#000" stroke-width="1.9"/>
<circle cx="171.4" cy="566" r="6.5" fill="#fff" stroke="#000" stroke-width="1.9"/>
<circle cx="197.2" cy="528.2" r="6.5" fill="#fff" stroke="#000" stroke-width="1.9"/>
<circle cx="223.1" cy="539.8" r="6.5" fill="#fff" stroke="#000" stroke-width="1.9"/>
<circle cx="274.9" cy="493.3" r="6.5" fill="#fff" stroke="#000" stroke-width="1.9"/>
<circle cx="326.7" cy="478.8" r="6.5" fill="#fff" stroke="#000" stroke-width="1.9"/>
<circle cx="430.2" cy="478.8" r="6.5" fill="#fff" stroke="#000" stroke-width="1.9"/>
<circle cx="533.2" cy="465.2" r="6.5" fill="#fff" stroke="#000" stroke-width="1.9"/>
<circle cx="636.7" cy="442.5" r="6.5" fill="#fff" stroke="#000" stroke-width="1.9"/>
<line x1="120" y1="360.9" x2="120" y2="425.4" stroke="#000" stroke-width="1.8"/>
<line x1="115" y1="360.9" x2="125" y2="360.9" stroke="#000" stroke-width="1.9"/>
<line x1="115" y1="425.4" x2="125" y2="425.4" stroke="#000" stroke-width="1.9"/>
<path d="M111.2 393.2L120 385.2L128.8 393.2L120 401.2Z" fill="#56b814" stroke="#000" stroke-width="2.1" stroke-linejoin="miter"/>
<line x1="636.7" y1="363.9" x2="636.7" y2="422.1" stroke="#000" stroke-width="1.8"/>
<line x1="631.7" y1="363.9" x2="641.7" y2="363.9" stroke="#000" stroke-width="1.9"/>
<line x1="631.7" y1="422.1" x2="641.7" y2="422.1" stroke="#000" stroke-width="1.9"/>
<path d="M627.9 393L636.7 385L645.5 393L636.7 401Z" fill="#56b814" stroke="#000" stroke-width="2.1" stroke-linejoin="miter"/>
<line x1="120" y1="567.8" x2="120" y2="598" stroke="#000" stroke-width="1.8"/>
<line x1="115" y1="567.8" x2="125" y2="567.8" stroke="#000" stroke-width="1.9"/>
<line x1="115" y1="598" x2="125" y2="598" stroke="#000" stroke-width="1.9"/>
<path d="M111.2 583L120 575L128.8 583L120 591Z" fill="#dc3223" stroke="#000" stroke-width="2.1" stroke-linejoin="miter"/>
<line x1="636.7" y1="547.9" x2="636.7" y2="582.4" stroke="#000" stroke-width="1.8"/>
<line x1="631.7" y1="547.9" x2="641.7" y2="547.9" stroke="#000" stroke-width="1.9"/>
<line x1="631.7" y1="582.4" x2="641.7" y2="582.4" stroke="#000" stroke-width="1.9"/>
<path d="M627.9 564.7L636.7 556.7L645.5 564.7L636.7 572.7Z" fill="#dc3223" stroke="#000" stroke-width="2.1" stroke-linejoin="miter"/>
<path d="M455.6 728.7V639.8H655.2" fill="none" stroke="#000" stroke-width="2.5"/>
<path d="M468.1 665L476.5 656.9L484.9 665L476.5 673.1Z" fill="#56b814" stroke="#000" stroke-width="2.1" stroke-linejoin="miter"/>
<text transform="translate(496 671.8) scale(1 1.04)" font-size="25" text-anchor="start">No inhibitor</text>
<path d="M468.1 703.5L476.5 695.4L484.9 703.5L476.5 711.6Z" fill="#dc3223" stroke="#000" stroke-width="2.1" stroke-linejoin="miter"/>
<text transform="translate(496 711.4) scale(1 1.04)" font-size="25" text-anchor="start">5% BTA-DNA</text>
<path d="M795 308H1350.6V726.4H795" fill="none" stroke="#000" stroke-width="2"/>
<line x1="805" y1="307" x2="805" y2="727.4" stroke="#000" stroke-width="2"/>
<line x1="795" y1="726.4" x2="805" y2="726.4" stroke="#000" stroke-width="1.9"/>
<text transform="translate(784.7 736) scale(1 1.04)" font-size="29.4" text-anchor="end">0.2</text>
<line x1="795" y1="642.7" x2="805" y2="642.7" stroke="#000" stroke-width="1.9"/>
<text transform="translate(784.7 652.3) scale(1 1.04)" font-size="29.4" text-anchor="end">0.4</text>
<line x1="795" y1="559" x2="805" y2="559" stroke="#000" stroke-width="1.9"/>
<text transform="translate(784.7 568.6) scale(1 1.04)" font-size="29.4" text-anchor="end">0.6</text>
<line x1="795" y1="475.4" x2="805" y2="475.4" stroke="#000" stroke-width="1.9"/>
<text transform="translate(784.7 485) scale(1 1.04)" font-size="29.4" text-anchor="end">0.8</text>
<line x1="795" y1="391.7" x2="805" y2="391.7" stroke="#000" stroke-width="1.9"/>
<text transform="translate(784.7 401.3) scale(1 1.04)" font-size="29.4" text-anchor="end">1.0</text>
<line x1="795" y1="308" x2="805" y2="308" stroke="#000" stroke-width="1.9"/>
<text transform="translate(784.7 317.6) scale(1 1.04)" font-size="29.4" text-anchor="end">1.2</text>
<line x1="799.2" y1="684.6" x2="805" y2="684.6" stroke="#000" stroke-width="1.8"/>
<line x1="799.2" y1="600.9" x2="805" y2="600.9" stroke="#000" stroke-width="1.8"/>
<line x1="799.2" y1="517.2" x2="805" y2="517.2" stroke="#000" stroke-width="1.8"/>
<line x1="799.2" y1="433.5" x2="805" y2="433.5" stroke="#000" stroke-width="1.8"/>
<line x1="799.2" y1="349.8" x2="805" y2="349.8" stroke="#000" stroke-width="1.8"/>
<line x1="813" y1="726.4" x2="813" y2="737.9" stroke="#000" stroke-width="1.9"/>
<text transform="translate(813 771.3) scale(1 1.04)" font-size="29.4" text-anchor="middle">0</text>
<line x1="899" y1="726.4" x2="899" y2="737.9" stroke="#000" stroke-width="1.9"/>
<text transform="translate(899 771.3) scale(1 1.04)" font-size="29.4" text-anchor="middle">20</text>
<line x1="985" y1="726.4" x2="985" y2="737.9" stroke="#000" stroke-width="1.9"/>
<text transform="translate(985 771.3) scale(1 1.04)" font-size="29.4" text-anchor="middle">40</text>
<line x1="1071" y1="726.4" x2="1071" y2="737.9" stroke="#000" stroke-width="1.9"/>
<text transform="translate(1071 771.3) scale(1 1.04)" font-size="29.4" text-anchor="middle">60</text>
<line x1="1157.1" y1="726.4" x2="1157.1" y2="737.9" stroke="#000" stroke-width="1.9"/>
<text transform="translate(1157.1 771.3) scale(1 1.04)" font-size="29.4" text-anchor="middle">80</text>
<line x1="1243.1" y1="726.4" x2="1243.1" y2="737.9" stroke="#000" stroke-width="1.9"/>
<text transform="translate(1243.1 771.3) scale(1 1.04)" font-size="29.4" text-anchor="middle">100</text>
<line x1="1329.1" y1="726.4" x2="1329.1" y2="737.9" stroke="#000" stroke-width="1.9"/>
<text transform="translate(1329.1 771.3) scale(1 1.04)" font-size="29.4" text-anchor="middle">120</text>
<line x1="856" y1="726.4" x2="856" y2="732.6" stroke="#000" stroke-width="1.8"/>
<line x1="942" y1="726.4" x2="942" y2="732.6" stroke="#000" stroke-width="1.8"/>
<line x1="1028" y1="726.4" x2="1028" y2="732.6" stroke="#000" stroke-width="1.8"/>
<line x1="1114.1" y1="726.4" x2="1114.1" y2="732.6" stroke="#000" stroke-width="1.8"/>
<line x1="1200.1" y1="726.4" x2="1200.1" y2="732.6" stroke="#000" stroke-width="1.8"/>
<line x1="1286.1" y1="726.4" x2="1286.1" y2="732.6" stroke="#000" stroke-width="1.8"/>
<text x="0" y="0" font-size="29.2" text-anchor="middle" transform="translate(717 521.8) rotate(-90) scale(1 1.04)">Normalized enzyme activity</text>
<text transform="translate(1077 813.6) scale(1 1.04)" font-size="29.4" text-anchor="middle">Time (min)</text>
<line x1="815.1" y1="569.7" x2="815.1" y2="603.7" stroke="#000" stroke-width="1.8"/>
<line x1="810.1" y1="569.7" x2="820.1" y2="569.7" stroke="#000" stroke-width="1.9"/>
<line x1="810.1" y1="603.7" x2="820.1" y2="603.7" stroke="#000" stroke-width="1.9"/>
<line x1="856.3" y1="565" x2="856.3" y2="579.6" stroke="#000" stroke-width="1.8"/>
<line x1="851.3" y1="565" x2="861.3" y2="565" stroke="#000" stroke-width="1.9"/>
<line x1="851.3" y1="579.6" x2="861.3" y2="579.6" stroke="#000" stroke-width="1.9"/>
<line x1="942.3" y1="555.3" x2="942.3" y2="572.8" stroke="#000" stroke-width="1.8"/>
<line x1="937.3" y1="555.3" x2="947.3" y2="555.3" stroke="#000" stroke-width="1.9"/>
<line x1="937.3" y1="572.8" x2="947.3" y2="572.8" stroke="#000" stroke-width="1.9"/>
<line x1="985.4" y1="557.1" x2="985.4" y2="584.9" stroke="#000" stroke-width="1.8"/>
<line x1="980.4" y1="557.1" x2="990.4" y2="557.1" stroke="#000" stroke-width="1.9"/>
<line x1="980.4" y1="584.9" x2="990.4" y2="584.9" stroke="#000" stroke-width="1.9"/>
<line x1="1028.3" y1="543.1" x2="1028.3" y2="598.4" stroke="#000" stroke-width="1.8"/>
<line x1="1023.3" y1="543.1" x2="1033.3" y2="543.1" stroke="#000" stroke-width="1.9"/>
<line x1="1023.3" y1="598.4" x2="1033.3" y2="598.4" stroke="#000" stroke-width="1.9"/>
<line x1="1071.2" y1="582" x2="1071.2" y2="589" stroke="#000" stroke-width="1.8"/>
<line x1="1066.2" y1="582" x2="1076.2" y2="582" stroke="#000" stroke-width="1.9"/>
<line x1="1066.2" y1="589" x2="1076.2" y2="589" stroke="#000" stroke-width="1.9"/>
<line x1="1113.9" y1="561.6" x2="1113.9" y2="588.2" stroke="#000" stroke-width="1.8"/>
<line x1="1108.9" y1="561.6" x2="1118.9" y2="561.6" stroke="#000" stroke-width="1.9"/>
<line x1="1108.9" y1="588.2" x2="1118.9" y2="588.2" stroke="#000" stroke-width="1.9"/>
<line x1="1157" y1="559" x2="1157" y2="581" stroke="#000" stroke-width="1.8"/>
<line x1="1152" y1="559" x2="1162" y2="559" stroke="#000" stroke-width="1.9"/>
<line x1="1152" y1="581" x2="1162" y2="581" stroke="#000" stroke-width="1.9"/>
<line x1="1200.1" y1="528.8" x2="1200.1" y2="578.3" stroke="#000" stroke-width="1.8"/>
<line x1="1195.1" y1="528.8" x2="1205.1" y2="528.8" stroke="#000" stroke-width="1.9"/>
<line x1="1195.1" y1="578.3" x2="1205.1" y2="578.3" stroke="#000" stroke-width="1.9"/>
<line x1="1243.2" y1="505.3" x2="1243.2" y2="555.9" stroke="#000" stroke-width="1.8"/>
<line x1="1238.2" y1="505.3" x2="1248.2" y2="505.3" stroke="#000" stroke-width="1.9"/>
<line x1="1238.2" y1="555.9" x2="1248.2" y2="555.9" stroke="#000" stroke-width="1.9"/>
<circle cx="815.1" cy="586.4" r="6.5" fill="#fff" stroke="#000" stroke-width="1.9"/>
<circle cx="856.3" cy="572.2" r="6.5" fill="#fff" stroke="#000" stroke-width="1.9"/>
<circle cx="899" cy="587.4" r="6.5" fill="#fff" stroke="#000" stroke-width="1.9"/>
<circle cx="942.3" cy="564.1" r="6.5" fill="#fff" stroke="#000" stroke-width="1.9"/>
<circle cx="985.4" cy="570.7" r="6.5" fill="#fff" stroke="#000" stroke-width="1.9"/>
<circle cx="1028.3" cy="570.7" r="6.5" fill="#fff" stroke="#000" stroke-width="1.9"/>
<circle cx="1071.2" cy="585.4" r="6.5" fill="#fff" stroke="#000" stroke-width="1.9"/>
<circle cx="1113.9" cy="575.1" r="6.5" fill="#fff" stroke="#000" stroke-width="1.9"/>
<circle cx="1157" cy="570.3" r="6.5" fill="#fff" stroke="#000" stroke-width="1.9"/>
<circle cx="1200.1" cy="554.2" r="6.5" fill="#fff" stroke="#000" stroke-width="1.9"/>
<circle cx="1243.2" cy="530.8" r="6.5" fill="#fff" stroke="#000" stroke-width="1.9"/>
<circle cx="1328.8" cy="573.2" r="6.5" fill="#fff" stroke="#000" stroke-width="1.9"/>
<line x1="815.3" y1="393.9" x2="815.3" y2="433.7" stroke="#000" stroke-width="1.8"/>
<line x1="810.3" y1="393.9" x2="820.3" y2="393.9" stroke="#000" stroke-width="1.9"/>
<line x1="810.3" y1="433.7" x2="820.3" y2="433.7" stroke="#000" stroke-width="1.9"/>
<path d="M806.5 413.7L815.3 405.7L824.1 413.7L815.3 421.7Z" fill="#56b814" stroke="#000" stroke-width="2.1" stroke-linejoin="miter"/>
<line x1="1328.8" y1="365.1" x2="1328.8" y2="415.3" stroke="#000" stroke-width="1.8"/>
<line x1="1323.8" y1="365.1" x2="1333.8" y2="365.1" stroke="#000" stroke-width="1.9"/>
<line x1="1323.8" y1="415.3" x2="1333.8" y2="415.3" stroke="#000" stroke-width="1.9"/>
<path d="M1320 390.6L1328.8 382.6L1337.6 390.6L1328.8 398.6Z" fill="#56b814" stroke="#000" stroke-width="2.1" stroke-linejoin="miter"/>
<path d="M1166.3 727.4V676.4H1351.6" fill="none" stroke="#000" stroke-width="2.5"/>
<path d="M1184.4 703.2L1192.8 695.1L1201.2 703.2L1192.8 711.3Z" fill="#56b814" stroke="#000" stroke-width="2.1" stroke-linejoin="miter"/>
<text transform="translate(1212.3 711) scale(1 1.04)" font-size="25" text-anchor="start">No inhibitor</text>
<path d="M1490.9 309.2H2045.4V727.6H1490.9" fill="none" stroke="#000" stroke-width="2"/>
<line x1="1500.9" y1="308.2" x2="1500.9" y2="728.6" stroke="#000" stroke-width="2"/>
<line x1="1490.9" y1="727.6" x2="1500.9" y2="727.6" stroke="#000" stroke-width="1.9"/>
<text transform="translate(1480.8 737.2) scale(1 1.04)" font-size="29.4" text-anchor="end">0.2</text>
<line x1="1490.9" y1="643.9" x2="1500.9" y2="643.9" stroke="#000" stroke-width="1.9"/>
<text transform="translate(1480.8 653.5) scale(1 1.04)" font-size="29.4" text-anchor="end">0.4</text>
<line x1="1490.9" y1="560.2" x2="1500.9" y2="560.2" stroke="#000" stroke-width="1.9"/>
<text transform="translate(1480.8 569.8) scale(1 1.04)" font-size="29.4" text-anchor="end">0.6</text>
<line x1="1490.9" y1="476.6" x2="1500.9" y2="476.6" stroke="#000" stroke-width="1.9"/>
<text transform="translate(1480.8 486.2) scale(1 1.04)" font-size="29.4" text-anchor="end">0.8</text>
<line x1="1490.9" y1="392.9" x2="1500.9" y2="392.9" stroke="#000" stroke-width="1.9"/>
<text transform="translate(1480.8 402.5) scale(1 1.04)" font-size="29.4" text-anchor="end">1.0</text>
<line x1="1490.9" y1="309.2" x2="1500.9" y2="309.2" stroke="#000" stroke-width="1.9"/>
<text transform="translate(1480.8 318.8) scale(1 1.04)" font-size="29.4" text-anchor="end">1.2</text>
<line x1="1495.1" y1="685.8" x2="1500.9" y2="685.8" stroke="#000" stroke-width="1.8"/>
<line x1="1495.1" y1="602.1" x2="1500.9" y2="602.1" stroke="#000" stroke-width="1.8"/>
<line x1="1495.1" y1="518.4" x2="1500.9" y2="518.4" stroke="#000" stroke-width="1.8"/>
<line x1="1495.1" y1="434.7" x2="1500.9" y2="434.7" stroke="#000" stroke-width="1.8"/>
<line x1="1495.1" y1="351" x2="1500.9" y2="351" stroke="#000" stroke-width="1.8"/>
<line x1="1509.1" y1="727.6" x2="1509.1" y2="739.1" stroke="#000" stroke-width="1.9"/>
<text transform="translate(1509.1 772.4) scale(1 1.04)" font-size="29.4" text-anchor="middle">0</text>
<line x1="1595.1" y1="727.6" x2="1595.1" y2="739.1" stroke="#000" stroke-width="1.9"/>
<text transform="translate(1595.1 772.4) scale(1 1.04)" font-size="29.4" text-anchor="middle">20</text>
<line x1="1681.1" y1="727.6" x2="1681.1" y2="739.1" stroke="#000" stroke-width="1.9"/>
<text transform="translate(1681.1 772.4) scale(1 1.04)" font-size="29.4" text-anchor="middle">40</text>
<line x1="1767.1" y1="727.6" x2="1767.1" y2="739.1" stroke="#000" stroke-width="1.9"/>
<text transform="translate(1767.1 772.4) scale(1 1.04)" font-size="29.4" text-anchor="middle">60</text>
<line x1="1853.1" y1="727.6" x2="1853.1" y2="739.1" stroke="#000" stroke-width="1.9"/>
<text transform="translate(1853.1 772.4) scale(1 1.04)" font-size="29.4" text-anchor="middle">80</text>
<line x1="1939.1" y1="727.6" x2="1939.1" y2="739.1" stroke="#000" stroke-width="1.9"/>
<text transform="translate(1939.1 772.4) scale(1 1.04)" font-size="29.4" text-anchor="middle">100</text>
<line x1="2025.1" y1="727.6" x2="2025.1" y2="739.1" stroke="#000" stroke-width="1.9"/>
<text transform="translate(2025.1 772.4) scale(1 1.04)" font-size="29.4" text-anchor="middle">120</text>
<line x1="1552.1" y1="727.6" x2="1552.1" y2="733.8" stroke="#000" stroke-width="1.8"/>
<line x1="1638.1" y1="727.6" x2="1638.1" y2="733.8" stroke="#000" stroke-width="1.8"/>
<line x1="1724.1" y1="727.6" x2="1724.1" y2="733.8" stroke="#000" stroke-width="1.8"/>
<line x1="1810.1" y1="727.6" x2="1810.1" y2="733.8" stroke="#000" stroke-width="1.8"/>
<line x1="1896.1" y1="727.6" x2="1896.1" y2="733.8" stroke="#000" stroke-width="1.8"/>
<line x1="1982.1" y1="727.6" x2="1982.1" y2="733.8" stroke="#000" stroke-width="1.8"/>
<text x="0" y="0" font-size="29.2" text-anchor="middle" transform="translate(1414.2 518.2) rotate(-90) scale(1 1.04)">Normalized enzyme activity</text>
<text transform="translate(1772.6 817.6) scale(1 1.04)" font-size="29.4" text-anchor="middle">Time (min)</text>
<line x1="1510.7" y1="517.5" x2="1510.7" y2="530.6" stroke="#000" stroke-width="1.8"/>
<line x1="1505.7" y1="517.5" x2="1515.7" y2="517.5" stroke="#000" stroke-width="1.9"/>
<line x1="1505.7" y1="530.6" x2="1515.7" y2="530.6" stroke="#000" stroke-width="1.9"/>
<line x1="1552.5" y1="545.1" x2="1552.5" y2="570.6" stroke="#000" stroke-width="1.8"/>
<line x1="1547.5" y1="545.1" x2="1557.5" y2="545.1" stroke="#000" stroke-width="1.9"/>
<line x1="1547.5" y1="570.6" x2="1557.5" y2="570.6" stroke="#000" stroke-width="1.9"/>
<line x1="1595.5" y1="548" x2="1595.5" y2="577.9" stroke="#000" stroke-width="1.8"/>
<line x1="1590.5" y1="548" x2="1600.5" y2="548" stroke="#000" stroke-width="1.9"/>
<line x1="1590.5" y1="577.9" x2="1600.5" y2="577.9" stroke="#000" stroke-width="1.9"/>
<line x1="1638.4" y1="555.3" x2="1638.4" y2="576.9" stroke="#000" stroke-width="1.8"/>
<line x1="1633.4" y1="555.3" x2="1643.4" y2="555.3" stroke="#000" stroke-width="1.9"/>
<line x1="1633.4" y1="576.9" x2="1643.4" y2="576.9" stroke="#000" stroke-width="1.9"/>
<line x1="1702.7" y1="559.3" x2="1702.7" y2="579" stroke="#000" stroke-width="1.8"/>
<line x1="1697.7" y1="559.3" x2="1707.7" y2="559.3" stroke="#000" stroke-width="1.9"/>
<line x1="1697.7" y1="579" x2="1707.7" y2="579" stroke="#000" stroke-width="1.9"/>
<line x1="1831.2" y1="566" x2="1831.2" y2="589.1" stroke="#000" stroke-width="1.8"/>
<line x1="1826.2" y1="566" x2="1836.2" y2="566" stroke="#000" stroke-width="1.9"/>
<line x1="1826.2" y1="589.1" x2="1836.2" y2="589.1" stroke="#000" stroke-width="1.9"/>
<line x1="2024.9" y1="576.7" x2="2024.9" y2="608" stroke="#000" stroke-width="1.8"/>
<line x1="2019.9" y1="576.7" x2="2029.9" y2="576.7" stroke="#000" stroke-width="1.9"/>
<line x1="2019.9" y1="608" x2="2029.9" y2="608" stroke="#000" stroke-width="1.9"/>
<circle cx="1510.7" cy="524" r="6.5" fill="#fff" stroke="#000" stroke-width="1.9"/>
<circle cx="1531" cy="541.1" r="6.5" fill="#fff" stroke="#000" stroke-width="1.9"/>
<circle cx="1552.5" cy="557.5" r="6.5" fill="#fff" stroke="#000" stroke-width="1.9"/>
<circle cx="1573.6" cy="553.6" r="6.5" fill="#fff" stroke="#000" stroke-width="1.9"/>
<circle cx="1595.5" cy="562.9" r="6.5" fill="#fff" stroke="#000" stroke-width="1.9"/>
<circle cx="1638.4" cy="566.2" r="6.5" fill="#fff" stroke="#000" stroke-width="1.9"/>
<circle cx="1702.7" cy="569.2" r="6.5" fill="#fff" stroke="#000" stroke-width="1.9"/>
<circle cx="1766.9" cy="572.4" r="6.5" fill="#fff" stroke="#000" stroke-width="1.9"/>
<circle cx="1831.2" cy="577.2" r="6.5" fill="#fff" stroke="#000" stroke-width="1.9"/>
<circle cx="1895.9" cy="570.6" r="6.5" fill="#fff" stroke="#000" stroke-width="1.9"/>
<circle cx="2024.9" cy="592.7" r="6.5" fill="#fff" stroke="#000" stroke-width="1.9"/>
<line x1="1510.9" y1="360.3" x2="1510.9" y2="377.4" stroke="#000" stroke-width="1.8"/>
<line x1="1505.9" y1="360.3" x2="1515.9" y2="360.3" stroke="#000" stroke-width="1.9"/>
<line x1="1505.9" y1="377.4" x2="1515.9" y2="377.4" stroke="#000" stroke-width="1.9"/>
<path d="M1502.1 368.6L1510.9 360.6L1519.7 368.6L1510.9 376.6Z" fill="#56b814" stroke="#000" stroke-width="2.1" stroke-linejoin="miter"/>
<line x1="2024.9" y1="370.2" x2="2024.9" y2="415.4" stroke="#000" stroke-width="1.8"/>
<line x1="2019.9" y1="370.2" x2="2029.9" y2="370.2" stroke="#000" stroke-width="1.9"/>
<line x1="2019.9" y1="415.4" x2="2029.9" y2="415.4" stroke="#000" stroke-width="1.9"/>
<path d="M2016.1 393L2024.9 385L2033.7 393L2024.9 401Z" fill="#56b814" stroke="#000" stroke-width="2.1" stroke-linejoin="miter"/>
<path d="M1865.2 728.6V678.4H2046.4" fill="none" stroke="#000" stroke-width="2.5"/>
<path d="M1882.6 704.8L1891 696.7L1899.4 704.8L1891 712.9Z" fill="#56b814" stroke="#000" stroke-width="2.1" stroke-linejoin="miter"/>
<text transform="translate(1910.2 712) scale(1 1.04)" font-size="25" text-anchor="start">No inhibitor</text>
</svg></body></html>
